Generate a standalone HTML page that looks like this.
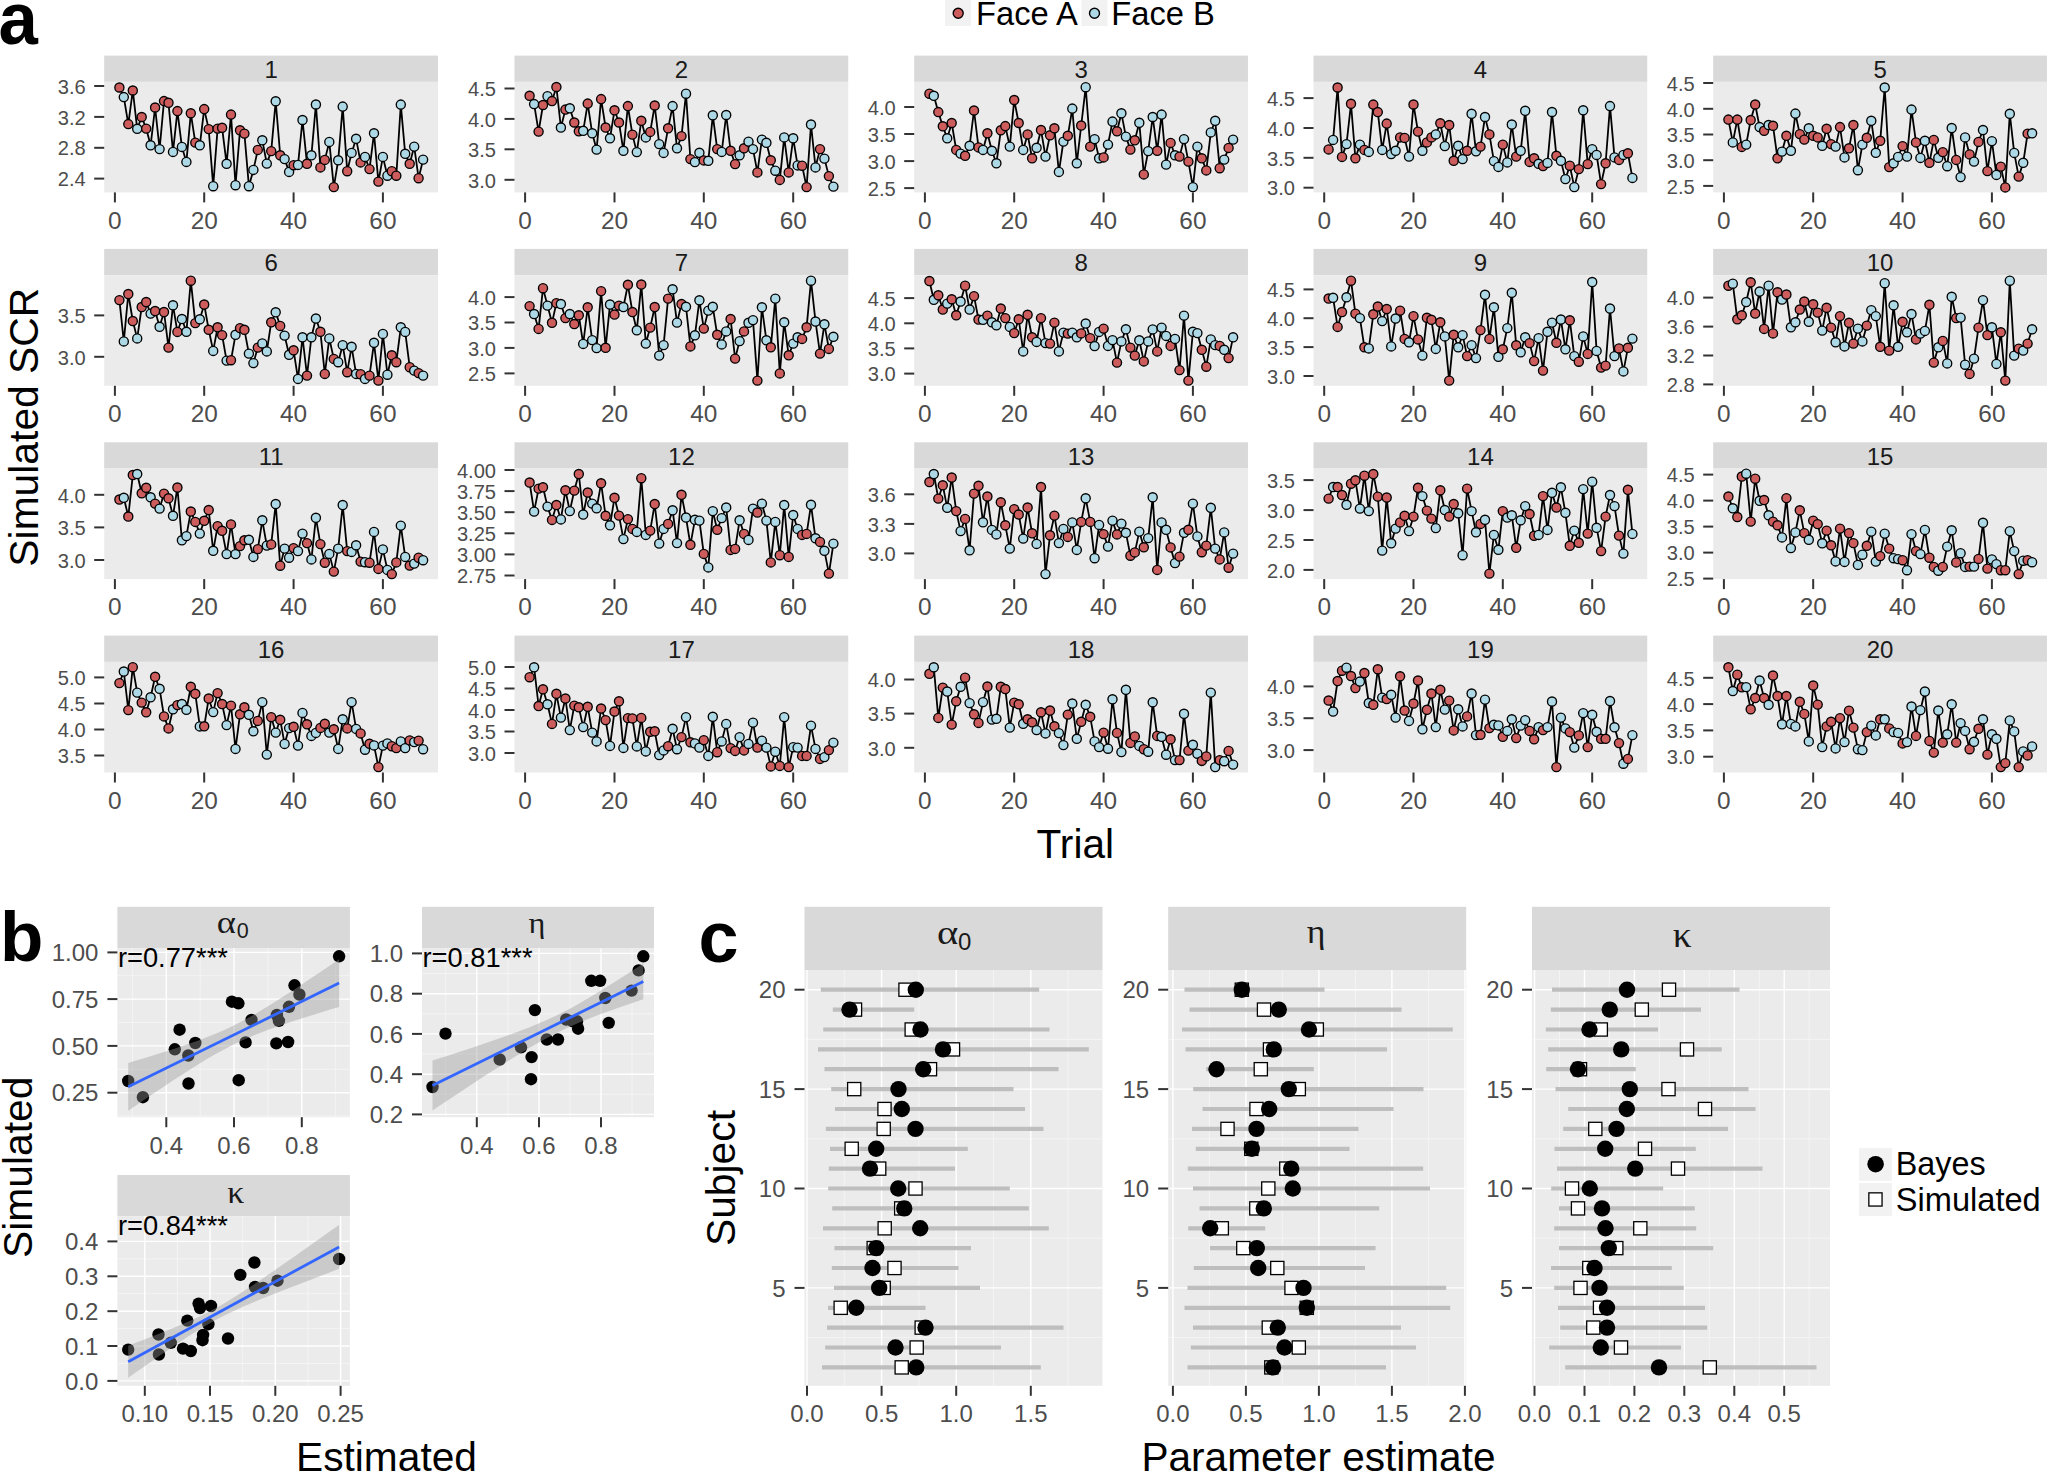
<!DOCTYPE html>
<html lang="en"><head><meta charset="utf-8"><title>Figure</title>
<style>
html,body{margin:0;padding:0;background:#fff;}
body{width:2048px;height:1472px;overflow:hidden;}
svg{display:block;font-family:"Liberation Sans", Arial, Helvetica, sans-serif;}
</style></head><body>
<svg width="2048" height="1472" viewBox="0 0 2048 1472">
<rect width="2048" height="1472" fill="#fff"/>
<g id="panel-a">
<rect x="104.2" y="55.6" width="333.75" height="26.25" fill="#D9D9D9"/>
<rect x="104.2" y="81.8" width="333.75" height="110.6" fill="#EBEBEB"/>
<text x="271.1" y="77.8" font-size="24" text-anchor="middle" fill="#1A1A1A">1</text>
<line x1="94.2" x2="104.2" y1="86" y2="86" stroke="#333333" stroke-width="2"/>
<text x="85.8" y="93.7" font-size="20.1" text-anchor="end" fill="#4D4D4D">3.6</text>
<line x1="94.2" x2="104.2" y1="116.9" y2="116.9" stroke="#333333" stroke-width="2"/>
<text x="85.8" y="124.6" font-size="20.1" text-anchor="end" fill="#4D4D4D">3.2</text>
<line x1="94.2" x2="104.2" y1="147.8" y2="147.8" stroke="#333333" stroke-width="2"/>
<text x="85.8" y="155.4" font-size="20.1" text-anchor="end" fill="#4D4D4D">2.8</text>
<line x1="94.2" x2="104.2" y1="178.6" y2="178.6" stroke="#333333" stroke-width="2"/>
<text x="85.8" y="186.3" font-size="20.1" text-anchor="end" fill="#4D4D4D">2.4</text>
<line x1="114.9" x2="114.9" y1="192.4" y2="202.4" stroke="#333333" stroke-width="2"/>
<text x="114.9" y="228.6" font-size="24.4" text-anchor="middle" fill="#4D4D4D">0</text>
<line x1="204.2" x2="204.2" y1="192.4" y2="202.4" stroke="#333333" stroke-width="2"/>
<text x="204.2" y="228.6" font-size="24.4" text-anchor="middle" fill="#4D4D4D">20</text>
<line x1="293.6" x2="293.6" y1="192.4" y2="202.4" stroke="#333333" stroke-width="2"/>
<text x="293.6" y="228.6" font-size="24.4" text-anchor="middle" fill="#4D4D4D">40</text>
<line x1="382.9" x2="382.9" y1="192.4" y2="202.4" stroke="#333333" stroke-width="2"/>
<text x="382.9" y="228.6" font-size="24.4" text-anchor="middle" fill="#4D4D4D">60</text>
<polyline fill="none" stroke="#000" stroke-width="1.8" stroke-linejoin="round" points="119.4,87.5 123.8,97.1 128.3,124.1 132.8,90.5 137.2,128.8 141.7,117 146.2,128.6 150.6,145.3 155.1,107.5 159.6,149.1 164,101.1 168.5,102.8 173,151.9 177.4,111.1 181.9,146.9 186.4,161.9 190.8,113.3 195.3,142.6 199.8,145.3 204.2,109.1 208.7,129.1 213.2,186.2 217.6,128.6 222.1,127.8 226.6,163.8 231,114.6 235.5,185.2 240,130.3 244.4,133.6 248.9,186.2 253.4,169.9 257.8,149.9 262.3,140.3 266.8,163.6 271.2,151.1 275.7,101.3 280.2,155.3 284.6,159.1 289.1,171.9 293.6,165.2 298,164.9 302.5,120 307,163.8 311.4,155.3 315.9,104.5 320.4,167.4 324.8,159.9 329.3,141.9 333.8,187.1 338.2,160.3 342.7,106.6 347.2,171.2 351.6,152.9 356.1,138.8 360.6,162.4 365,156.9 369.5,169.1 374,133.3 378.4,181.6 382.9,156.9 387.4,175.7 391.8,171.2 396.3,175.7 400.8,104.6 405.2,153.8 409.7,163.8 414.2,146.6 418.6,178.2 423.1,159.6"/>
<circle cx="119.4" cy="87.5" r="4.55" fill="#CD5C5C" stroke="#000" stroke-width="1.35"/>
<circle cx="123.8" cy="97.1" r="4.55" fill="#ADD8E6" stroke="#000" stroke-width="1.35"/>
<circle cx="128.3" cy="124.1" r="4.55" fill="#CD5C5C" stroke="#000" stroke-width="1.35"/>
<circle cx="132.8" cy="90.5" r="4.55" fill="#CD5C5C" stroke="#000" stroke-width="1.35"/>
<circle cx="137.2" cy="128.8" r="4.55" fill="#ADD8E6" stroke="#000" stroke-width="1.35"/>
<circle cx="141.7" cy="117" r="4.55" fill="#CD5C5C" stroke="#000" stroke-width="1.35"/>
<circle cx="146.2" cy="128.6" r="4.55" fill="#CD5C5C" stroke="#000" stroke-width="1.35"/>
<circle cx="150.6" cy="145.3" r="4.55" fill="#ADD8E6" stroke="#000" stroke-width="1.35"/>
<circle cx="155.1" cy="107.5" r="4.55" fill="#CD5C5C" stroke="#000" stroke-width="1.35"/>
<circle cx="159.6" cy="149.1" r="4.55" fill="#ADD8E6" stroke="#000" stroke-width="1.35"/>
<circle cx="164" cy="101.1" r="4.55" fill="#CD5C5C" stroke="#000" stroke-width="1.35"/>
<circle cx="168.5" cy="102.8" r="4.55" fill="#CD5C5C" stroke="#000" stroke-width="1.35"/>
<circle cx="173" cy="151.9" r="4.55" fill="#ADD8E6" stroke="#000" stroke-width="1.35"/>
<circle cx="177.4" cy="111.1" r="4.55" fill="#CD5C5C" stroke="#000" stroke-width="1.35"/>
<circle cx="181.9" cy="146.9" r="4.55" fill="#ADD8E6" stroke="#000" stroke-width="1.35"/>
<circle cx="186.4" cy="161.9" r="4.55" fill="#ADD8E6" stroke="#000" stroke-width="1.35"/>
<circle cx="190.8" cy="113.3" r="4.55" fill="#CD5C5C" stroke="#000" stroke-width="1.35"/>
<circle cx="195.3" cy="142.6" r="4.55" fill="#CD5C5C" stroke="#000" stroke-width="1.35"/>
<circle cx="199.8" cy="145.3" r="4.55" fill="#ADD8E6" stroke="#000" stroke-width="1.35"/>
<circle cx="204.2" cy="109.1" r="4.55" fill="#CD5C5C" stroke="#000" stroke-width="1.35"/>
<circle cx="208.7" cy="129.1" r="4.55" fill="#CD5C5C" stroke="#000" stroke-width="1.35"/>
<circle cx="213.2" cy="186.2" r="4.55" fill="#ADD8E6" stroke="#000" stroke-width="1.35"/>
<circle cx="217.6" cy="128.6" r="4.55" fill="#CD5C5C" stroke="#000" stroke-width="1.35"/>
<circle cx="222.1" cy="127.8" r="4.55" fill="#CD5C5C" stroke="#000" stroke-width="1.35"/>
<circle cx="226.6" cy="163.8" r="4.55" fill="#ADD8E6" stroke="#000" stroke-width="1.35"/>
<circle cx="231" cy="114.6" r="4.55" fill="#CD5C5C" stroke="#000" stroke-width="1.35"/>
<circle cx="235.5" cy="185.2" r="4.55" fill="#ADD8E6" stroke="#000" stroke-width="1.35"/>
<circle cx="240" cy="130.3" r="4.55" fill="#CD5C5C" stroke="#000" stroke-width="1.35"/>
<circle cx="244.4" cy="133.6" r="4.55" fill="#CD5C5C" stroke="#000" stroke-width="1.35"/>
<circle cx="248.9" cy="186.2" r="4.55" fill="#ADD8E6" stroke="#000" stroke-width="1.35"/>
<circle cx="253.4" cy="169.9" r="4.55" fill="#ADD8E6" stroke="#000" stroke-width="1.35"/>
<circle cx="257.8" cy="149.9" r="4.55" fill="#CD5C5C" stroke="#000" stroke-width="1.35"/>
<circle cx="262.3" cy="140.3" r="4.55" fill="#ADD8E6" stroke="#000" stroke-width="1.35"/>
<circle cx="266.8" cy="163.6" r="4.55" fill="#ADD8E6" stroke="#000" stroke-width="1.35"/>
<circle cx="271.2" cy="151.1" r="4.55" fill="#CD5C5C" stroke="#000" stroke-width="1.35"/>
<circle cx="275.7" cy="101.3" r="4.55" fill="#ADD8E6" stroke="#000" stroke-width="1.35"/>
<circle cx="280.2" cy="155.3" r="4.55" fill="#CD5C5C" stroke="#000" stroke-width="1.35"/>
<circle cx="284.6" cy="159.1" r="4.55" fill="#ADD8E6" stroke="#000" stroke-width="1.35"/>
<circle cx="289.1" cy="171.9" r="4.55" fill="#ADD8E6" stroke="#000" stroke-width="1.35"/>
<circle cx="293.6" cy="165.2" r="4.55" fill="#CD5C5C" stroke="#000" stroke-width="1.35"/>
<circle cx="298" cy="164.9" r="4.55" fill="#ADD8E6" stroke="#000" stroke-width="1.35"/>
<circle cx="302.5" cy="120" r="4.55" fill="#ADD8E6" stroke="#000" stroke-width="1.35"/>
<circle cx="307" cy="163.8" r="4.55" fill="#CD5C5C" stroke="#000" stroke-width="1.35"/>
<circle cx="311.4" cy="155.3" r="4.55" fill="#ADD8E6" stroke="#000" stroke-width="1.35"/>
<circle cx="315.9" cy="104.5" r="4.55" fill="#ADD8E6" stroke="#000" stroke-width="1.35"/>
<circle cx="320.4" cy="167.4" r="4.55" fill="#CD5C5C" stroke="#000" stroke-width="1.35"/>
<circle cx="324.8" cy="159.9" r="4.55" fill="#CD5C5C" stroke="#000" stroke-width="1.35"/>
<circle cx="329.3" cy="141.9" r="4.55" fill="#ADD8E6" stroke="#000" stroke-width="1.35"/>
<circle cx="333.8" cy="187.1" r="4.55" fill="#CD5C5C" stroke="#000" stroke-width="1.35"/>
<circle cx="338.2" cy="160.3" r="4.55" fill="#ADD8E6" stroke="#000" stroke-width="1.35"/>
<circle cx="342.7" cy="106.6" r="4.55" fill="#ADD8E6" stroke="#000" stroke-width="1.35"/>
<circle cx="347.2" cy="171.2" r="4.55" fill="#CD5C5C" stroke="#000" stroke-width="1.35"/>
<circle cx="351.6" cy="152.9" r="4.55" fill="#ADD8E6" stroke="#000" stroke-width="1.35"/>
<circle cx="356.1" cy="138.8" r="4.55" fill="#ADD8E6" stroke="#000" stroke-width="1.35"/>
<circle cx="360.6" cy="162.4" r="4.55" fill="#CD5C5C" stroke="#000" stroke-width="1.35"/>
<circle cx="365" cy="156.9" r="4.55" fill="#ADD8E6" stroke="#000" stroke-width="1.35"/>
<circle cx="369.5" cy="169.1" r="4.55" fill="#CD5C5C" stroke="#000" stroke-width="1.35"/>
<circle cx="374" cy="133.3" r="4.55" fill="#ADD8E6" stroke="#000" stroke-width="1.35"/>
<circle cx="378.4" cy="181.6" r="4.55" fill="#CD5C5C" stroke="#000" stroke-width="1.35"/>
<circle cx="382.9" cy="156.9" r="4.55" fill="#ADD8E6" stroke="#000" stroke-width="1.35"/>
<circle cx="387.4" cy="175.7" r="4.55" fill="#ADD8E6" stroke="#000" stroke-width="1.35"/>
<circle cx="391.8" cy="171.2" r="4.55" fill="#CD5C5C" stroke="#000" stroke-width="1.35"/>
<circle cx="396.3" cy="175.7" r="4.55" fill="#CD5C5C" stroke="#000" stroke-width="1.35"/>
<circle cx="400.8" cy="104.6" r="4.55" fill="#ADD8E6" stroke="#000" stroke-width="1.35"/>
<circle cx="405.2" cy="153.8" r="4.55" fill="#ADD8E6" stroke="#000" stroke-width="1.35"/>
<circle cx="409.7" cy="163.8" r="4.55" fill="#CD5C5C" stroke="#000" stroke-width="1.35"/>
<circle cx="414.2" cy="146.6" r="4.55" fill="#ADD8E6" stroke="#000" stroke-width="1.35"/>
<circle cx="418.6" cy="178.2" r="4.55" fill="#CD5C5C" stroke="#000" stroke-width="1.35"/>
<circle cx="423.1" cy="159.6" r="4.55" fill="#ADD8E6" stroke="#000" stroke-width="1.35"/>
<rect x="514.5" y="55.6" width="333.75" height="26.25" fill="#D9D9D9"/>
<rect x="514.5" y="81.8" width="333.75" height="110.6" fill="#EBEBEB"/>
<text x="681.4" y="77.8" font-size="24" text-anchor="middle" fill="#1A1A1A">2</text>
<line x1="504.5" x2="514.5" y1="88.5" y2="88.5" stroke="#333333" stroke-width="2"/>
<text x="496" y="96.2" font-size="20.1" text-anchor="end" fill="#4D4D4D">4.5</text>
<line x1="504.5" x2="514.5" y1="118.9" y2="118.9" stroke="#333333" stroke-width="2"/>
<text x="496" y="126.6" font-size="20.1" text-anchor="end" fill="#4D4D4D">4.0</text>
<line x1="504.5" x2="514.5" y1="149.3" y2="149.3" stroke="#333333" stroke-width="2"/>
<text x="496" y="157" font-size="20.1" text-anchor="end" fill="#4D4D4D">3.5</text>
<line x1="504.5" x2="514.5" y1="179.8" y2="179.8" stroke="#333333" stroke-width="2"/>
<text x="496" y="187.5" font-size="20.1" text-anchor="end" fill="#4D4D4D">3.0</text>
<line x1="525.1" x2="525.1" y1="192.4" y2="202.4" stroke="#333333" stroke-width="2"/>
<text x="525.1" y="228.6" font-size="24.4" text-anchor="middle" fill="#4D4D4D">0</text>
<line x1="614.5" x2="614.5" y1="192.4" y2="202.4" stroke="#333333" stroke-width="2"/>
<text x="614.5" y="228.6" font-size="24.4" text-anchor="middle" fill="#4D4D4D">20</text>
<line x1="703.8" x2="703.8" y1="192.4" y2="202.4" stroke="#333333" stroke-width="2"/>
<text x="703.8" y="228.6" font-size="24.4" text-anchor="middle" fill="#4D4D4D">40</text>
<line x1="793.2" x2="793.2" y1="192.4" y2="202.4" stroke="#333333" stroke-width="2"/>
<text x="793.2" y="228.6" font-size="24.4" text-anchor="middle" fill="#4D4D4D">60</text>
<polyline fill="none" stroke="#000" stroke-width="1.8" stroke-linejoin="round" points="529.6,95.8 534.1,104.1 538.6,131.6 543,105 547.5,96.2 552,101.1 556.4,87 560.9,127.5 565.4,109.6 569.8,108.3 574.3,122.5 578.8,131.3 583.2,130.8 587.7,103.6 592.2,133.3 596.6,149.6 601.1,99.1 605.6,127.5 610,138.3 614.5,110.3 619,122.5 623.4,150.8 627.9,106.1 632.4,134.6 636.8,152.1 641.3,120.8 645.8,137.4 650.2,131.9 654.7,105.5 659.2,144.1 663.6,152.9 668.1,128.3 672.6,106.1 677,148.3 681.5,136.1 686,93.7 690.4,159.1 694.9,162.1 699.4,152.8 703.8,160.4 708.3,160.8 712.8,115.3 717.2,149.1 721.7,151.9 726.2,115 730.6,150.8 735.1,164.1 739.6,155.3 744,148.3 748.5,141.6 753,149.1 757.4,172.4 761.9,139.6 766.4,142.8 770.8,160.3 775.3,170.7 779.8,179.9 784.2,137.4 788.7,172.4 793.2,138.3 797.6,165.4 802.1,165.7 806.6,187.1 811,124.5 815.5,167.4 820,149.1 824.4,158.6 828.9,176.1 833.4,186.6"/>
<circle cx="529.6" cy="95.8" r="4.55" fill="#CD5C5C" stroke="#000" stroke-width="1.35"/>
<circle cx="534.1" cy="104.1" r="4.55" fill="#ADD8E6" stroke="#000" stroke-width="1.35"/>
<circle cx="538.6" cy="131.6" r="4.55" fill="#CD5C5C" stroke="#000" stroke-width="1.35"/>
<circle cx="543" cy="105" r="4.55" fill="#CD5C5C" stroke="#000" stroke-width="1.35"/>
<circle cx="547.5" cy="96.2" r="4.55" fill="#ADD8E6" stroke="#000" stroke-width="1.35"/>
<circle cx="552" cy="101.1" r="4.55" fill="#CD5C5C" stroke="#000" stroke-width="1.35"/>
<circle cx="556.4" cy="87" r="4.55" fill="#CD5C5C" stroke="#000" stroke-width="1.35"/>
<circle cx="560.9" cy="127.5" r="4.55" fill="#ADD8E6" stroke="#000" stroke-width="1.35"/>
<circle cx="565.4" cy="109.6" r="4.55" fill="#CD5C5C" stroke="#000" stroke-width="1.35"/>
<circle cx="569.8" cy="108.3" r="4.55" fill="#ADD8E6" stroke="#000" stroke-width="1.35"/>
<circle cx="574.3" cy="122.5" r="4.55" fill="#CD5C5C" stroke="#000" stroke-width="1.35"/>
<circle cx="578.8" cy="131.3" r="4.55" fill="#CD5C5C" stroke="#000" stroke-width="1.35"/>
<circle cx="583.2" cy="130.8" r="4.55" fill="#ADD8E6" stroke="#000" stroke-width="1.35"/>
<circle cx="587.7" cy="103.6" r="4.55" fill="#CD5C5C" stroke="#000" stroke-width="1.35"/>
<circle cx="592.2" cy="133.3" r="4.55" fill="#ADD8E6" stroke="#000" stroke-width="1.35"/>
<circle cx="596.6" cy="149.6" r="4.55" fill="#ADD8E6" stroke="#000" stroke-width="1.35"/>
<circle cx="601.1" cy="99.1" r="4.55" fill="#CD5C5C" stroke="#000" stroke-width="1.35"/>
<circle cx="605.6" cy="127.5" r="4.55" fill="#CD5C5C" stroke="#000" stroke-width="1.35"/>
<circle cx="610" cy="138.3" r="4.55" fill="#ADD8E6" stroke="#000" stroke-width="1.35"/>
<circle cx="614.5" cy="110.3" r="4.55" fill="#CD5C5C" stroke="#000" stroke-width="1.35"/>
<circle cx="619" cy="122.5" r="4.55" fill="#CD5C5C" stroke="#000" stroke-width="1.35"/>
<circle cx="623.4" cy="150.8" r="4.55" fill="#ADD8E6" stroke="#000" stroke-width="1.35"/>
<circle cx="627.9" cy="106.1" r="4.55" fill="#CD5C5C" stroke="#000" stroke-width="1.35"/>
<circle cx="632.4" cy="134.6" r="4.55" fill="#CD5C5C" stroke="#000" stroke-width="1.35"/>
<circle cx="636.8" cy="152.1" r="4.55" fill="#ADD8E6" stroke="#000" stroke-width="1.35"/>
<circle cx="641.3" cy="120.8" r="4.55" fill="#CD5C5C" stroke="#000" stroke-width="1.35"/>
<circle cx="645.8" cy="137.4" r="4.55" fill="#ADD8E6" stroke="#000" stroke-width="1.35"/>
<circle cx="650.2" cy="131.9" r="4.55" fill="#CD5C5C" stroke="#000" stroke-width="1.35"/>
<circle cx="654.7" cy="105.5" r="4.55" fill="#CD5C5C" stroke="#000" stroke-width="1.35"/>
<circle cx="659.2" cy="144.1" r="4.55" fill="#ADD8E6" stroke="#000" stroke-width="1.35"/>
<circle cx="663.6" cy="152.9" r="4.55" fill="#ADD8E6" stroke="#000" stroke-width="1.35"/>
<circle cx="668.1" cy="128.3" r="4.55" fill="#CD5C5C" stroke="#000" stroke-width="1.35"/>
<circle cx="672.6" cy="106.1" r="4.55" fill="#ADD8E6" stroke="#000" stroke-width="1.35"/>
<circle cx="677" cy="148.3" r="4.55" fill="#ADD8E6" stroke="#000" stroke-width="1.35"/>
<circle cx="681.5" cy="136.1" r="4.55" fill="#CD5C5C" stroke="#000" stroke-width="1.35"/>
<circle cx="686" cy="93.7" r="4.55" fill="#ADD8E6" stroke="#000" stroke-width="1.35"/>
<circle cx="690.4" cy="159.1" r="4.55" fill="#CD5C5C" stroke="#000" stroke-width="1.35"/>
<circle cx="694.9" cy="162.1" r="4.55" fill="#ADD8E6" stroke="#000" stroke-width="1.35"/>
<circle cx="699.4" cy="152.8" r="4.55" fill="#ADD8E6" stroke="#000" stroke-width="1.35"/>
<circle cx="703.8" cy="160.4" r="4.55" fill="#CD5C5C" stroke="#000" stroke-width="1.35"/>
<circle cx="708.3" cy="160.8" r="4.55" fill="#ADD8E6" stroke="#000" stroke-width="1.35"/>
<circle cx="712.8" cy="115.3" r="4.55" fill="#ADD8E6" stroke="#000" stroke-width="1.35"/>
<circle cx="717.2" cy="149.1" r="4.55" fill="#CD5C5C" stroke="#000" stroke-width="1.35"/>
<circle cx="721.7" cy="151.9" r="4.55" fill="#ADD8E6" stroke="#000" stroke-width="1.35"/>
<circle cx="726.2" cy="115" r="4.55" fill="#ADD8E6" stroke="#000" stroke-width="1.35"/>
<circle cx="730.6" cy="150.8" r="4.55" fill="#CD5C5C" stroke="#000" stroke-width="1.35"/>
<circle cx="735.1" cy="164.1" r="4.55" fill="#CD5C5C" stroke="#000" stroke-width="1.35"/>
<circle cx="739.6" cy="155.3" r="4.55" fill="#ADD8E6" stroke="#000" stroke-width="1.35"/>
<circle cx="744" cy="148.3" r="4.55" fill="#CD5C5C" stroke="#000" stroke-width="1.35"/>
<circle cx="748.5" cy="141.6" r="4.55" fill="#ADD8E6" stroke="#000" stroke-width="1.35"/>
<circle cx="753" cy="149.1" r="4.55" fill="#ADD8E6" stroke="#000" stroke-width="1.35"/>
<circle cx="757.4" cy="172.4" r="4.55" fill="#CD5C5C" stroke="#000" stroke-width="1.35"/>
<circle cx="761.9" cy="139.6" r="4.55" fill="#ADD8E6" stroke="#000" stroke-width="1.35"/>
<circle cx="766.4" cy="142.8" r="4.55" fill="#ADD8E6" stroke="#000" stroke-width="1.35"/>
<circle cx="770.8" cy="160.3" r="4.55" fill="#CD5C5C" stroke="#000" stroke-width="1.35"/>
<circle cx="775.3" cy="170.7" r="4.55" fill="#ADD8E6" stroke="#000" stroke-width="1.35"/>
<circle cx="779.8" cy="179.9" r="4.55" fill="#CD5C5C" stroke="#000" stroke-width="1.35"/>
<circle cx="784.2" cy="137.4" r="4.55" fill="#ADD8E6" stroke="#000" stroke-width="1.35"/>
<circle cx="788.7" cy="172.4" r="4.55" fill="#CD5C5C" stroke="#000" stroke-width="1.35"/>
<circle cx="793.2" cy="138.3" r="4.55" fill="#ADD8E6" stroke="#000" stroke-width="1.35"/>
<circle cx="797.6" cy="165.4" r="4.55" fill="#ADD8E6" stroke="#000" stroke-width="1.35"/>
<circle cx="802.1" cy="165.7" r="4.55" fill="#CD5C5C" stroke="#000" stroke-width="1.35"/>
<circle cx="806.6" cy="187.1" r="4.55" fill="#CD5C5C" stroke="#000" stroke-width="1.35"/>
<circle cx="811" cy="124.5" r="4.55" fill="#ADD8E6" stroke="#000" stroke-width="1.35"/>
<circle cx="815.5" cy="167.4" r="4.55" fill="#ADD8E6" stroke="#000" stroke-width="1.35"/>
<circle cx="820" cy="149.1" r="4.55" fill="#CD5C5C" stroke="#000" stroke-width="1.35"/>
<circle cx="824.4" cy="158.6" r="4.55" fill="#ADD8E6" stroke="#000" stroke-width="1.35"/>
<circle cx="828.9" cy="176.1" r="4.55" fill="#CD5C5C" stroke="#000" stroke-width="1.35"/>
<circle cx="833.4" cy="186.6" r="4.55" fill="#ADD8E6" stroke="#000" stroke-width="1.35"/>
<rect x="914.2" y="55.6" width="333.75" height="26.25" fill="#D9D9D9"/>
<rect x="914.2" y="81.8" width="333.75" height="110.6" fill="#EBEBEB"/>
<text x="1081.1" y="77.8" font-size="24" text-anchor="middle" fill="#1A1A1A">3</text>
<line x1="904.2" x2="914.2" y1="107" y2="107" stroke="#333333" stroke-width="2"/>
<text x="895.8" y="114.7" font-size="20.1" text-anchor="end" fill="#4D4D4D">4.0</text>
<line x1="904.2" x2="914.2" y1="134" y2="134" stroke="#333333" stroke-width="2"/>
<text x="895.8" y="141.7" font-size="20.1" text-anchor="end" fill="#4D4D4D">3.5</text>
<line x1="904.2" x2="914.2" y1="161.1" y2="161.1" stroke="#333333" stroke-width="2"/>
<text x="895.8" y="168.8" font-size="20.1" text-anchor="end" fill="#4D4D4D">3.0</text>
<line x1="904.2" x2="914.2" y1="188.1" y2="188.1" stroke="#333333" stroke-width="2"/>
<text x="895.8" y="195.8" font-size="20.1" text-anchor="end" fill="#4D4D4D">2.5</text>
<line x1="924.9" x2="924.9" y1="192.4" y2="202.4" stroke="#333333" stroke-width="2"/>
<text x="924.9" y="228.6" font-size="24.4" text-anchor="middle" fill="#4D4D4D">0</text>
<line x1="1014.2" x2="1014.2" y1="192.4" y2="202.4" stroke="#333333" stroke-width="2"/>
<text x="1014.2" y="228.6" font-size="24.4" text-anchor="middle" fill="#4D4D4D">20</text>
<line x1="1103.6" x2="1103.6" y1="192.4" y2="202.4" stroke="#333333" stroke-width="2"/>
<text x="1103.6" y="228.6" font-size="24.4" text-anchor="middle" fill="#4D4D4D">40</text>
<line x1="1192.9" x2="1192.9" y1="192.4" y2="202.4" stroke="#333333" stroke-width="2"/>
<text x="1192.9" y="228.6" font-size="24.4" text-anchor="middle" fill="#4D4D4D">60</text>
<polyline fill="none" stroke="#000" stroke-width="1.8" stroke-linejoin="round" points="929.4,93.7 933.8,95.8 938.3,112.1 942.8,126.3 947.2,138.3 951.7,123 956.2,149.9 960.6,153.6 965.1,155.8 969.6,145.8 974,110.5 978.5,147.4 983,149.9 987.4,133.3 991.9,150.8 996.4,163.3 1000.8,130.3 1005.3,126.1 1009.8,146.6 1014.2,100 1018.7,123 1023.2,149.9 1027.6,134.4 1032.1,158.3 1036.6,147.8 1041,130 1045.5,156.6 1050,135.3 1054.4,128.3 1058.9,171.9 1063.4,141.6 1067.8,135.8 1072.3,108.6 1076.8,163.3 1081.2,125.5 1085.7,87.2 1090.2,146.6 1094.6,139.1 1099.1,158.3 1103.6,157.4 1108,144.6 1112.5,121.6 1117,131.3 1121.4,113.3 1125.9,136.6 1130.4,149.6 1134.8,140.3 1139.3,122.8 1143.8,174.4 1148.2,151.1 1152.7,117 1157.2,150.8 1161.6,114.6 1166.1,164.6 1170.6,142.9 1175,155.3 1179.5,156.6 1184,139.1 1188.4,161.6 1192.9,187.1 1197.4,146.6 1201.8,158.3 1206.3,170.4 1210.8,132.4 1215.2,120.8 1219.7,168.2 1224.2,159.6 1228.6,147.9 1233.1,139.6"/>
<circle cx="929.4" cy="93.7" r="4.55" fill="#CD5C5C" stroke="#000" stroke-width="1.35"/>
<circle cx="933.8" cy="95.8" r="4.55" fill="#ADD8E6" stroke="#000" stroke-width="1.35"/>
<circle cx="938.3" cy="112.1" r="4.55" fill="#CD5C5C" stroke="#000" stroke-width="1.35"/>
<circle cx="942.8" cy="126.3" r="4.55" fill="#CD5C5C" stroke="#000" stroke-width="1.35"/>
<circle cx="947.2" cy="138.3" r="4.55" fill="#ADD8E6" stroke="#000" stroke-width="1.35"/>
<circle cx="951.7" cy="123" r="4.55" fill="#CD5C5C" stroke="#000" stroke-width="1.35"/>
<circle cx="956.2" cy="149.9" r="4.55" fill="#CD5C5C" stroke="#000" stroke-width="1.35"/>
<circle cx="960.6" cy="153.6" r="4.55" fill="#ADD8E6" stroke="#000" stroke-width="1.35"/>
<circle cx="965.1" cy="155.8" r="4.55" fill="#CD5C5C" stroke="#000" stroke-width="1.35"/>
<circle cx="969.6" cy="145.8" r="4.55" fill="#ADD8E6" stroke="#000" stroke-width="1.35"/>
<circle cx="974" cy="110.5" r="4.55" fill="#CD5C5C" stroke="#000" stroke-width="1.35"/>
<circle cx="978.5" cy="147.4" r="4.55" fill="#CD5C5C" stroke="#000" stroke-width="1.35"/>
<circle cx="983" cy="149.9" r="4.55" fill="#ADD8E6" stroke="#000" stroke-width="1.35"/>
<circle cx="987.4" cy="133.3" r="4.55" fill="#CD5C5C" stroke="#000" stroke-width="1.35"/>
<circle cx="991.9" cy="150.8" r="4.55" fill="#ADD8E6" stroke="#000" stroke-width="1.35"/>
<circle cx="996.4" cy="163.3" r="4.55" fill="#ADD8E6" stroke="#000" stroke-width="1.35"/>
<circle cx="1000.8" cy="130.3" r="4.55" fill="#CD5C5C" stroke="#000" stroke-width="1.35"/>
<circle cx="1005.3" cy="126.1" r="4.55" fill="#CD5C5C" stroke="#000" stroke-width="1.35"/>
<circle cx="1009.8" cy="146.6" r="4.55" fill="#ADD8E6" stroke="#000" stroke-width="1.35"/>
<circle cx="1014.2" cy="100" r="4.55" fill="#CD5C5C" stroke="#000" stroke-width="1.35"/>
<circle cx="1018.7" cy="123" r="4.55" fill="#CD5C5C" stroke="#000" stroke-width="1.35"/>
<circle cx="1023.2" cy="149.9" r="4.55" fill="#ADD8E6" stroke="#000" stroke-width="1.35"/>
<circle cx="1027.6" cy="134.4" r="4.55" fill="#CD5C5C" stroke="#000" stroke-width="1.35"/>
<circle cx="1032.1" cy="158.3" r="4.55" fill="#CD5C5C" stroke="#000" stroke-width="1.35"/>
<circle cx="1036.6" cy="147.8" r="4.55" fill="#ADD8E6" stroke="#000" stroke-width="1.35"/>
<circle cx="1041" cy="130" r="4.55" fill="#CD5C5C" stroke="#000" stroke-width="1.35"/>
<circle cx="1045.5" cy="156.6" r="4.55" fill="#ADD8E6" stroke="#000" stroke-width="1.35"/>
<circle cx="1050" cy="135.3" r="4.55" fill="#CD5C5C" stroke="#000" stroke-width="1.35"/>
<circle cx="1054.4" cy="128.3" r="4.55" fill="#CD5C5C" stroke="#000" stroke-width="1.35"/>
<circle cx="1058.9" cy="171.9" r="4.55" fill="#ADD8E6" stroke="#000" stroke-width="1.35"/>
<circle cx="1063.4" cy="141.6" r="4.55" fill="#ADD8E6" stroke="#000" stroke-width="1.35"/>
<circle cx="1067.8" cy="135.8" r="4.55" fill="#CD5C5C" stroke="#000" stroke-width="1.35"/>
<circle cx="1072.3" cy="108.6" r="4.55" fill="#ADD8E6" stroke="#000" stroke-width="1.35"/>
<circle cx="1076.8" cy="163.3" r="4.55" fill="#ADD8E6" stroke="#000" stroke-width="1.35"/>
<circle cx="1081.2" cy="125.5" r="4.55" fill="#CD5C5C" stroke="#000" stroke-width="1.35"/>
<circle cx="1085.7" cy="87.2" r="4.55" fill="#ADD8E6" stroke="#000" stroke-width="1.35"/>
<circle cx="1090.2" cy="146.6" r="4.55" fill="#CD5C5C" stroke="#000" stroke-width="1.35"/>
<circle cx="1094.6" cy="139.1" r="4.55" fill="#ADD8E6" stroke="#000" stroke-width="1.35"/>
<circle cx="1099.1" cy="158.3" r="4.55" fill="#ADD8E6" stroke="#000" stroke-width="1.35"/>
<circle cx="1103.6" cy="157.4" r="4.55" fill="#CD5C5C" stroke="#000" stroke-width="1.35"/>
<circle cx="1108" cy="144.6" r="4.55" fill="#ADD8E6" stroke="#000" stroke-width="1.35"/>
<circle cx="1112.5" cy="121.6" r="4.55" fill="#ADD8E6" stroke="#000" stroke-width="1.35"/>
<circle cx="1117" cy="131.3" r="4.55" fill="#CD5C5C" stroke="#000" stroke-width="1.35"/>
<circle cx="1121.4" cy="113.3" r="4.55" fill="#ADD8E6" stroke="#000" stroke-width="1.35"/>
<circle cx="1125.9" cy="136.6" r="4.55" fill="#ADD8E6" stroke="#000" stroke-width="1.35"/>
<circle cx="1130.4" cy="149.6" r="4.55" fill="#CD5C5C" stroke="#000" stroke-width="1.35"/>
<circle cx="1134.8" cy="140.3" r="4.55" fill="#CD5C5C" stroke="#000" stroke-width="1.35"/>
<circle cx="1139.3" cy="122.8" r="4.55" fill="#ADD8E6" stroke="#000" stroke-width="1.35"/>
<circle cx="1143.8" cy="174.4" r="4.55" fill="#CD5C5C" stroke="#000" stroke-width="1.35"/>
<circle cx="1148.2" cy="151.1" r="4.55" fill="#ADD8E6" stroke="#000" stroke-width="1.35"/>
<circle cx="1152.7" cy="117" r="4.55" fill="#ADD8E6" stroke="#000" stroke-width="1.35"/>
<circle cx="1157.2" cy="150.8" r="4.55" fill="#CD5C5C" stroke="#000" stroke-width="1.35"/>
<circle cx="1161.6" cy="114.6" r="4.55" fill="#ADD8E6" stroke="#000" stroke-width="1.35"/>
<circle cx="1166.1" cy="164.6" r="4.55" fill="#ADD8E6" stroke="#000" stroke-width="1.35"/>
<circle cx="1170.6" cy="142.9" r="4.55" fill="#CD5C5C" stroke="#000" stroke-width="1.35"/>
<circle cx="1175" cy="155.3" r="4.55" fill="#ADD8E6" stroke="#000" stroke-width="1.35"/>
<circle cx="1179.5" cy="156.6" r="4.55" fill="#CD5C5C" stroke="#000" stroke-width="1.35"/>
<circle cx="1184" cy="139.1" r="4.55" fill="#ADD8E6" stroke="#000" stroke-width="1.35"/>
<circle cx="1188.4" cy="161.6" r="4.55" fill="#CD5C5C" stroke="#000" stroke-width="1.35"/>
<circle cx="1192.9" cy="187.1" r="4.55" fill="#ADD8E6" stroke="#000" stroke-width="1.35"/>
<circle cx="1197.4" cy="146.6" r="4.55" fill="#ADD8E6" stroke="#000" stroke-width="1.35"/>
<circle cx="1201.8" cy="158.3" r="4.55" fill="#CD5C5C" stroke="#000" stroke-width="1.35"/>
<circle cx="1206.3" cy="170.4" r="4.55" fill="#CD5C5C" stroke="#000" stroke-width="1.35"/>
<circle cx="1210.8" cy="132.4" r="4.55" fill="#ADD8E6" stroke="#000" stroke-width="1.35"/>
<circle cx="1215.2" cy="120.8" r="4.55" fill="#ADD8E6" stroke="#000" stroke-width="1.35"/>
<circle cx="1219.7" cy="168.2" r="4.55" fill="#CD5C5C" stroke="#000" stroke-width="1.35"/>
<circle cx="1224.2" cy="159.6" r="4.55" fill="#ADD8E6" stroke="#000" stroke-width="1.35"/>
<circle cx="1228.6" cy="147.9" r="4.55" fill="#CD5C5C" stroke="#000" stroke-width="1.35"/>
<circle cx="1233.1" cy="139.6" r="4.55" fill="#ADD8E6" stroke="#000" stroke-width="1.35"/>
<rect x="1313.5" y="55.6" width="333.75" height="26.25" fill="#D9D9D9"/>
<rect x="1313.5" y="81.8" width="333.75" height="110.6" fill="#EBEBEB"/>
<text x="1480.4" y="77.8" font-size="24" text-anchor="middle" fill="#1A1A1A">4</text>
<line x1="1303.5" x2="1313.5" y1="98.1" y2="98.1" stroke="#333333" stroke-width="2"/>
<text x="1295" y="105.8" font-size="20.1" text-anchor="end" fill="#4D4D4D">4.5</text>
<line x1="1303.5" x2="1313.5" y1="128" y2="128" stroke="#333333" stroke-width="2"/>
<text x="1295" y="135.7" font-size="20.1" text-anchor="end" fill="#4D4D4D">4.0</text>
<line x1="1303.5" x2="1313.5" y1="157.8" y2="157.8" stroke="#333333" stroke-width="2"/>
<text x="1295" y="165.5" font-size="20.1" text-anchor="end" fill="#4D4D4D">3.5</text>
<line x1="1303.5" x2="1313.5" y1="187.7" y2="187.7" stroke="#333333" stroke-width="2"/>
<text x="1295" y="195.4" font-size="20.1" text-anchor="end" fill="#4D4D4D">3.0</text>
<line x1="1324.2" x2="1324.2" y1="192.4" y2="202.4" stroke="#333333" stroke-width="2"/>
<text x="1324.2" y="228.6" font-size="24.4" text-anchor="middle" fill="#4D4D4D">0</text>
<line x1="1413.5" x2="1413.5" y1="192.4" y2="202.4" stroke="#333333" stroke-width="2"/>
<text x="1413.5" y="228.6" font-size="24.4" text-anchor="middle" fill="#4D4D4D">20</text>
<line x1="1502.8" x2="1502.8" y1="192.4" y2="202.4" stroke="#333333" stroke-width="2"/>
<text x="1502.8" y="228.6" font-size="24.4" text-anchor="middle" fill="#4D4D4D">40</text>
<line x1="1592.2" x2="1592.2" y1="192.4" y2="202.4" stroke="#333333" stroke-width="2"/>
<text x="1592.2" y="228.6" font-size="24.4" text-anchor="middle" fill="#4D4D4D">60</text>
<polyline fill="none" stroke="#000" stroke-width="1.8" stroke-linejoin="round" points="1328.6,149.4 1333.1,139.9 1337.6,87.5 1342,156.9 1346.5,144.1 1351,103.8 1355.4,158.3 1359.9,144.6 1364.4,149.9 1368.8,151.9 1373.3,104.6 1377.8,112.1 1382.2,149.9 1386.7,123.6 1391.2,154.1 1395.6,150.8 1400.1,137.4 1404.6,137.9 1409,156.6 1413.5,104.5 1418,131.6 1422.4,150.8 1426.9,142.4 1431.4,137.4 1435.8,134.4 1440.3,123.3 1444.8,146.1 1449.2,125 1453.7,160.8 1458.2,145.8 1462.6,159.1 1467.1,150.8 1471.6,113.8 1476,151.3 1480.5,146.6 1485,117 1489.4,134.4 1493.9,161.1 1498.4,166.9 1502.8,144.6 1507.3,162.4 1511.8,124.5 1516.2,156.6 1520.7,150.8 1525.2,110.8 1529.6,161.9 1534.1,158.3 1538.6,163.8 1543,166.1 1547.5,162.9 1552,112 1556.4,155.8 1560.9,160.8 1565.4,179.1 1569.8,165.7 1574.3,187.1 1578.8,169.1 1583.2,110.3 1587.7,164.1 1592.2,149.1 1596.6,154.9 1601.1,184.1 1605.6,163.3 1610,106.1 1614.5,157.4 1619,159.9 1623.4,154.9 1627.9,153.3 1632.4,177.9"/>
<circle cx="1328.6" cy="149.4" r="4.55" fill="#CD5C5C" stroke="#000" stroke-width="1.35"/>
<circle cx="1333.1" cy="139.9" r="4.55" fill="#ADD8E6" stroke="#000" stroke-width="1.35"/>
<circle cx="1337.6" cy="87.5" r="4.55" fill="#CD5C5C" stroke="#000" stroke-width="1.35"/>
<circle cx="1342" cy="156.9" r="4.55" fill="#CD5C5C" stroke="#000" stroke-width="1.35"/>
<circle cx="1346.5" cy="144.1" r="4.55" fill="#ADD8E6" stroke="#000" stroke-width="1.35"/>
<circle cx="1351" cy="103.8" r="4.55" fill="#CD5C5C" stroke="#000" stroke-width="1.35"/>
<circle cx="1355.4" cy="158.3" r="4.55" fill="#CD5C5C" stroke="#000" stroke-width="1.35"/>
<circle cx="1359.9" cy="144.6" r="4.55" fill="#ADD8E6" stroke="#000" stroke-width="1.35"/>
<circle cx="1364.4" cy="149.9" r="4.55" fill="#CD5C5C" stroke="#000" stroke-width="1.35"/>
<circle cx="1368.8" cy="151.9" r="4.55" fill="#ADD8E6" stroke="#000" stroke-width="1.35"/>
<circle cx="1373.3" cy="104.6" r="4.55" fill="#CD5C5C" stroke="#000" stroke-width="1.35"/>
<circle cx="1377.8" cy="112.1" r="4.55" fill="#CD5C5C" stroke="#000" stroke-width="1.35"/>
<circle cx="1382.2" cy="149.9" r="4.55" fill="#ADD8E6" stroke="#000" stroke-width="1.35"/>
<circle cx="1386.7" cy="123.6" r="4.55" fill="#CD5C5C" stroke="#000" stroke-width="1.35"/>
<circle cx="1391.2" cy="154.1" r="4.55" fill="#ADD8E6" stroke="#000" stroke-width="1.35"/>
<circle cx="1395.6" cy="150.8" r="4.55" fill="#ADD8E6" stroke="#000" stroke-width="1.35"/>
<circle cx="1400.1" cy="137.4" r="4.55" fill="#CD5C5C" stroke="#000" stroke-width="1.35"/>
<circle cx="1404.6" cy="137.9" r="4.55" fill="#CD5C5C" stroke="#000" stroke-width="1.35"/>
<circle cx="1409" cy="156.6" r="4.55" fill="#ADD8E6" stroke="#000" stroke-width="1.35"/>
<circle cx="1413.5" cy="104.5" r="4.55" fill="#CD5C5C" stroke="#000" stroke-width="1.35"/>
<circle cx="1418" cy="131.6" r="4.55" fill="#CD5C5C" stroke="#000" stroke-width="1.35"/>
<circle cx="1422.4" cy="150.8" r="4.55" fill="#ADD8E6" stroke="#000" stroke-width="1.35"/>
<circle cx="1426.9" cy="142.4" r="4.55" fill="#CD5C5C" stroke="#000" stroke-width="1.35"/>
<circle cx="1431.4" cy="137.4" r="4.55" fill="#CD5C5C" stroke="#000" stroke-width="1.35"/>
<circle cx="1435.8" cy="134.4" r="4.55" fill="#ADD8E6" stroke="#000" stroke-width="1.35"/>
<circle cx="1440.3" cy="123.3" r="4.55" fill="#CD5C5C" stroke="#000" stroke-width="1.35"/>
<circle cx="1444.8" cy="146.1" r="4.55" fill="#ADD8E6" stroke="#000" stroke-width="1.35"/>
<circle cx="1449.2" cy="125" r="4.55" fill="#CD5C5C" stroke="#000" stroke-width="1.35"/>
<circle cx="1453.7" cy="160.8" r="4.55" fill="#CD5C5C" stroke="#000" stroke-width="1.35"/>
<circle cx="1458.2" cy="145.8" r="4.55" fill="#ADD8E6" stroke="#000" stroke-width="1.35"/>
<circle cx="1462.6" cy="159.1" r="4.55" fill="#ADD8E6" stroke="#000" stroke-width="1.35"/>
<circle cx="1467.1" cy="150.8" r="4.55" fill="#CD5C5C" stroke="#000" stroke-width="1.35"/>
<circle cx="1471.6" cy="113.8" r="4.55" fill="#ADD8E6" stroke="#000" stroke-width="1.35"/>
<circle cx="1476" cy="151.3" r="4.55" fill="#ADD8E6" stroke="#000" stroke-width="1.35"/>
<circle cx="1480.5" cy="146.6" r="4.55" fill="#CD5C5C" stroke="#000" stroke-width="1.35"/>
<circle cx="1485" cy="117" r="4.55" fill="#ADD8E6" stroke="#000" stroke-width="1.35"/>
<circle cx="1489.4" cy="134.4" r="4.55" fill="#CD5C5C" stroke="#000" stroke-width="1.35"/>
<circle cx="1493.9" cy="161.1" r="4.55" fill="#ADD8E6" stroke="#000" stroke-width="1.35"/>
<circle cx="1498.4" cy="166.9" r="4.55" fill="#ADD8E6" stroke="#000" stroke-width="1.35"/>
<circle cx="1502.8" cy="144.6" r="4.55" fill="#CD5C5C" stroke="#000" stroke-width="1.35"/>
<circle cx="1507.3" cy="162.4" r="4.55" fill="#ADD8E6" stroke="#000" stroke-width="1.35"/>
<circle cx="1511.8" cy="124.5" r="4.55" fill="#ADD8E6" stroke="#000" stroke-width="1.35"/>
<circle cx="1516.2" cy="156.6" r="4.55" fill="#CD5C5C" stroke="#000" stroke-width="1.35"/>
<circle cx="1520.7" cy="150.8" r="4.55" fill="#ADD8E6" stroke="#000" stroke-width="1.35"/>
<circle cx="1525.2" cy="110.8" r="4.55" fill="#ADD8E6" stroke="#000" stroke-width="1.35"/>
<circle cx="1529.6" cy="161.9" r="4.55" fill="#CD5C5C" stroke="#000" stroke-width="1.35"/>
<circle cx="1534.1" cy="158.3" r="4.55" fill="#CD5C5C" stroke="#000" stroke-width="1.35"/>
<circle cx="1538.6" cy="163.8" r="4.55" fill="#ADD8E6" stroke="#000" stroke-width="1.35"/>
<circle cx="1543" cy="166.1" r="4.55" fill="#CD5C5C" stroke="#000" stroke-width="1.35"/>
<circle cx="1547.5" cy="162.9" r="4.55" fill="#ADD8E6" stroke="#000" stroke-width="1.35"/>
<circle cx="1552" cy="112" r="4.55" fill="#ADD8E6" stroke="#000" stroke-width="1.35"/>
<circle cx="1556.4" cy="155.8" r="4.55" fill="#CD5C5C" stroke="#000" stroke-width="1.35"/>
<circle cx="1560.9" cy="160.8" r="4.55" fill="#ADD8E6" stroke="#000" stroke-width="1.35"/>
<circle cx="1565.4" cy="179.1" r="4.55" fill="#ADD8E6" stroke="#000" stroke-width="1.35"/>
<circle cx="1569.8" cy="165.7" r="4.55" fill="#CD5C5C" stroke="#000" stroke-width="1.35"/>
<circle cx="1574.3" cy="187.1" r="4.55" fill="#ADD8E6" stroke="#000" stroke-width="1.35"/>
<circle cx="1578.8" cy="169.1" r="4.55" fill="#CD5C5C" stroke="#000" stroke-width="1.35"/>
<circle cx="1583.2" cy="110.3" r="4.55" fill="#ADD8E6" stroke="#000" stroke-width="1.35"/>
<circle cx="1587.7" cy="164.1" r="4.55" fill="#CD5C5C" stroke="#000" stroke-width="1.35"/>
<circle cx="1592.2" cy="149.1" r="4.55" fill="#ADD8E6" stroke="#000" stroke-width="1.35"/>
<circle cx="1596.6" cy="154.9" r="4.55" fill="#ADD8E6" stroke="#000" stroke-width="1.35"/>
<circle cx="1601.1" cy="184.1" r="4.55" fill="#CD5C5C" stroke="#000" stroke-width="1.35"/>
<circle cx="1605.6" cy="163.3" r="4.55" fill="#CD5C5C" stroke="#000" stroke-width="1.35"/>
<circle cx="1610" cy="106.1" r="4.55" fill="#ADD8E6" stroke="#000" stroke-width="1.35"/>
<circle cx="1614.5" cy="157.4" r="4.55" fill="#ADD8E6" stroke="#000" stroke-width="1.35"/>
<circle cx="1619" cy="159.9" r="4.55" fill="#CD5C5C" stroke="#000" stroke-width="1.35"/>
<circle cx="1623.4" cy="154.9" r="4.55" fill="#ADD8E6" stroke="#000" stroke-width="1.35"/>
<circle cx="1627.9" cy="153.3" r="4.55" fill="#CD5C5C" stroke="#000" stroke-width="1.35"/>
<circle cx="1632.4" cy="177.9" r="4.55" fill="#ADD8E6" stroke="#000" stroke-width="1.35"/>
<rect x="1713.2" y="55.6" width="333.75" height="26.25" fill="#D9D9D9"/>
<rect x="1713.2" y="81.8" width="333.75" height="110.6" fill="#EBEBEB"/>
<text x="1880.1" y="77.8" font-size="24" text-anchor="middle" fill="#1A1A1A">5</text>
<line x1="1703.2" x2="1713.2" y1="83" y2="83" stroke="#333333" stroke-width="2"/>
<text x="1694.8" y="90.7" font-size="20.1" text-anchor="end" fill="#4D4D4D">4.5</text>
<line x1="1703.2" x2="1713.2" y1="108.8" y2="108.8" stroke="#333333" stroke-width="2"/>
<text x="1694.8" y="116.5" font-size="20.1" text-anchor="end" fill="#4D4D4D">4.0</text>
<line x1="1703.2" x2="1713.2" y1="134.5" y2="134.5" stroke="#333333" stroke-width="2"/>
<text x="1694.8" y="142.2" font-size="20.1" text-anchor="end" fill="#4D4D4D">3.5</text>
<line x1="1703.2" x2="1713.2" y1="160.2" y2="160.2" stroke="#333333" stroke-width="2"/>
<text x="1694.8" y="167.9" font-size="20.1" text-anchor="end" fill="#4D4D4D">3.0</text>
<line x1="1703.2" x2="1713.2" y1="185.9" y2="185.9" stroke="#333333" stroke-width="2"/>
<text x="1694.8" y="193.6" font-size="20.1" text-anchor="end" fill="#4D4D4D">2.5</text>
<line x1="1723.9" x2="1723.9" y1="192.4" y2="202.4" stroke="#333333" stroke-width="2"/>
<text x="1723.9" y="228.6" font-size="24.4" text-anchor="middle" fill="#4D4D4D">0</text>
<line x1="1813.2" x2="1813.2" y1="192.4" y2="202.4" stroke="#333333" stroke-width="2"/>
<text x="1813.2" y="228.6" font-size="24.4" text-anchor="middle" fill="#4D4D4D">20</text>
<line x1="1902.6" x2="1902.6" y1="192.4" y2="202.4" stroke="#333333" stroke-width="2"/>
<text x="1902.6" y="228.6" font-size="24.4" text-anchor="middle" fill="#4D4D4D">40</text>
<line x1="1991.9" x2="1991.9" y1="192.4" y2="202.4" stroke="#333333" stroke-width="2"/>
<text x="1991.9" y="228.6" font-size="24.4" text-anchor="middle" fill="#4D4D4D">60</text>
<polyline fill="none" stroke="#000" stroke-width="1.8" stroke-linejoin="round" points="1728.4,119.6 1732.8,142.4 1737.3,119.6 1741.8,146.9 1746.2,144.6 1750.7,120 1755.2,104.5 1759.6,127.1 1764.1,130.8 1768.6,125 1773,125.8 1777.5,158.3 1782,151.6 1786.4,135.8 1790.9,150.8 1795.4,113.6 1799.8,134.1 1804.3,139.6 1808.8,128.3 1813.2,135.8 1817.7,137.4 1822.2,145.8 1826.6,128.8 1831.1,144.1 1835.6,146.6 1840,127.1 1844.5,157.4 1849,148.3 1853.4,125 1857.9,170.2 1862.4,144.6 1866.8,137.8 1871.3,120.8 1875.8,152.8 1880.2,140.8 1884.7,87.5 1889.2,167.1 1893.6,163.3 1898.1,156.9 1902.6,146.1 1907,156.6 1911.5,109.6 1916,142.4 1920.4,157.9 1924.9,140.8 1929.4,162.8 1933.8,139.9 1938.3,157.8 1942.8,152.1 1947.2,166.2 1951.7,128 1956.2,159.9 1960.6,177.1 1965.1,137.4 1969.6,154.4 1974,161.6 1978.5,141.9 1983,130 1987.4,171.1 1991.9,141.1 1996.4,174.9 2000.8,166.6 2005.3,187.4 2009.8,113.8 2014.2,152.9 2018.7,176.6 2023.2,162.8 2027.6,133.6 2032.1,133.3"/>
<circle cx="1728.4" cy="119.6" r="4.55" fill="#CD5C5C" stroke="#000" stroke-width="1.35"/>
<circle cx="1732.8" cy="142.4" r="4.55" fill="#ADD8E6" stroke="#000" stroke-width="1.35"/>
<circle cx="1737.3" cy="119.6" r="4.55" fill="#CD5C5C" stroke="#000" stroke-width="1.35"/>
<circle cx="1741.8" cy="146.9" r="4.55" fill="#CD5C5C" stroke="#000" stroke-width="1.35"/>
<circle cx="1746.2" cy="144.6" r="4.55" fill="#ADD8E6" stroke="#000" stroke-width="1.35"/>
<circle cx="1750.7" cy="120" r="4.55" fill="#CD5C5C" stroke="#000" stroke-width="1.35"/>
<circle cx="1755.2" cy="104.5" r="4.55" fill="#CD5C5C" stroke="#000" stroke-width="1.35"/>
<circle cx="1759.6" cy="127.1" r="4.55" fill="#ADD8E6" stroke="#000" stroke-width="1.35"/>
<circle cx="1764.1" cy="130.8" r="4.55" fill="#CD5C5C" stroke="#000" stroke-width="1.35"/>
<circle cx="1768.6" cy="125" r="4.55" fill="#ADD8E6" stroke="#000" stroke-width="1.35"/>
<circle cx="1773" cy="125.8" r="4.55" fill="#CD5C5C" stroke="#000" stroke-width="1.35"/>
<circle cx="1777.5" cy="158.3" r="4.55" fill="#CD5C5C" stroke="#000" stroke-width="1.35"/>
<circle cx="1782" cy="151.6" r="4.55" fill="#ADD8E6" stroke="#000" stroke-width="1.35"/>
<circle cx="1786.4" cy="135.8" r="4.55" fill="#CD5C5C" stroke="#000" stroke-width="1.35"/>
<circle cx="1790.9" cy="150.8" r="4.55" fill="#ADD8E6" stroke="#000" stroke-width="1.35"/>
<circle cx="1795.4" cy="113.6" r="4.55" fill="#ADD8E6" stroke="#000" stroke-width="1.35"/>
<circle cx="1799.8" cy="134.1" r="4.55" fill="#CD5C5C" stroke="#000" stroke-width="1.35"/>
<circle cx="1804.3" cy="139.6" r="4.55" fill="#CD5C5C" stroke="#000" stroke-width="1.35"/>
<circle cx="1808.8" cy="128.3" r="4.55" fill="#ADD8E6" stroke="#000" stroke-width="1.35"/>
<circle cx="1813.2" cy="135.8" r="4.55" fill="#CD5C5C" stroke="#000" stroke-width="1.35"/>
<circle cx="1817.7" cy="137.4" r="4.55" fill="#CD5C5C" stroke="#000" stroke-width="1.35"/>
<circle cx="1822.2" cy="145.8" r="4.55" fill="#ADD8E6" stroke="#000" stroke-width="1.35"/>
<circle cx="1826.6" cy="128.8" r="4.55" fill="#CD5C5C" stroke="#000" stroke-width="1.35"/>
<circle cx="1831.1" cy="144.1" r="4.55" fill="#CD5C5C" stroke="#000" stroke-width="1.35"/>
<circle cx="1835.6" cy="146.6" r="4.55" fill="#ADD8E6" stroke="#000" stroke-width="1.35"/>
<circle cx="1840" cy="127.1" r="4.55" fill="#CD5C5C" stroke="#000" stroke-width="1.35"/>
<circle cx="1844.5" cy="157.4" r="4.55" fill="#ADD8E6" stroke="#000" stroke-width="1.35"/>
<circle cx="1849" cy="148.3" r="4.55" fill="#CD5C5C" stroke="#000" stroke-width="1.35"/>
<circle cx="1853.4" cy="125" r="4.55" fill="#CD5C5C" stroke="#000" stroke-width="1.35"/>
<circle cx="1857.9" cy="170.2" r="4.55" fill="#ADD8E6" stroke="#000" stroke-width="1.35"/>
<circle cx="1862.4" cy="144.6" r="4.55" fill="#ADD8E6" stroke="#000" stroke-width="1.35"/>
<circle cx="1866.8" cy="137.8" r="4.55" fill="#CD5C5C" stroke="#000" stroke-width="1.35"/>
<circle cx="1871.3" cy="120.8" r="4.55" fill="#ADD8E6" stroke="#000" stroke-width="1.35"/>
<circle cx="1875.8" cy="152.8" r="4.55" fill="#ADD8E6" stroke="#000" stroke-width="1.35"/>
<circle cx="1880.2" cy="140.8" r="4.55" fill="#CD5C5C" stroke="#000" stroke-width="1.35"/>
<circle cx="1884.7" cy="87.5" r="4.55" fill="#ADD8E6" stroke="#000" stroke-width="1.35"/>
<circle cx="1889.2" cy="167.1" r="4.55" fill="#CD5C5C" stroke="#000" stroke-width="1.35"/>
<circle cx="1893.6" cy="163.3" r="4.55" fill="#ADD8E6" stroke="#000" stroke-width="1.35"/>
<circle cx="1898.1" cy="156.9" r="4.55" fill="#ADD8E6" stroke="#000" stroke-width="1.35"/>
<circle cx="1902.6" cy="146.1" r="4.55" fill="#CD5C5C" stroke="#000" stroke-width="1.35"/>
<circle cx="1907" cy="156.6" r="4.55" fill="#ADD8E6" stroke="#000" stroke-width="1.35"/>
<circle cx="1911.5" cy="109.6" r="4.55" fill="#ADD8E6" stroke="#000" stroke-width="1.35"/>
<circle cx="1916" cy="142.4" r="4.55" fill="#CD5C5C" stroke="#000" stroke-width="1.35"/>
<circle cx="1920.4" cy="157.9" r="4.55" fill="#ADD8E6" stroke="#000" stroke-width="1.35"/>
<circle cx="1924.9" cy="140.8" r="4.55" fill="#ADD8E6" stroke="#000" stroke-width="1.35"/>
<circle cx="1929.4" cy="162.8" r="4.55" fill="#CD5C5C" stroke="#000" stroke-width="1.35"/>
<circle cx="1933.8" cy="139.9" r="4.55" fill="#CD5C5C" stroke="#000" stroke-width="1.35"/>
<circle cx="1938.3" cy="157.8" r="4.55" fill="#ADD8E6" stroke="#000" stroke-width="1.35"/>
<circle cx="1942.8" cy="152.1" r="4.55" fill="#CD5C5C" stroke="#000" stroke-width="1.35"/>
<circle cx="1947.2" cy="166.2" r="4.55" fill="#ADD8E6" stroke="#000" stroke-width="1.35"/>
<circle cx="1951.7" cy="128" r="4.55" fill="#ADD8E6" stroke="#000" stroke-width="1.35"/>
<circle cx="1956.2" cy="159.9" r="4.55" fill="#CD5C5C" stroke="#000" stroke-width="1.35"/>
<circle cx="1960.6" cy="177.1" r="4.55" fill="#ADD8E6" stroke="#000" stroke-width="1.35"/>
<circle cx="1965.1" cy="137.4" r="4.55" fill="#ADD8E6" stroke="#000" stroke-width="1.35"/>
<circle cx="1969.6" cy="154.4" r="4.55" fill="#CD5C5C" stroke="#000" stroke-width="1.35"/>
<circle cx="1974" cy="161.6" r="4.55" fill="#ADD8E6" stroke="#000" stroke-width="1.35"/>
<circle cx="1978.5" cy="141.9" r="4.55" fill="#CD5C5C" stroke="#000" stroke-width="1.35"/>
<circle cx="1983" cy="130" r="4.55" fill="#ADD8E6" stroke="#000" stroke-width="1.35"/>
<circle cx="1987.4" cy="171.1" r="4.55" fill="#CD5C5C" stroke="#000" stroke-width="1.35"/>
<circle cx="1991.9" cy="141.1" r="4.55" fill="#ADD8E6" stroke="#000" stroke-width="1.35"/>
<circle cx="1996.4" cy="174.9" r="4.55" fill="#ADD8E6" stroke="#000" stroke-width="1.35"/>
<circle cx="2000.8" cy="166.6" r="4.55" fill="#CD5C5C" stroke="#000" stroke-width="1.35"/>
<circle cx="2005.3" cy="187.4" r="4.55" fill="#CD5C5C" stroke="#000" stroke-width="1.35"/>
<circle cx="2009.8" cy="113.8" r="4.55" fill="#ADD8E6" stroke="#000" stroke-width="1.35"/>
<circle cx="2014.2" cy="152.9" r="4.55" fill="#ADD8E6" stroke="#000" stroke-width="1.35"/>
<circle cx="2018.7" cy="176.6" r="4.55" fill="#CD5C5C" stroke="#000" stroke-width="1.35"/>
<circle cx="2023.2" cy="162.8" r="4.55" fill="#ADD8E6" stroke="#000" stroke-width="1.35"/>
<circle cx="2027.6" cy="133.6" r="4.55" fill="#CD5C5C" stroke="#000" stroke-width="1.35"/>
<circle cx="2032.1" cy="133.3" r="4.55" fill="#ADD8E6" stroke="#000" stroke-width="1.35"/>
<rect x="104.2" y="248.9" width="333.75" height="26.25" fill="#D9D9D9"/>
<rect x="104.2" y="275.2" width="333.75" height="110.6" fill="#EBEBEB"/>
<text x="271.1" y="271.1" font-size="24" text-anchor="middle" fill="#1A1A1A">6</text>
<line x1="94.2" x2="104.2" y1="315.4" y2="315.4" stroke="#333333" stroke-width="2"/>
<text x="85.8" y="323.1" font-size="20.1" text-anchor="end" fill="#4D4D4D">3.5</text>
<line x1="94.2" x2="104.2" y1="356.8" y2="356.8" stroke="#333333" stroke-width="2"/>
<text x="85.8" y="364.5" font-size="20.1" text-anchor="end" fill="#4D4D4D">3.0</text>
<line x1="114.9" x2="114.9" y1="385.8" y2="395.8" stroke="#333333" stroke-width="2"/>
<text x="114.9" y="422" font-size="24.4" text-anchor="middle" fill="#4D4D4D">0</text>
<line x1="204.2" x2="204.2" y1="385.8" y2="395.8" stroke="#333333" stroke-width="2"/>
<text x="204.2" y="422" font-size="24.4" text-anchor="middle" fill="#4D4D4D">20</text>
<line x1="293.6" x2="293.6" y1="385.8" y2="395.8" stroke="#333333" stroke-width="2"/>
<text x="293.6" y="422" font-size="24.4" text-anchor="middle" fill="#4D4D4D">40</text>
<line x1="382.9" x2="382.9" y1="385.8" y2="395.8" stroke="#333333" stroke-width="2"/>
<text x="382.9" y="422" font-size="24.4" text-anchor="middle" fill="#4D4D4D">60</text>
<polyline fill="none" stroke="#000" stroke-width="1.8" stroke-linejoin="round" points="119.4,300.1 123.8,341.4 128.3,294 132.8,321 137.2,338.4 141.7,307 146.2,302 150.6,313.6 155.1,311 159.6,326.8 164,312 168.5,347.6 173,305.3 177.4,331.9 181.9,319 186.4,331.8 190.8,280.7 195.3,323.1 199.8,319.3 204.2,304.5 208.7,329.8 213.2,350.9 217.6,327.3 222.1,335.1 226.6,360.6 231,360.2 235.5,334.8 240,328.1 244.4,329.8 248.9,353.6 253.4,363.1 257.8,347.6 262.3,343.4 266.8,351.4 271.2,322.3 275.7,312.3 280.2,325.9 284.6,335.6 289.1,354.8 293.6,350.3 298,378.9 302.5,337.3 307,375.6 311.4,337.3 315.9,318.5 320.4,331.8 324.8,373.9 329.3,338.4 333.8,358.9 338.2,362.2 342.7,345.1 347.2,372.2 351.6,346.8 356.1,373.9 360.6,374.2 365,378.9 369.5,375.6 374,342.8 378.4,380.6 382.9,333.9 387.4,374.7 391.8,355.3 396.3,362.2 400.8,327.3 405.2,331.9 409.7,367.2 414.2,370.6 418.6,373.1 423.1,375.6"/>
<circle cx="119.4" cy="300.1" r="4.55" fill="#CD5C5C" stroke="#000" stroke-width="1.35"/>
<circle cx="123.8" cy="341.4" r="4.55" fill="#ADD8E6" stroke="#000" stroke-width="1.35"/>
<circle cx="128.3" cy="294" r="4.55" fill="#CD5C5C" stroke="#000" stroke-width="1.35"/>
<circle cx="132.8" cy="321" r="4.55" fill="#CD5C5C" stroke="#000" stroke-width="1.35"/>
<circle cx="137.2" cy="338.4" r="4.55" fill="#ADD8E6" stroke="#000" stroke-width="1.35"/>
<circle cx="141.7" cy="307" r="4.55" fill="#CD5C5C" stroke="#000" stroke-width="1.35"/>
<circle cx="146.2" cy="302" r="4.55" fill="#CD5C5C" stroke="#000" stroke-width="1.35"/>
<circle cx="150.6" cy="313.6" r="4.55" fill="#ADD8E6" stroke="#000" stroke-width="1.35"/>
<circle cx="155.1" cy="311" r="4.55" fill="#CD5C5C" stroke="#000" stroke-width="1.35"/>
<circle cx="159.6" cy="326.8" r="4.55" fill="#ADD8E6" stroke="#000" stroke-width="1.35"/>
<circle cx="164" cy="312" r="4.55" fill="#CD5C5C" stroke="#000" stroke-width="1.35"/>
<circle cx="168.5" cy="347.6" r="4.55" fill="#CD5C5C" stroke="#000" stroke-width="1.35"/>
<circle cx="173" cy="305.3" r="4.55" fill="#ADD8E6" stroke="#000" stroke-width="1.35"/>
<circle cx="177.4" cy="331.9" r="4.55" fill="#CD5C5C" stroke="#000" stroke-width="1.35"/>
<circle cx="181.9" cy="319" r="4.55" fill="#ADD8E6" stroke="#000" stroke-width="1.35"/>
<circle cx="186.4" cy="331.8" r="4.55" fill="#ADD8E6" stroke="#000" stroke-width="1.35"/>
<circle cx="190.8" cy="280.7" r="4.55" fill="#CD5C5C" stroke="#000" stroke-width="1.35"/>
<circle cx="195.3" cy="323.1" r="4.55" fill="#CD5C5C" stroke="#000" stroke-width="1.35"/>
<circle cx="199.8" cy="319.3" r="4.55" fill="#ADD8E6" stroke="#000" stroke-width="1.35"/>
<circle cx="204.2" cy="304.5" r="4.55" fill="#CD5C5C" stroke="#000" stroke-width="1.35"/>
<circle cx="208.7" cy="329.8" r="4.55" fill="#CD5C5C" stroke="#000" stroke-width="1.35"/>
<circle cx="213.2" cy="350.9" r="4.55" fill="#ADD8E6" stroke="#000" stroke-width="1.35"/>
<circle cx="217.6" cy="327.3" r="4.55" fill="#CD5C5C" stroke="#000" stroke-width="1.35"/>
<circle cx="222.1" cy="335.1" r="4.55" fill="#CD5C5C" stroke="#000" stroke-width="1.35"/>
<circle cx="226.6" cy="360.6" r="4.55" fill="#ADD8E6" stroke="#000" stroke-width="1.35"/>
<circle cx="231" cy="360.2" r="4.55" fill="#CD5C5C" stroke="#000" stroke-width="1.35"/>
<circle cx="235.5" cy="334.8" r="4.55" fill="#ADD8E6" stroke="#000" stroke-width="1.35"/>
<circle cx="240" cy="328.1" r="4.55" fill="#CD5C5C" stroke="#000" stroke-width="1.35"/>
<circle cx="244.4" cy="329.8" r="4.55" fill="#CD5C5C" stroke="#000" stroke-width="1.35"/>
<circle cx="248.9" cy="353.6" r="4.55" fill="#ADD8E6" stroke="#000" stroke-width="1.35"/>
<circle cx="253.4" cy="363.1" r="4.55" fill="#ADD8E6" stroke="#000" stroke-width="1.35"/>
<circle cx="257.8" cy="347.6" r="4.55" fill="#CD5C5C" stroke="#000" stroke-width="1.35"/>
<circle cx="262.3" cy="343.4" r="4.55" fill="#ADD8E6" stroke="#000" stroke-width="1.35"/>
<circle cx="266.8" cy="351.4" r="4.55" fill="#ADD8E6" stroke="#000" stroke-width="1.35"/>
<circle cx="271.2" cy="322.3" r="4.55" fill="#CD5C5C" stroke="#000" stroke-width="1.35"/>
<circle cx="275.7" cy="312.3" r="4.55" fill="#ADD8E6" stroke="#000" stroke-width="1.35"/>
<circle cx="280.2" cy="325.9" r="4.55" fill="#CD5C5C" stroke="#000" stroke-width="1.35"/>
<circle cx="284.6" cy="335.6" r="4.55" fill="#ADD8E6" stroke="#000" stroke-width="1.35"/>
<circle cx="289.1" cy="354.8" r="4.55" fill="#ADD8E6" stroke="#000" stroke-width="1.35"/>
<circle cx="293.6" cy="350.3" r="4.55" fill="#CD5C5C" stroke="#000" stroke-width="1.35"/>
<circle cx="298" cy="378.9" r="4.55" fill="#ADD8E6" stroke="#000" stroke-width="1.35"/>
<circle cx="302.5" cy="337.3" r="4.55" fill="#ADD8E6" stroke="#000" stroke-width="1.35"/>
<circle cx="307" cy="375.6" r="4.55" fill="#CD5C5C" stroke="#000" stroke-width="1.35"/>
<circle cx="311.4" cy="337.3" r="4.55" fill="#ADD8E6" stroke="#000" stroke-width="1.35"/>
<circle cx="315.9" cy="318.5" r="4.55" fill="#ADD8E6" stroke="#000" stroke-width="1.35"/>
<circle cx="320.4" cy="331.8" r="4.55" fill="#CD5C5C" stroke="#000" stroke-width="1.35"/>
<circle cx="324.8" cy="373.9" r="4.55" fill="#CD5C5C" stroke="#000" stroke-width="1.35"/>
<circle cx="329.3" cy="338.4" r="4.55" fill="#ADD8E6" stroke="#000" stroke-width="1.35"/>
<circle cx="333.8" cy="358.9" r="4.55" fill="#CD5C5C" stroke="#000" stroke-width="1.35"/>
<circle cx="338.2" cy="362.2" r="4.55" fill="#ADD8E6" stroke="#000" stroke-width="1.35"/>
<circle cx="342.7" cy="345.1" r="4.55" fill="#ADD8E6" stroke="#000" stroke-width="1.35"/>
<circle cx="347.2" cy="372.2" r="4.55" fill="#CD5C5C" stroke="#000" stroke-width="1.35"/>
<circle cx="351.6" cy="346.8" r="4.55" fill="#ADD8E6" stroke="#000" stroke-width="1.35"/>
<circle cx="356.1" cy="373.9" r="4.55" fill="#ADD8E6" stroke="#000" stroke-width="1.35"/>
<circle cx="360.6" cy="374.2" r="4.55" fill="#CD5C5C" stroke="#000" stroke-width="1.35"/>
<circle cx="365" cy="378.9" r="4.55" fill="#ADD8E6" stroke="#000" stroke-width="1.35"/>
<circle cx="369.5" cy="375.6" r="4.55" fill="#CD5C5C" stroke="#000" stroke-width="1.35"/>
<circle cx="374" cy="342.8" r="4.55" fill="#ADD8E6" stroke="#000" stroke-width="1.35"/>
<circle cx="378.4" cy="380.6" r="4.55" fill="#CD5C5C" stroke="#000" stroke-width="1.35"/>
<circle cx="382.9" cy="333.9" r="4.55" fill="#ADD8E6" stroke="#000" stroke-width="1.35"/>
<circle cx="387.4" cy="374.7" r="4.55" fill="#ADD8E6" stroke="#000" stroke-width="1.35"/>
<circle cx="391.8" cy="355.3" r="4.55" fill="#CD5C5C" stroke="#000" stroke-width="1.35"/>
<circle cx="396.3" cy="362.2" r="4.55" fill="#CD5C5C" stroke="#000" stroke-width="1.35"/>
<circle cx="400.8" cy="327.3" r="4.55" fill="#ADD8E6" stroke="#000" stroke-width="1.35"/>
<circle cx="405.2" cy="331.9" r="4.55" fill="#ADD8E6" stroke="#000" stroke-width="1.35"/>
<circle cx="409.7" cy="367.2" r="4.55" fill="#CD5C5C" stroke="#000" stroke-width="1.35"/>
<circle cx="414.2" cy="370.6" r="4.55" fill="#ADD8E6" stroke="#000" stroke-width="1.35"/>
<circle cx="418.6" cy="373.1" r="4.55" fill="#CD5C5C" stroke="#000" stroke-width="1.35"/>
<circle cx="423.1" cy="375.6" r="4.55" fill="#ADD8E6" stroke="#000" stroke-width="1.35"/>
<rect x="514.5" y="248.9" width="333.75" height="26.25" fill="#D9D9D9"/>
<rect x="514.5" y="275.2" width="333.75" height="110.6" fill="#EBEBEB"/>
<text x="681.4" y="271.1" font-size="24" text-anchor="middle" fill="#1A1A1A">7</text>
<line x1="504.5" x2="514.5" y1="297.1" y2="297.1" stroke="#333333" stroke-width="2"/>
<text x="496" y="304.8" font-size="20.1" text-anchor="end" fill="#4D4D4D">4.0</text>
<line x1="504.5" x2="514.5" y1="322.5" y2="322.5" stroke="#333333" stroke-width="2"/>
<text x="496" y="330.2" font-size="20.1" text-anchor="end" fill="#4D4D4D">3.5</text>
<line x1="504.5" x2="514.5" y1="347.9" y2="347.9" stroke="#333333" stroke-width="2"/>
<text x="496" y="355.6" font-size="20.1" text-anchor="end" fill="#4D4D4D">3.0</text>
<line x1="504.5" x2="514.5" y1="373.4" y2="373.4" stroke="#333333" stroke-width="2"/>
<text x="496" y="381.1" font-size="20.1" text-anchor="end" fill="#4D4D4D">2.5</text>
<line x1="525.1" x2="525.1" y1="385.8" y2="395.8" stroke="#333333" stroke-width="2"/>
<text x="525.1" y="422" font-size="24.4" text-anchor="middle" fill="#4D4D4D">0</text>
<line x1="614.5" x2="614.5" y1="385.8" y2="395.8" stroke="#333333" stroke-width="2"/>
<text x="614.5" y="422" font-size="24.4" text-anchor="middle" fill="#4D4D4D">20</text>
<line x1="703.8" x2="703.8" y1="385.8" y2="395.8" stroke="#333333" stroke-width="2"/>
<text x="703.8" y="422" font-size="24.4" text-anchor="middle" fill="#4D4D4D">40</text>
<line x1="793.2" x2="793.2" y1="385.8" y2="395.8" stroke="#333333" stroke-width="2"/>
<text x="793.2" y="422" font-size="24.4" text-anchor="middle" fill="#4D4D4D">60</text>
<polyline fill="none" stroke="#000" stroke-width="1.8" stroke-linejoin="round" points="529.6,306.1 534.1,314 538.6,328.9 543,288.2 547.5,305.6 552,322.8 556.4,303.1 560.9,304 565.4,318.1 569.8,314 574.3,324 578.8,315.3 583.2,343.9 587.7,307.3 592.2,340.1 596.6,348.1 601.1,291.1 605.6,347.8 610,304.5 614.5,314.5 619,305.6 623.4,307 627.9,284.8 632.4,312 636.8,330.3 641.3,284.5 645.8,343.6 650.2,327.6 654.7,307 659.2,355.6 663.6,345.1 668.1,298.6 672.6,289.3 677,322.6 681.5,304 686,306.8 690.4,346.4 694.9,335.3 699.4,300.3 703.8,328.6 708.3,310.6 712.8,306.8 717.2,334.8 721.7,344.4 726.2,331.4 730.6,319 735.1,358.6 739.6,341.1 744,331.4 748.5,322.8 753,320.1 757.4,380.6 761.9,307.3 766.4,340.3 770.8,347.3 775.3,298.6 779.8,373.4 784.2,322.3 788.7,355.3 793.2,343.6 797.6,337.3 802.1,338.9 806.6,327.3 811,280.7 815.5,321.5 820,353.6 824.4,324.3 828.9,348.9 833.4,336.8"/>
<circle cx="529.6" cy="306.1" r="4.55" fill="#CD5C5C" stroke="#000" stroke-width="1.35"/>
<circle cx="534.1" cy="314" r="4.55" fill="#ADD8E6" stroke="#000" stroke-width="1.35"/>
<circle cx="538.6" cy="328.9" r="4.55" fill="#CD5C5C" stroke="#000" stroke-width="1.35"/>
<circle cx="543" cy="288.2" r="4.55" fill="#CD5C5C" stroke="#000" stroke-width="1.35"/>
<circle cx="547.5" cy="305.6" r="4.55" fill="#ADD8E6" stroke="#000" stroke-width="1.35"/>
<circle cx="552" cy="322.8" r="4.55" fill="#CD5C5C" stroke="#000" stroke-width="1.35"/>
<circle cx="556.4" cy="303.1" r="4.55" fill="#CD5C5C" stroke="#000" stroke-width="1.35"/>
<circle cx="560.9" cy="304" r="4.55" fill="#ADD8E6" stroke="#000" stroke-width="1.35"/>
<circle cx="565.4" cy="318.1" r="4.55" fill="#CD5C5C" stroke="#000" stroke-width="1.35"/>
<circle cx="569.8" cy="314" r="4.55" fill="#ADD8E6" stroke="#000" stroke-width="1.35"/>
<circle cx="574.3" cy="324" r="4.55" fill="#CD5C5C" stroke="#000" stroke-width="1.35"/>
<circle cx="578.8" cy="315.3" r="4.55" fill="#CD5C5C" stroke="#000" stroke-width="1.35"/>
<circle cx="583.2" cy="343.9" r="4.55" fill="#ADD8E6" stroke="#000" stroke-width="1.35"/>
<circle cx="587.7" cy="307.3" r="4.55" fill="#CD5C5C" stroke="#000" stroke-width="1.35"/>
<circle cx="592.2" cy="340.1" r="4.55" fill="#ADD8E6" stroke="#000" stroke-width="1.35"/>
<circle cx="596.6" cy="348.1" r="4.55" fill="#ADD8E6" stroke="#000" stroke-width="1.35"/>
<circle cx="601.1" cy="291.1" r="4.55" fill="#CD5C5C" stroke="#000" stroke-width="1.35"/>
<circle cx="605.6" cy="347.8" r="4.55" fill="#CD5C5C" stroke="#000" stroke-width="1.35"/>
<circle cx="610" cy="304.5" r="4.55" fill="#ADD8E6" stroke="#000" stroke-width="1.35"/>
<circle cx="614.5" cy="314.5" r="4.55" fill="#CD5C5C" stroke="#000" stroke-width="1.35"/>
<circle cx="619" cy="305.6" r="4.55" fill="#CD5C5C" stroke="#000" stroke-width="1.35"/>
<circle cx="623.4" cy="307" r="4.55" fill="#ADD8E6" stroke="#000" stroke-width="1.35"/>
<circle cx="627.9" cy="284.8" r="4.55" fill="#CD5C5C" stroke="#000" stroke-width="1.35"/>
<circle cx="632.4" cy="312" r="4.55" fill="#CD5C5C" stroke="#000" stroke-width="1.35"/>
<circle cx="636.8" cy="330.3" r="4.55" fill="#ADD8E6" stroke="#000" stroke-width="1.35"/>
<circle cx="641.3" cy="284.5" r="4.55" fill="#CD5C5C" stroke="#000" stroke-width="1.35"/>
<circle cx="645.8" cy="343.6" r="4.55" fill="#ADD8E6" stroke="#000" stroke-width="1.35"/>
<circle cx="650.2" cy="327.6" r="4.55" fill="#CD5C5C" stroke="#000" stroke-width="1.35"/>
<circle cx="654.7" cy="307" r="4.55" fill="#CD5C5C" stroke="#000" stroke-width="1.35"/>
<circle cx="659.2" cy="355.6" r="4.55" fill="#ADD8E6" stroke="#000" stroke-width="1.35"/>
<circle cx="663.6" cy="345.1" r="4.55" fill="#ADD8E6" stroke="#000" stroke-width="1.35"/>
<circle cx="668.1" cy="298.6" r="4.55" fill="#CD5C5C" stroke="#000" stroke-width="1.35"/>
<circle cx="672.6" cy="289.3" r="4.55" fill="#ADD8E6" stroke="#000" stroke-width="1.35"/>
<circle cx="677" cy="322.6" r="4.55" fill="#ADD8E6" stroke="#000" stroke-width="1.35"/>
<circle cx="681.5" cy="304" r="4.55" fill="#CD5C5C" stroke="#000" stroke-width="1.35"/>
<circle cx="686" cy="306.8" r="4.55" fill="#ADD8E6" stroke="#000" stroke-width="1.35"/>
<circle cx="690.4" cy="346.4" r="4.55" fill="#CD5C5C" stroke="#000" stroke-width="1.35"/>
<circle cx="694.9" cy="335.3" r="4.55" fill="#ADD8E6" stroke="#000" stroke-width="1.35"/>
<circle cx="699.4" cy="300.3" r="4.55" fill="#ADD8E6" stroke="#000" stroke-width="1.35"/>
<circle cx="703.8" cy="328.6" r="4.55" fill="#CD5C5C" stroke="#000" stroke-width="1.35"/>
<circle cx="708.3" cy="310.6" r="4.55" fill="#ADD8E6" stroke="#000" stroke-width="1.35"/>
<circle cx="712.8" cy="306.8" r="4.55" fill="#ADD8E6" stroke="#000" stroke-width="1.35"/>
<circle cx="717.2" cy="334.8" r="4.55" fill="#CD5C5C" stroke="#000" stroke-width="1.35"/>
<circle cx="721.7" cy="344.4" r="4.55" fill="#ADD8E6" stroke="#000" stroke-width="1.35"/>
<circle cx="726.2" cy="331.4" r="4.55" fill="#ADD8E6" stroke="#000" stroke-width="1.35"/>
<circle cx="730.6" cy="319" r="4.55" fill="#CD5C5C" stroke="#000" stroke-width="1.35"/>
<circle cx="735.1" cy="358.6" r="4.55" fill="#CD5C5C" stroke="#000" stroke-width="1.35"/>
<circle cx="739.6" cy="341.1" r="4.55" fill="#ADD8E6" stroke="#000" stroke-width="1.35"/>
<circle cx="744" cy="331.4" r="4.55" fill="#CD5C5C" stroke="#000" stroke-width="1.35"/>
<circle cx="748.5" cy="322.8" r="4.55" fill="#ADD8E6" stroke="#000" stroke-width="1.35"/>
<circle cx="753" cy="320.1" r="4.55" fill="#ADD8E6" stroke="#000" stroke-width="1.35"/>
<circle cx="757.4" cy="380.6" r="4.55" fill="#CD5C5C" stroke="#000" stroke-width="1.35"/>
<circle cx="761.9" cy="307.3" r="4.55" fill="#ADD8E6" stroke="#000" stroke-width="1.35"/>
<circle cx="766.4" cy="340.3" r="4.55" fill="#ADD8E6" stroke="#000" stroke-width="1.35"/>
<circle cx="770.8" cy="347.3" r="4.55" fill="#CD5C5C" stroke="#000" stroke-width="1.35"/>
<circle cx="775.3" cy="298.6" r="4.55" fill="#ADD8E6" stroke="#000" stroke-width="1.35"/>
<circle cx="779.8" cy="373.4" r="4.55" fill="#CD5C5C" stroke="#000" stroke-width="1.35"/>
<circle cx="784.2" cy="322.3" r="4.55" fill="#ADD8E6" stroke="#000" stroke-width="1.35"/>
<circle cx="788.7" cy="355.3" r="4.55" fill="#CD5C5C" stroke="#000" stroke-width="1.35"/>
<circle cx="793.2" cy="343.6" r="4.55" fill="#ADD8E6" stroke="#000" stroke-width="1.35"/>
<circle cx="797.6" cy="337.3" r="4.55" fill="#ADD8E6" stroke="#000" stroke-width="1.35"/>
<circle cx="802.1" cy="338.9" r="4.55" fill="#CD5C5C" stroke="#000" stroke-width="1.35"/>
<circle cx="806.6" cy="327.3" r="4.55" fill="#CD5C5C" stroke="#000" stroke-width="1.35"/>
<circle cx="811" cy="280.7" r="4.55" fill="#ADD8E6" stroke="#000" stroke-width="1.35"/>
<circle cx="815.5" cy="321.5" r="4.55" fill="#ADD8E6" stroke="#000" stroke-width="1.35"/>
<circle cx="820" cy="353.6" r="4.55" fill="#CD5C5C" stroke="#000" stroke-width="1.35"/>
<circle cx="824.4" cy="324.3" r="4.55" fill="#ADD8E6" stroke="#000" stroke-width="1.35"/>
<circle cx="828.9" cy="348.9" r="4.55" fill="#CD5C5C" stroke="#000" stroke-width="1.35"/>
<circle cx="833.4" cy="336.8" r="4.55" fill="#ADD8E6" stroke="#000" stroke-width="1.35"/>
<rect x="914.2" y="248.9" width="333.75" height="26.25" fill="#D9D9D9"/>
<rect x="914.2" y="275.2" width="333.75" height="110.6" fill="#EBEBEB"/>
<text x="1081.1" y="271.1" font-size="24" text-anchor="middle" fill="#1A1A1A">8</text>
<line x1="904.2" x2="914.2" y1="298.1" y2="298.1" stroke="#333333" stroke-width="2"/>
<text x="895.8" y="305.8" font-size="20.1" text-anchor="end" fill="#4D4D4D">4.5</text>
<line x1="904.2" x2="914.2" y1="323.3" y2="323.3" stroke="#333333" stroke-width="2"/>
<text x="895.8" y="331" font-size="20.1" text-anchor="end" fill="#4D4D4D">4.0</text>
<line x1="904.2" x2="914.2" y1="348.4" y2="348.4" stroke="#333333" stroke-width="2"/>
<text x="895.8" y="356.1" font-size="20.1" text-anchor="end" fill="#4D4D4D">3.5</text>
<line x1="904.2" x2="914.2" y1="373.6" y2="373.6" stroke="#333333" stroke-width="2"/>
<text x="895.8" y="381.3" font-size="20.1" text-anchor="end" fill="#4D4D4D">3.0</text>
<line x1="924.9" x2="924.9" y1="385.8" y2="395.8" stroke="#333333" stroke-width="2"/>
<text x="924.9" y="422" font-size="24.4" text-anchor="middle" fill="#4D4D4D">0</text>
<line x1="1014.2" x2="1014.2" y1="385.8" y2="395.8" stroke="#333333" stroke-width="2"/>
<text x="1014.2" y="422" font-size="24.4" text-anchor="middle" fill="#4D4D4D">20</text>
<line x1="1103.6" x2="1103.6" y1="385.8" y2="395.8" stroke="#333333" stroke-width="2"/>
<text x="1103.6" y="422" font-size="24.4" text-anchor="middle" fill="#4D4D4D">40</text>
<line x1="1192.9" x2="1192.9" y1="385.8" y2="395.8" stroke="#333333" stroke-width="2"/>
<text x="1192.9" y="422" font-size="24.4" text-anchor="middle" fill="#4D4D4D">60</text>
<polyline fill="none" stroke="#000" stroke-width="1.8" stroke-linejoin="round" points="929.4,281 933.8,299.8 938.3,295.3 942.8,309.5 947.2,303.6 951.7,299.3 956.2,315.3 960.6,301.5 965.1,285.7 969.6,309.5 974,296.1 978.5,319.5 983,319.8 987.4,315.6 991.9,322.3 996.4,325.3 1000.8,308.5 1005.3,318.1 1009.8,326.9 1014.2,333.1 1018.7,319.3 1023.2,351.4 1027.6,314.8 1032.1,337.3 1036.6,341.9 1041,318.1 1045.5,343.1 1050,343.6 1054.4,322.6 1058.9,351.4 1063.4,332.6 1067.8,333.6 1072.3,332.6 1076.8,337.3 1081.2,333.4 1085.7,323.5 1090.2,338.1 1094.6,346.1 1099.1,331.9 1103.6,328.6 1108,345.9 1112.5,340.1 1117,362.6 1121.4,341.4 1125.9,329.3 1130.4,347.6 1134.8,355.6 1139.3,340.3 1143.8,361.4 1148.2,341.4 1152.7,329.4 1157.2,351.4 1161.6,327.6 1166.1,335.9 1170.6,345.9 1175,338.9 1179.5,370.1 1184,315.6 1188.4,380.6 1192.9,331.8 1197.4,333.1 1201.8,349.8 1206.3,366.7 1210.8,339.4 1215.2,345.1 1219.7,345.9 1224.2,349.8 1228.6,358.1 1233.1,337.3"/>
<circle cx="929.4" cy="281" r="4.55" fill="#CD5C5C" stroke="#000" stroke-width="1.35"/>
<circle cx="933.8" cy="299.8" r="4.55" fill="#ADD8E6" stroke="#000" stroke-width="1.35"/>
<circle cx="938.3" cy="295.3" r="4.55" fill="#CD5C5C" stroke="#000" stroke-width="1.35"/>
<circle cx="942.8" cy="309.5" r="4.55" fill="#CD5C5C" stroke="#000" stroke-width="1.35"/>
<circle cx="947.2" cy="303.6" r="4.55" fill="#ADD8E6" stroke="#000" stroke-width="1.35"/>
<circle cx="951.7" cy="299.3" r="4.55" fill="#CD5C5C" stroke="#000" stroke-width="1.35"/>
<circle cx="956.2" cy="315.3" r="4.55" fill="#CD5C5C" stroke="#000" stroke-width="1.35"/>
<circle cx="960.6" cy="301.5" r="4.55" fill="#ADD8E6" stroke="#000" stroke-width="1.35"/>
<circle cx="965.1" cy="285.7" r="4.55" fill="#CD5C5C" stroke="#000" stroke-width="1.35"/>
<circle cx="969.6" cy="309.5" r="4.55" fill="#ADD8E6" stroke="#000" stroke-width="1.35"/>
<circle cx="974" cy="296.1" r="4.55" fill="#CD5C5C" stroke="#000" stroke-width="1.35"/>
<circle cx="978.5" cy="319.5" r="4.55" fill="#CD5C5C" stroke="#000" stroke-width="1.35"/>
<circle cx="983" cy="319.8" r="4.55" fill="#ADD8E6" stroke="#000" stroke-width="1.35"/>
<circle cx="987.4" cy="315.6" r="4.55" fill="#CD5C5C" stroke="#000" stroke-width="1.35"/>
<circle cx="991.9" cy="322.3" r="4.55" fill="#ADD8E6" stroke="#000" stroke-width="1.35"/>
<circle cx="996.4" cy="325.3" r="4.55" fill="#ADD8E6" stroke="#000" stroke-width="1.35"/>
<circle cx="1000.8" cy="308.5" r="4.55" fill="#CD5C5C" stroke="#000" stroke-width="1.35"/>
<circle cx="1005.3" cy="318.1" r="4.55" fill="#CD5C5C" stroke="#000" stroke-width="1.35"/>
<circle cx="1009.8" cy="326.9" r="4.55" fill="#ADD8E6" stroke="#000" stroke-width="1.35"/>
<circle cx="1014.2" cy="333.1" r="4.55" fill="#CD5C5C" stroke="#000" stroke-width="1.35"/>
<circle cx="1018.7" cy="319.3" r="4.55" fill="#CD5C5C" stroke="#000" stroke-width="1.35"/>
<circle cx="1023.2" cy="351.4" r="4.55" fill="#ADD8E6" stroke="#000" stroke-width="1.35"/>
<circle cx="1027.6" cy="314.8" r="4.55" fill="#CD5C5C" stroke="#000" stroke-width="1.35"/>
<circle cx="1032.1" cy="337.3" r="4.55" fill="#CD5C5C" stroke="#000" stroke-width="1.35"/>
<circle cx="1036.6" cy="341.9" r="4.55" fill="#ADD8E6" stroke="#000" stroke-width="1.35"/>
<circle cx="1041" cy="318.1" r="4.55" fill="#CD5C5C" stroke="#000" stroke-width="1.35"/>
<circle cx="1045.5" cy="343.1" r="4.55" fill="#ADD8E6" stroke="#000" stroke-width="1.35"/>
<circle cx="1050" cy="343.6" r="4.55" fill="#CD5C5C" stroke="#000" stroke-width="1.35"/>
<circle cx="1054.4" cy="322.6" r="4.55" fill="#CD5C5C" stroke="#000" stroke-width="1.35"/>
<circle cx="1058.9" cy="351.4" r="4.55" fill="#ADD8E6" stroke="#000" stroke-width="1.35"/>
<circle cx="1063.4" cy="332.6" r="4.55" fill="#ADD8E6" stroke="#000" stroke-width="1.35"/>
<circle cx="1067.8" cy="333.6" r="4.55" fill="#CD5C5C" stroke="#000" stroke-width="1.35"/>
<circle cx="1072.3" cy="332.6" r="4.55" fill="#ADD8E6" stroke="#000" stroke-width="1.35"/>
<circle cx="1076.8" cy="337.3" r="4.55" fill="#ADD8E6" stroke="#000" stroke-width="1.35"/>
<circle cx="1081.2" cy="333.4" r="4.55" fill="#CD5C5C" stroke="#000" stroke-width="1.35"/>
<circle cx="1085.7" cy="323.5" r="4.55" fill="#ADD8E6" stroke="#000" stroke-width="1.35"/>
<circle cx="1090.2" cy="338.1" r="4.55" fill="#CD5C5C" stroke="#000" stroke-width="1.35"/>
<circle cx="1094.6" cy="346.1" r="4.55" fill="#ADD8E6" stroke="#000" stroke-width="1.35"/>
<circle cx="1099.1" cy="331.9" r="4.55" fill="#ADD8E6" stroke="#000" stroke-width="1.35"/>
<circle cx="1103.6" cy="328.6" r="4.55" fill="#CD5C5C" stroke="#000" stroke-width="1.35"/>
<circle cx="1108" cy="345.9" r="4.55" fill="#ADD8E6" stroke="#000" stroke-width="1.35"/>
<circle cx="1112.5" cy="340.1" r="4.55" fill="#ADD8E6" stroke="#000" stroke-width="1.35"/>
<circle cx="1117" cy="362.6" r="4.55" fill="#CD5C5C" stroke="#000" stroke-width="1.35"/>
<circle cx="1121.4" cy="341.4" r="4.55" fill="#ADD8E6" stroke="#000" stroke-width="1.35"/>
<circle cx="1125.9" cy="329.3" r="4.55" fill="#ADD8E6" stroke="#000" stroke-width="1.35"/>
<circle cx="1130.4" cy="347.6" r="4.55" fill="#CD5C5C" stroke="#000" stroke-width="1.35"/>
<circle cx="1134.8" cy="355.6" r="4.55" fill="#CD5C5C" stroke="#000" stroke-width="1.35"/>
<circle cx="1139.3" cy="340.3" r="4.55" fill="#ADD8E6" stroke="#000" stroke-width="1.35"/>
<circle cx="1143.8" cy="361.4" r="4.55" fill="#CD5C5C" stroke="#000" stroke-width="1.35"/>
<circle cx="1148.2" cy="341.4" r="4.55" fill="#ADD8E6" stroke="#000" stroke-width="1.35"/>
<circle cx="1152.7" cy="329.4" r="4.55" fill="#ADD8E6" stroke="#000" stroke-width="1.35"/>
<circle cx="1157.2" cy="351.4" r="4.55" fill="#CD5C5C" stroke="#000" stroke-width="1.35"/>
<circle cx="1161.6" cy="327.6" r="4.55" fill="#ADD8E6" stroke="#000" stroke-width="1.35"/>
<circle cx="1166.1" cy="335.9" r="4.55" fill="#ADD8E6" stroke="#000" stroke-width="1.35"/>
<circle cx="1170.6" cy="345.9" r="4.55" fill="#CD5C5C" stroke="#000" stroke-width="1.35"/>
<circle cx="1175" cy="338.9" r="4.55" fill="#ADD8E6" stroke="#000" stroke-width="1.35"/>
<circle cx="1179.5" cy="370.1" r="4.55" fill="#CD5C5C" stroke="#000" stroke-width="1.35"/>
<circle cx="1184" cy="315.6" r="4.55" fill="#ADD8E6" stroke="#000" stroke-width="1.35"/>
<circle cx="1188.4" cy="380.6" r="4.55" fill="#CD5C5C" stroke="#000" stroke-width="1.35"/>
<circle cx="1192.9" cy="331.8" r="4.55" fill="#ADD8E6" stroke="#000" stroke-width="1.35"/>
<circle cx="1197.4" cy="333.1" r="4.55" fill="#ADD8E6" stroke="#000" stroke-width="1.35"/>
<circle cx="1201.8" cy="349.8" r="4.55" fill="#CD5C5C" stroke="#000" stroke-width="1.35"/>
<circle cx="1206.3" cy="366.7" r="4.55" fill="#CD5C5C" stroke="#000" stroke-width="1.35"/>
<circle cx="1210.8" cy="339.4" r="4.55" fill="#ADD8E6" stroke="#000" stroke-width="1.35"/>
<circle cx="1215.2" cy="345.1" r="4.55" fill="#ADD8E6" stroke="#000" stroke-width="1.35"/>
<circle cx="1219.7" cy="345.9" r="4.55" fill="#CD5C5C" stroke="#000" stroke-width="1.35"/>
<circle cx="1224.2" cy="349.8" r="4.55" fill="#ADD8E6" stroke="#000" stroke-width="1.35"/>
<circle cx="1228.6" cy="358.1" r="4.55" fill="#CD5C5C" stroke="#000" stroke-width="1.35"/>
<circle cx="1233.1" cy="337.3" r="4.55" fill="#ADD8E6" stroke="#000" stroke-width="1.35"/>
<rect x="1313.5" y="248.9" width="333.75" height="26.25" fill="#D9D9D9"/>
<rect x="1313.5" y="275.2" width="333.75" height="110.6" fill="#EBEBEB"/>
<text x="1480.4" y="271.1" font-size="24" text-anchor="middle" fill="#1A1A1A">9</text>
<line x1="1303.5" x2="1313.5" y1="289.4" y2="289.4" stroke="#333333" stroke-width="2"/>
<text x="1295" y="297.1" font-size="20.1" text-anchor="end" fill="#4D4D4D">4.5</text>
<line x1="1303.5" x2="1313.5" y1="318.2" y2="318.2" stroke="#333333" stroke-width="2"/>
<text x="1295" y="325.9" font-size="20.1" text-anchor="end" fill="#4D4D4D">4.0</text>
<line x1="1303.5" x2="1313.5" y1="347.1" y2="347.1" stroke="#333333" stroke-width="2"/>
<text x="1295" y="354.8" font-size="20.1" text-anchor="end" fill="#4D4D4D">3.5</text>
<line x1="1303.5" x2="1313.5" y1="376" y2="376" stroke="#333333" stroke-width="2"/>
<text x="1295" y="383.7" font-size="20.1" text-anchor="end" fill="#4D4D4D">3.0</text>
<line x1="1324.2" x2="1324.2" y1="385.8" y2="395.8" stroke="#333333" stroke-width="2"/>
<text x="1324.2" y="422" font-size="24.4" text-anchor="middle" fill="#4D4D4D">0</text>
<line x1="1413.5" x2="1413.5" y1="385.8" y2="395.8" stroke="#333333" stroke-width="2"/>
<text x="1413.5" y="422" font-size="24.4" text-anchor="middle" fill="#4D4D4D">20</text>
<line x1="1502.8" x2="1502.8" y1="385.8" y2="395.8" stroke="#333333" stroke-width="2"/>
<text x="1502.8" y="422" font-size="24.4" text-anchor="middle" fill="#4D4D4D">40</text>
<line x1="1592.2" x2="1592.2" y1="385.8" y2="395.8" stroke="#333333" stroke-width="2"/>
<text x="1592.2" y="422" font-size="24.4" text-anchor="middle" fill="#4D4D4D">60</text>
<polyline fill="none" stroke="#000" stroke-width="1.8" stroke-linejoin="round" points="1328.6,298.5 1333.1,297.8 1337.6,326.9 1342,312 1346.5,297.3 1351,280.7 1355.4,313.6 1359.9,318.1 1364.4,347.3 1368.8,348.4 1373.3,314.3 1377.8,306.5 1382.2,321.1 1386.7,309 1391.2,346.4 1395.6,318.5 1400.1,310.6 1404.6,338.9 1409,342.3 1413.5,316.1 1418,339.4 1422.4,355.6 1426.9,317.8 1431.4,319.8 1435.8,348.9 1440.3,322.3 1444.8,336.4 1449.2,380.6 1453.7,334.8 1458.2,347.3 1462.6,335.1 1467.1,356.1 1471.6,345.1 1476,358.1 1480.5,330.1 1485,294.8 1489.4,338.9 1493.9,307.3 1498.4,356.8 1502.8,349.3 1507.3,328.1 1511.8,292.8 1516.2,345.3 1520.7,352.3 1525.2,337.3 1529.6,343.1 1534.1,361.1 1538.6,338.1 1543,370.6 1547.5,331.8 1552,322.6 1556.4,342.8 1560.9,319.5 1565.4,349.3 1569.8,320.3 1574.3,356.1 1578.8,361.7 1583.2,336.4 1587.7,353.9 1592.2,282 1596.6,350.9 1601.1,367.6 1605.6,365.6 1610,308.5 1614.5,356.1 1619,348.4 1623.4,371.4 1627.9,347.8 1632.4,338.6"/>
<circle cx="1328.6" cy="298.5" r="4.55" fill="#CD5C5C" stroke="#000" stroke-width="1.35"/>
<circle cx="1333.1" cy="297.8" r="4.55" fill="#ADD8E6" stroke="#000" stroke-width="1.35"/>
<circle cx="1337.6" cy="326.9" r="4.55" fill="#CD5C5C" stroke="#000" stroke-width="1.35"/>
<circle cx="1342" cy="312" r="4.55" fill="#CD5C5C" stroke="#000" stroke-width="1.35"/>
<circle cx="1346.5" cy="297.3" r="4.55" fill="#ADD8E6" stroke="#000" stroke-width="1.35"/>
<circle cx="1351" cy="280.7" r="4.55" fill="#CD5C5C" stroke="#000" stroke-width="1.35"/>
<circle cx="1355.4" cy="313.6" r="4.55" fill="#CD5C5C" stroke="#000" stroke-width="1.35"/>
<circle cx="1359.9" cy="318.1" r="4.55" fill="#ADD8E6" stroke="#000" stroke-width="1.35"/>
<circle cx="1364.4" cy="347.3" r="4.55" fill="#CD5C5C" stroke="#000" stroke-width="1.35"/>
<circle cx="1368.8" cy="348.4" r="4.55" fill="#ADD8E6" stroke="#000" stroke-width="1.35"/>
<circle cx="1373.3" cy="314.3" r="4.55" fill="#CD5C5C" stroke="#000" stroke-width="1.35"/>
<circle cx="1377.8" cy="306.5" r="4.55" fill="#CD5C5C" stroke="#000" stroke-width="1.35"/>
<circle cx="1382.2" cy="321.1" r="4.55" fill="#ADD8E6" stroke="#000" stroke-width="1.35"/>
<circle cx="1386.7" cy="309" r="4.55" fill="#CD5C5C" stroke="#000" stroke-width="1.35"/>
<circle cx="1391.2" cy="346.4" r="4.55" fill="#ADD8E6" stroke="#000" stroke-width="1.35"/>
<circle cx="1395.6" cy="318.5" r="4.55" fill="#ADD8E6" stroke="#000" stroke-width="1.35"/>
<circle cx="1400.1" cy="310.6" r="4.55" fill="#CD5C5C" stroke="#000" stroke-width="1.35"/>
<circle cx="1404.6" cy="338.9" r="4.55" fill="#CD5C5C" stroke="#000" stroke-width="1.35"/>
<circle cx="1409" cy="342.3" r="4.55" fill="#ADD8E6" stroke="#000" stroke-width="1.35"/>
<circle cx="1413.5" cy="316.1" r="4.55" fill="#CD5C5C" stroke="#000" stroke-width="1.35"/>
<circle cx="1418" cy="339.4" r="4.55" fill="#CD5C5C" stroke="#000" stroke-width="1.35"/>
<circle cx="1422.4" cy="355.6" r="4.55" fill="#ADD8E6" stroke="#000" stroke-width="1.35"/>
<circle cx="1426.9" cy="317.8" r="4.55" fill="#CD5C5C" stroke="#000" stroke-width="1.35"/>
<circle cx="1431.4" cy="319.8" r="4.55" fill="#CD5C5C" stroke="#000" stroke-width="1.35"/>
<circle cx="1435.8" cy="348.9" r="4.55" fill="#ADD8E6" stroke="#000" stroke-width="1.35"/>
<circle cx="1440.3" cy="322.3" r="4.55" fill="#CD5C5C" stroke="#000" stroke-width="1.35"/>
<circle cx="1444.8" cy="336.4" r="4.55" fill="#ADD8E6" stroke="#000" stroke-width="1.35"/>
<circle cx="1449.2" cy="380.6" r="4.55" fill="#CD5C5C" stroke="#000" stroke-width="1.35"/>
<circle cx="1453.7" cy="334.8" r="4.55" fill="#CD5C5C" stroke="#000" stroke-width="1.35"/>
<circle cx="1458.2" cy="347.3" r="4.55" fill="#ADD8E6" stroke="#000" stroke-width="1.35"/>
<circle cx="1462.6" cy="335.1" r="4.55" fill="#ADD8E6" stroke="#000" stroke-width="1.35"/>
<circle cx="1467.1" cy="356.1" r="4.55" fill="#CD5C5C" stroke="#000" stroke-width="1.35"/>
<circle cx="1471.6" cy="345.1" r="4.55" fill="#ADD8E6" stroke="#000" stroke-width="1.35"/>
<circle cx="1476" cy="358.1" r="4.55" fill="#ADD8E6" stroke="#000" stroke-width="1.35"/>
<circle cx="1480.5" cy="330.1" r="4.55" fill="#CD5C5C" stroke="#000" stroke-width="1.35"/>
<circle cx="1485" cy="294.8" r="4.55" fill="#ADD8E6" stroke="#000" stroke-width="1.35"/>
<circle cx="1489.4" cy="338.9" r="4.55" fill="#CD5C5C" stroke="#000" stroke-width="1.35"/>
<circle cx="1493.9" cy="307.3" r="4.55" fill="#ADD8E6" stroke="#000" stroke-width="1.35"/>
<circle cx="1498.4" cy="356.8" r="4.55" fill="#ADD8E6" stroke="#000" stroke-width="1.35"/>
<circle cx="1502.8" cy="349.3" r="4.55" fill="#CD5C5C" stroke="#000" stroke-width="1.35"/>
<circle cx="1507.3" cy="328.1" r="4.55" fill="#ADD8E6" stroke="#000" stroke-width="1.35"/>
<circle cx="1511.8" cy="292.8" r="4.55" fill="#ADD8E6" stroke="#000" stroke-width="1.35"/>
<circle cx="1516.2" cy="345.3" r="4.55" fill="#CD5C5C" stroke="#000" stroke-width="1.35"/>
<circle cx="1520.7" cy="352.3" r="4.55" fill="#ADD8E6" stroke="#000" stroke-width="1.35"/>
<circle cx="1525.2" cy="337.3" r="4.55" fill="#ADD8E6" stroke="#000" stroke-width="1.35"/>
<circle cx="1529.6" cy="343.1" r="4.55" fill="#CD5C5C" stroke="#000" stroke-width="1.35"/>
<circle cx="1534.1" cy="361.1" r="4.55" fill="#CD5C5C" stroke="#000" stroke-width="1.35"/>
<circle cx="1538.6" cy="338.1" r="4.55" fill="#ADD8E6" stroke="#000" stroke-width="1.35"/>
<circle cx="1543" cy="370.6" r="4.55" fill="#CD5C5C" stroke="#000" stroke-width="1.35"/>
<circle cx="1547.5" cy="331.8" r="4.55" fill="#ADD8E6" stroke="#000" stroke-width="1.35"/>
<circle cx="1552" cy="322.6" r="4.55" fill="#ADD8E6" stroke="#000" stroke-width="1.35"/>
<circle cx="1556.4" cy="342.8" r="4.55" fill="#CD5C5C" stroke="#000" stroke-width="1.35"/>
<circle cx="1560.9" cy="319.5" r="4.55" fill="#ADD8E6" stroke="#000" stroke-width="1.35"/>
<circle cx="1565.4" cy="349.3" r="4.55" fill="#ADD8E6" stroke="#000" stroke-width="1.35"/>
<circle cx="1569.8" cy="320.3" r="4.55" fill="#CD5C5C" stroke="#000" stroke-width="1.35"/>
<circle cx="1574.3" cy="356.1" r="4.55" fill="#ADD8E6" stroke="#000" stroke-width="1.35"/>
<circle cx="1578.8" cy="361.7" r="4.55" fill="#CD5C5C" stroke="#000" stroke-width="1.35"/>
<circle cx="1583.2" cy="336.4" r="4.55" fill="#ADD8E6" stroke="#000" stroke-width="1.35"/>
<circle cx="1587.7" cy="353.9" r="4.55" fill="#CD5C5C" stroke="#000" stroke-width="1.35"/>
<circle cx="1592.2" cy="282" r="4.55" fill="#ADD8E6" stroke="#000" stroke-width="1.35"/>
<circle cx="1596.6" cy="350.9" r="4.55" fill="#ADD8E6" stroke="#000" stroke-width="1.35"/>
<circle cx="1601.1" cy="367.6" r="4.55" fill="#CD5C5C" stroke="#000" stroke-width="1.35"/>
<circle cx="1605.6" cy="365.6" r="4.55" fill="#CD5C5C" stroke="#000" stroke-width="1.35"/>
<circle cx="1610" cy="308.5" r="4.55" fill="#ADD8E6" stroke="#000" stroke-width="1.35"/>
<circle cx="1614.5" cy="356.1" r="4.55" fill="#ADD8E6" stroke="#000" stroke-width="1.35"/>
<circle cx="1619" cy="348.4" r="4.55" fill="#CD5C5C" stroke="#000" stroke-width="1.35"/>
<circle cx="1623.4" cy="371.4" r="4.55" fill="#ADD8E6" stroke="#000" stroke-width="1.35"/>
<circle cx="1627.9" cy="347.8" r="4.55" fill="#CD5C5C" stroke="#000" stroke-width="1.35"/>
<circle cx="1632.4" cy="338.6" r="4.55" fill="#ADD8E6" stroke="#000" stroke-width="1.35"/>
<rect x="1713.2" y="248.9" width="333.75" height="26.25" fill="#D9D9D9"/>
<rect x="1713.2" y="275.2" width="333.75" height="110.6" fill="#EBEBEB"/>
<text x="1880.1" y="271.1" font-size="24" text-anchor="middle" fill="#1A1A1A">10</text>
<line x1="1703.2" x2="1713.2" y1="297.6" y2="297.6" stroke="#333333" stroke-width="2"/>
<text x="1694.8" y="305.3" font-size="20.1" text-anchor="end" fill="#4D4D4D">4.0</text>
<line x1="1703.2" x2="1713.2" y1="326.6" y2="326.6" stroke="#333333" stroke-width="2"/>
<text x="1694.8" y="334.3" font-size="20.1" text-anchor="end" fill="#4D4D4D">3.6</text>
<line x1="1703.2" x2="1713.2" y1="355.5" y2="355.5" stroke="#333333" stroke-width="2"/>
<text x="1694.8" y="363.2" font-size="20.1" text-anchor="end" fill="#4D4D4D">3.2</text>
<line x1="1703.2" x2="1713.2" y1="384.4" y2="384.4" stroke="#333333" stroke-width="2"/>
<text x="1694.8" y="392.1" font-size="20.1" text-anchor="end" fill="#4D4D4D">2.8</text>
<line x1="1723.9" x2="1723.9" y1="385.8" y2="395.8" stroke="#333333" stroke-width="2"/>
<text x="1723.9" y="422" font-size="24.4" text-anchor="middle" fill="#4D4D4D">0</text>
<line x1="1813.2" x2="1813.2" y1="385.8" y2="395.8" stroke="#333333" stroke-width="2"/>
<text x="1813.2" y="422" font-size="24.4" text-anchor="middle" fill="#4D4D4D">20</text>
<line x1="1902.6" x2="1902.6" y1="385.8" y2="395.8" stroke="#333333" stroke-width="2"/>
<text x="1902.6" y="422" font-size="24.4" text-anchor="middle" fill="#4D4D4D">40</text>
<line x1="1991.9" x2="1991.9" y1="385.8" y2="395.8" stroke="#333333" stroke-width="2"/>
<text x="1991.9" y="422" font-size="24.4" text-anchor="middle" fill="#4D4D4D">60</text>
<polyline fill="none" stroke="#000" stroke-width="1.8" stroke-linejoin="round" points="1728.4,285.7 1732.8,283.7 1737.3,319.3 1741.8,315.3 1746.2,302 1750.7,282.3 1755.2,313.5 1759.6,291.5 1764.1,328.9 1768.6,285.7 1773,333.4 1777.5,292.3 1782,299.5 1786.4,294.5 1790.9,327.3 1795.4,322.3 1799.8,309.5 1804.3,301.5 1808.8,321.8 1813.2,304.3 1817.7,312.6 1822.2,330.6 1826.6,307.8 1831.1,327.6 1835.6,342.3 1840,316.1 1844.5,346.4 1849,322.8 1853.4,343.6 1857.9,328.6 1862.4,341.4 1866.8,325.6 1871.3,310.1 1875.8,316.1 1880.2,346.8 1884.7,283.2 1889.2,350.6 1893.6,305.3 1898.1,346.8 1902.6,321.8 1907,332.3 1911.5,314 1916,339.4 1920.4,333.6 1924.9,330.9 1929.4,304.8 1933.8,362.6 1938.3,347.3 1942.8,340.9 1947.2,363.4 1951.7,296.8 1956.2,318.1 1960.6,317.6 1965.1,364.7 1969.6,373.9 1974,358.6 1978.5,327.6 1983,300.1 1987.4,335.1 1991.9,327.3 1996.4,363.9 2000.8,332.3 2005.3,380.6 2009.8,280.7 2014.2,355.6 2018.7,348.6 2023.2,350.6 2027.6,343.6 2032.1,329.3"/>
<circle cx="1728.4" cy="285.7" r="4.55" fill="#CD5C5C" stroke="#000" stroke-width="1.35"/>
<circle cx="1732.8" cy="283.7" r="4.55" fill="#ADD8E6" stroke="#000" stroke-width="1.35"/>
<circle cx="1737.3" cy="319.3" r="4.55" fill="#CD5C5C" stroke="#000" stroke-width="1.35"/>
<circle cx="1741.8" cy="315.3" r="4.55" fill="#CD5C5C" stroke="#000" stroke-width="1.35"/>
<circle cx="1746.2" cy="302" r="4.55" fill="#ADD8E6" stroke="#000" stroke-width="1.35"/>
<circle cx="1750.7" cy="282.3" r="4.55" fill="#CD5C5C" stroke="#000" stroke-width="1.35"/>
<circle cx="1755.2" cy="313.5" r="4.55" fill="#CD5C5C" stroke="#000" stroke-width="1.35"/>
<circle cx="1759.6" cy="291.5" r="4.55" fill="#ADD8E6" stroke="#000" stroke-width="1.35"/>
<circle cx="1764.1" cy="328.9" r="4.55" fill="#CD5C5C" stroke="#000" stroke-width="1.35"/>
<circle cx="1768.6" cy="285.7" r="4.55" fill="#ADD8E6" stroke="#000" stroke-width="1.35"/>
<circle cx="1773" cy="333.4" r="4.55" fill="#CD5C5C" stroke="#000" stroke-width="1.35"/>
<circle cx="1777.5" cy="292.3" r="4.55" fill="#CD5C5C" stroke="#000" stroke-width="1.35"/>
<circle cx="1782" cy="299.5" r="4.55" fill="#ADD8E6" stroke="#000" stroke-width="1.35"/>
<circle cx="1786.4" cy="294.5" r="4.55" fill="#CD5C5C" stroke="#000" stroke-width="1.35"/>
<circle cx="1790.9" cy="327.3" r="4.55" fill="#ADD8E6" stroke="#000" stroke-width="1.35"/>
<circle cx="1795.4" cy="322.3" r="4.55" fill="#ADD8E6" stroke="#000" stroke-width="1.35"/>
<circle cx="1799.8" cy="309.5" r="4.55" fill="#CD5C5C" stroke="#000" stroke-width="1.35"/>
<circle cx="1804.3" cy="301.5" r="4.55" fill="#CD5C5C" stroke="#000" stroke-width="1.35"/>
<circle cx="1808.8" cy="321.8" r="4.55" fill="#ADD8E6" stroke="#000" stroke-width="1.35"/>
<circle cx="1813.2" cy="304.3" r="4.55" fill="#CD5C5C" stroke="#000" stroke-width="1.35"/>
<circle cx="1817.7" cy="312.6" r="4.55" fill="#CD5C5C" stroke="#000" stroke-width="1.35"/>
<circle cx="1822.2" cy="330.6" r="4.55" fill="#ADD8E6" stroke="#000" stroke-width="1.35"/>
<circle cx="1826.6" cy="307.8" r="4.55" fill="#CD5C5C" stroke="#000" stroke-width="1.35"/>
<circle cx="1831.1" cy="327.6" r="4.55" fill="#CD5C5C" stroke="#000" stroke-width="1.35"/>
<circle cx="1835.6" cy="342.3" r="4.55" fill="#ADD8E6" stroke="#000" stroke-width="1.35"/>
<circle cx="1840" cy="316.1" r="4.55" fill="#CD5C5C" stroke="#000" stroke-width="1.35"/>
<circle cx="1844.5" cy="346.4" r="4.55" fill="#ADD8E6" stroke="#000" stroke-width="1.35"/>
<circle cx="1849" cy="322.8" r="4.55" fill="#CD5C5C" stroke="#000" stroke-width="1.35"/>
<circle cx="1853.4" cy="343.6" r="4.55" fill="#CD5C5C" stroke="#000" stroke-width="1.35"/>
<circle cx="1857.9" cy="328.6" r="4.55" fill="#ADD8E6" stroke="#000" stroke-width="1.35"/>
<circle cx="1862.4" cy="341.4" r="4.55" fill="#ADD8E6" stroke="#000" stroke-width="1.35"/>
<circle cx="1866.8" cy="325.6" r="4.55" fill="#CD5C5C" stroke="#000" stroke-width="1.35"/>
<circle cx="1871.3" cy="310.1" r="4.55" fill="#ADD8E6" stroke="#000" stroke-width="1.35"/>
<circle cx="1875.8" cy="316.1" r="4.55" fill="#ADD8E6" stroke="#000" stroke-width="1.35"/>
<circle cx="1880.2" cy="346.8" r="4.55" fill="#CD5C5C" stroke="#000" stroke-width="1.35"/>
<circle cx="1884.7" cy="283.2" r="4.55" fill="#ADD8E6" stroke="#000" stroke-width="1.35"/>
<circle cx="1889.2" cy="350.6" r="4.55" fill="#CD5C5C" stroke="#000" stroke-width="1.35"/>
<circle cx="1893.6" cy="305.3" r="4.55" fill="#ADD8E6" stroke="#000" stroke-width="1.35"/>
<circle cx="1898.1" cy="346.8" r="4.55" fill="#ADD8E6" stroke="#000" stroke-width="1.35"/>
<circle cx="1902.6" cy="321.8" r="4.55" fill="#CD5C5C" stroke="#000" stroke-width="1.35"/>
<circle cx="1907" cy="332.3" r="4.55" fill="#ADD8E6" stroke="#000" stroke-width="1.35"/>
<circle cx="1911.5" cy="314" r="4.55" fill="#ADD8E6" stroke="#000" stroke-width="1.35"/>
<circle cx="1916" cy="339.4" r="4.55" fill="#CD5C5C" stroke="#000" stroke-width="1.35"/>
<circle cx="1920.4" cy="333.6" r="4.55" fill="#ADD8E6" stroke="#000" stroke-width="1.35"/>
<circle cx="1924.9" cy="330.9" r="4.55" fill="#ADD8E6" stroke="#000" stroke-width="1.35"/>
<circle cx="1929.4" cy="304.8" r="4.55" fill="#CD5C5C" stroke="#000" stroke-width="1.35"/>
<circle cx="1933.8" cy="362.6" r="4.55" fill="#CD5C5C" stroke="#000" stroke-width="1.35"/>
<circle cx="1938.3" cy="347.3" r="4.55" fill="#ADD8E6" stroke="#000" stroke-width="1.35"/>
<circle cx="1942.8" cy="340.9" r="4.55" fill="#CD5C5C" stroke="#000" stroke-width="1.35"/>
<circle cx="1947.2" cy="363.4" r="4.55" fill="#ADD8E6" stroke="#000" stroke-width="1.35"/>
<circle cx="1951.7" cy="296.8" r="4.55" fill="#ADD8E6" stroke="#000" stroke-width="1.35"/>
<circle cx="1956.2" cy="318.1" r="4.55" fill="#CD5C5C" stroke="#000" stroke-width="1.35"/>
<circle cx="1960.6" cy="317.6" r="4.55" fill="#ADD8E6" stroke="#000" stroke-width="1.35"/>
<circle cx="1965.1" cy="364.7" r="4.55" fill="#ADD8E6" stroke="#000" stroke-width="1.35"/>
<circle cx="1969.6" cy="373.9" r="4.55" fill="#CD5C5C" stroke="#000" stroke-width="1.35"/>
<circle cx="1974" cy="358.6" r="4.55" fill="#ADD8E6" stroke="#000" stroke-width="1.35"/>
<circle cx="1978.5" cy="327.6" r="4.55" fill="#CD5C5C" stroke="#000" stroke-width="1.35"/>
<circle cx="1983" cy="300.1" r="4.55" fill="#ADD8E6" stroke="#000" stroke-width="1.35"/>
<circle cx="1987.4" cy="335.1" r="4.55" fill="#CD5C5C" stroke="#000" stroke-width="1.35"/>
<circle cx="1991.9" cy="327.3" r="4.55" fill="#ADD8E6" stroke="#000" stroke-width="1.35"/>
<circle cx="1996.4" cy="363.9" r="4.55" fill="#ADD8E6" stroke="#000" stroke-width="1.35"/>
<circle cx="2000.8" cy="332.3" r="4.55" fill="#CD5C5C" stroke="#000" stroke-width="1.35"/>
<circle cx="2005.3" cy="380.6" r="4.55" fill="#CD5C5C" stroke="#000" stroke-width="1.35"/>
<circle cx="2009.8" cy="280.7" r="4.55" fill="#ADD8E6" stroke="#000" stroke-width="1.35"/>
<circle cx="2014.2" cy="355.6" r="4.55" fill="#ADD8E6" stroke="#000" stroke-width="1.35"/>
<circle cx="2018.7" cy="348.6" r="4.55" fill="#CD5C5C" stroke="#000" stroke-width="1.35"/>
<circle cx="2023.2" cy="350.6" r="4.55" fill="#ADD8E6" stroke="#000" stroke-width="1.35"/>
<circle cx="2027.6" cy="343.6" r="4.55" fill="#CD5C5C" stroke="#000" stroke-width="1.35"/>
<circle cx="2032.1" cy="329.3" r="4.55" fill="#ADD8E6" stroke="#000" stroke-width="1.35"/>
<rect x="104.2" y="442.3" width="333.75" height="26.25" fill="#D9D9D9"/>
<rect x="104.2" y="468.5" width="333.75" height="110.6" fill="#EBEBEB"/>
<text x="271.1" y="464.5" font-size="24" text-anchor="middle" fill="#1A1A1A">11</text>
<line x1="94.2" x2="104.2" y1="494.8" y2="494.8" stroke="#333333" stroke-width="2"/>
<text x="85.8" y="502.5" font-size="20.1" text-anchor="end" fill="#4D4D4D">4.0</text>
<line x1="94.2" x2="104.2" y1="527.4" y2="527.4" stroke="#333333" stroke-width="2"/>
<text x="85.8" y="535.1" font-size="20.1" text-anchor="end" fill="#4D4D4D">3.5</text>
<line x1="94.2" x2="104.2" y1="560" y2="560" stroke="#333333" stroke-width="2"/>
<text x="85.8" y="567.7" font-size="20.1" text-anchor="end" fill="#4D4D4D">3.0</text>
<line x1="114.9" x2="114.9" y1="579.1" y2="589.1" stroke="#333333" stroke-width="2"/>
<text x="114.9" y="615.3" font-size="24.4" text-anchor="middle" fill="#4D4D4D">0</text>
<line x1="204.2" x2="204.2" y1="579.1" y2="589.1" stroke="#333333" stroke-width="2"/>
<text x="204.2" y="615.3" font-size="24.4" text-anchor="middle" fill="#4D4D4D">20</text>
<line x1="293.6" x2="293.6" y1="579.1" y2="589.1" stroke="#333333" stroke-width="2"/>
<text x="293.6" y="615.3" font-size="24.4" text-anchor="middle" fill="#4D4D4D">40</text>
<line x1="382.9" x2="382.9" y1="579.1" y2="589.1" stroke="#333333" stroke-width="2"/>
<text x="382.9" y="615.3" font-size="24.4" text-anchor="middle" fill="#4D4D4D">60</text>
<polyline fill="none" stroke="#000" stroke-width="1.8" stroke-linejoin="round" points="119.4,499.5 123.8,497.8 128.3,516.5 132.8,475 137.2,474 141.7,493.3 146.2,487.8 150.6,497.3 155.1,503.6 159.6,508.6 164,493.6 168.5,498.3 173,515.8 177.4,487.5 181.9,540.3 186.4,536.1 190.8,511.5 195.3,521.9 199.8,533.6 204.2,520.8 208.7,510 213.2,550.8 217.6,526.1 222.1,530.8 226.6,554.1 231,524.4 235.5,554.1 240,546.1 244.4,540.3 248.9,539.8 253.4,556.9 257.8,549.1 262.3,520.3 266.8,545.6 271.2,544.4 275.7,504 280.2,565.7 284.6,548.6 289.1,557.7 293.6,548.1 298,551.1 302.5,533.6 307,543.1 311.4,559.4 315.9,517.8 320.4,544.1 324.8,562.7 329.3,553.9 333.8,571.6 338.2,548.6 342.7,505 347.2,551.1 351.6,551.9 356.1,545.3 360.6,561.6 365,562.2 369.5,562.7 374,531.9 378.4,568.9 382.9,549.4 387.4,569.9 391.8,574.1 396.3,562.4 400.8,525.6 405.2,556.9 409.7,565.6 414.2,563.6 418.6,557.7 423.1,560.2"/>
<circle cx="119.4" cy="499.5" r="4.55" fill="#CD5C5C" stroke="#000" stroke-width="1.35"/>
<circle cx="123.8" cy="497.8" r="4.55" fill="#ADD8E6" stroke="#000" stroke-width="1.35"/>
<circle cx="128.3" cy="516.5" r="4.55" fill="#CD5C5C" stroke="#000" stroke-width="1.35"/>
<circle cx="132.8" cy="475" r="4.55" fill="#CD5C5C" stroke="#000" stroke-width="1.35"/>
<circle cx="137.2" cy="474" r="4.55" fill="#ADD8E6" stroke="#000" stroke-width="1.35"/>
<circle cx="141.7" cy="493.3" r="4.55" fill="#CD5C5C" stroke="#000" stroke-width="1.35"/>
<circle cx="146.2" cy="487.8" r="4.55" fill="#CD5C5C" stroke="#000" stroke-width="1.35"/>
<circle cx="150.6" cy="497.3" r="4.55" fill="#ADD8E6" stroke="#000" stroke-width="1.35"/>
<circle cx="155.1" cy="503.6" r="4.55" fill="#CD5C5C" stroke="#000" stroke-width="1.35"/>
<circle cx="159.6" cy="508.6" r="4.55" fill="#ADD8E6" stroke="#000" stroke-width="1.35"/>
<circle cx="164" cy="493.6" r="4.55" fill="#CD5C5C" stroke="#000" stroke-width="1.35"/>
<circle cx="168.5" cy="498.3" r="4.55" fill="#CD5C5C" stroke="#000" stroke-width="1.35"/>
<circle cx="173" cy="515.8" r="4.55" fill="#ADD8E6" stroke="#000" stroke-width="1.35"/>
<circle cx="177.4" cy="487.5" r="4.55" fill="#CD5C5C" stroke="#000" stroke-width="1.35"/>
<circle cx="181.9" cy="540.3" r="4.55" fill="#ADD8E6" stroke="#000" stroke-width="1.35"/>
<circle cx="186.4" cy="536.1" r="4.55" fill="#ADD8E6" stroke="#000" stroke-width="1.35"/>
<circle cx="190.8" cy="511.5" r="4.55" fill="#CD5C5C" stroke="#000" stroke-width="1.35"/>
<circle cx="195.3" cy="521.9" r="4.55" fill="#CD5C5C" stroke="#000" stroke-width="1.35"/>
<circle cx="199.8" cy="533.6" r="4.55" fill="#ADD8E6" stroke="#000" stroke-width="1.35"/>
<circle cx="204.2" cy="520.8" r="4.55" fill="#CD5C5C" stroke="#000" stroke-width="1.35"/>
<circle cx="208.7" cy="510" r="4.55" fill="#CD5C5C" stroke="#000" stroke-width="1.35"/>
<circle cx="213.2" cy="550.8" r="4.55" fill="#ADD8E6" stroke="#000" stroke-width="1.35"/>
<circle cx="217.6" cy="526.1" r="4.55" fill="#CD5C5C" stroke="#000" stroke-width="1.35"/>
<circle cx="222.1" cy="530.8" r="4.55" fill="#CD5C5C" stroke="#000" stroke-width="1.35"/>
<circle cx="226.6" cy="554.1" r="4.55" fill="#ADD8E6" stroke="#000" stroke-width="1.35"/>
<circle cx="231" cy="524.4" r="4.55" fill="#CD5C5C" stroke="#000" stroke-width="1.35"/>
<circle cx="235.5" cy="554.1" r="4.55" fill="#ADD8E6" stroke="#000" stroke-width="1.35"/>
<circle cx="240" cy="546.1" r="4.55" fill="#CD5C5C" stroke="#000" stroke-width="1.35"/>
<circle cx="244.4" cy="540.3" r="4.55" fill="#CD5C5C" stroke="#000" stroke-width="1.35"/>
<circle cx="248.9" cy="539.8" r="4.55" fill="#ADD8E6" stroke="#000" stroke-width="1.35"/>
<circle cx="253.4" cy="556.9" r="4.55" fill="#ADD8E6" stroke="#000" stroke-width="1.35"/>
<circle cx="257.8" cy="549.1" r="4.55" fill="#CD5C5C" stroke="#000" stroke-width="1.35"/>
<circle cx="262.3" cy="520.3" r="4.55" fill="#ADD8E6" stroke="#000" stroke-width="1.35"/>
<circle cx="266.8" cy="545.6" r="4.55" fill="#ADD8E6" stroke="#000" stroke-width="1.35"/>
<circle cx="271.2" cy="544.4" r="4.55" fill="#CD5C5C" stroke="#000" stroke-width="1.35"/>
<circle cx="275.7" cy="504" r="4.55" fill="#ADD8E6" stroke="#000" stroke-width="1.35"/>
<circle cx="280.2" cy="565.7" r="4.55" fill="#CD5C5C" stroke="#000" stroke-width="1.35"/>
<circle cx="284.6" cy="548.6" r="4.55" fill="#ADD8E6" stroke="#000" stroke-width="1.35"/>
<circle cx="289.1" cy="557.7" r="4.55" fill="#ADD8E6" stroke="#000" stroke-width="1.35"/>
<circle cx="293.6" cy="548.1" r="4.55" fill="#CD5C5C" stroke="#000" stroke-width="1.35"/>
<circle cx="298" cy="551.1" r="4.55" fill="#ADD8E6" stroke="#000" stroke-width="1.35"/>
<circle cx="302.5" cy="533.6" r="4.55" fill="#ADD8E6" stroke="#000" stroke-width="1.35"/>
<circle cx="307" cy="543.1" r="4.55" fill="#CD5C5C" stroke="#000" stroke-width="1.35"/>
<circle cx="311.4" cy="559.4" r="4.55" fill="#ADD8E6" stroke="#000" stroke-width="1.35"/>
<circle cx="315.9" cy="517.8" r="4.55" fill="#ADD8E6" stroke="#000" stroke-width="1.35"/>
<circle cx="320.4" cy="544.1" r="4.55" fill="#CD5C5C" stroke="#000" stroke-width="1.35"/>
<circle cx="324.8" cy="562.7" r="4.55" fill="#CD5C5C" stroke="#000" stroke-width="1.35"/>
<circle cx="329.3" cy="553.9" r="4.55" fill="#ADD8E6" stroke="#000" stroke-width="1.35"/>
<circle cx="333.8" cy="571.6" r="4.55" fill="#CD5C5C" stroke="#000" stroke-width="1.35"/>
<circle cx="338.2" cy="548.6" r="4.55" fill="#ADD8E6" stroke="#000" stroke-width="1.35"/>
<circle cx="342.7" cy="505" r="4.55" fill="#ADD8E6" stroke="#000" stroke-width="1.35"/>
<circle cx="347.2" cy="551.1" r="4.55" fill="#CD5C5C" stroke="#000" stroke-width="1.35"/>
<circle cx="351.6" cy="551.9" r="4.55" fill="#ADD8E6" stroke="#000" stroke-width="1.35"/>
<circle cx="356.1" cy="545.3" r="4.55" fill="#ADD8E6" stroke="#000" stroke-width="1.35"/>
<circle cx="360.6" cy="561.6" r="4.55" fill="#CD5C5C" stroke="#000" stroke-width="1.35"/>
<circle cx="365" cy="562.2" r="4.55" fill="#ADD8E6" stroke="#000" stroke-width="1.35"/>
<circle cx="369.5" cy="562.7" r="4.55" fill="#CD5C5C" stroke="#000" stroke-width="1.35"/>
<circle cx="374" cy="531.9" r="4.55" fill="#ADD8E6" stroke="#000" stroke-width="1.35"/>
<circle cx="378.4" cy="568.9" r="4.55" fill="#CD5C5C" stroke="#000" stroke-width="1.35"/>
<circle cx="382.9" cy="549.4" r="4.55" fill="#ADD8E6" stroke="#000" stroke-width="1.35"/>
<circle cx="387.4" cy="569.9" r="4.55" fill="#ADD8E6" stroke="#000" stroke-width="1.35"/>
<circle cx="391.8" cy="574.1" r="4.55" fill="#CD5C5C" stroke="#000" stroke-width="1.35"/>
<circle cx="396.3" cy="562.4" r="4.55" fill="#CD5C5C" stroke="#000" stroke-width="1.35"/>
<circle cx="400.8" cy="525.6" r="4.55" fill="#ADD8E6" stroke="#000" stroke-width="1.35"/>
<circle cx="405.2" cy="556.9" r="4.55" fill="#ADD8E6" stroke="#000" stroke-width="1.35"/>
<circle cx="409.7" cy="565.6" r="4.55" fill="#CD5C5C" stroke="#000" stroke-width="1.35"/>
<circle cx="414.2" cy="563.6" r="4.55" fill="#ADD8E6" stroke="#000" stroke-width="1.35"/>
<circle cx="418.6" cy="557.7" r="4.55" fill="#CD5C5C" stroke="#000" stroke-width="1.35"/>
<circle cx="423.1" cy="560.2" r="4.55" fill="#ADD8E6" stroke="#000" stroke-width="1.35"/>
<rect x="514.5" y="442.3" width="333.75" height="26.25" fill="#D9D9D9"/>
<rect x="514.5" y="468.5" width="333.75" height="110.6" fill="#EBEBEB"/>
<text x="681.4" y="464.5" font-size="24" text-anchor="middle" fill="#1A1A1A">12</text>
<line x1="504.5" x2="514.5" y1="470" y2="470" stroke="#333333" stroke-width="2"/>
<text x="496" y="477.7" font-size="20.1" text-anchor="end" fill="#4D4D4D">4.00</text>
<line x1="504.5" x2="514.5" y1="491.1" y2="491.1" stroke="#333333" stroke-width="2"/>
<text x="496" y="498.8" font-size="20.1" text-anchor="end" fill="#4D4D4D">3.75</text>
<line x1="504.5" x2="514.5" y1="512.2" y2="512.2" stroke="#333333" stroke-width="2"/>
<text x="496" y="519.9" font-size="20.1" text-anchor="end" fill="#4D4D4D">3.50</text>
<line x1="504.5" x2="514.5" y1="533.3" y2="533.3" stroke="#333333" stroke-width="2"/>
<text x="496" y="541" font-size="20.1" text-anchor="end" fill="#4D4D4D">3.25</text>
<line x1="504.5" x2="514.5" y1="554.4" y2="554.4" stroke="#333333" stroke-width="2"/>
<text x="496" y="562.1" font-size="20.1" text-anchor="end" fill="#4D4D4D">3.00</text>
<line x1="504.5" x2="514.5" y1="575.5" y2="575.5" stroke="#333333" stroke-width="2"/>
<text x="496" y="583.2" font-size="20.1" text-anchor="end" fill="#4D4D4D">2.75</text>
<line x1="525.1" x2="525.1" y1="579.1" y2="589.1" stroke="#333333" stroke-width="2"/>
<text x="525.1" y="615.3" font-size="24.4" text-anchor="middle" fill="#4D4D4D">0</text>
<line x1="614.5" x2="614.5" y1="579.1" y2="589.1" stroke="#333333" stroke-width="2"/>
<text x="614.5" y="615.3" font-size="24.4" text-anchor="middle" fill="#4D4D4D">20</text>
<line x1="703.8" x2="703.8" y1="579.1" y2="589.1" stroke="#333333" stroke-width="2"/>
<text x="703.8" y="615.3" font-size="24.4" text-anchor="middle" fill="#4D4D4D">40</text>
<line x1="793.2" x2="793.2" y1="579.1" y2="589.1" stroke="#333333" stroke-width="2"/>
<text x="793.2" y="615.3" font-size="24.4" text-anchor="middle" fill="#4D4D4D">60</text>
<polyline fill="none" stroke="#000" stroke-width="1.8" stroke-linejoin="round" points="529.6,482.5 534.1,511.6 538.6,488.6 543,487.3 547.5,506.6 552,519.9 556.4,505 560.9,519.4 565.4,490.3 569.8,511.1 574.3,490.6 578.8,474 583.2,514.5 587.7,492.5 592.2,503.6 596.6,508.3 601.1,483.3 605.6,515.8 610,525.3 614.5,497.8 619,515.6 623.4,539.1 627.9,519.1 632.4,528.9 636.8,531.9 641.3,478.2 645.8,534.9 650.2,530.6 654.7,504 659.2,543.6 663.6,528.9 668.1,523.9 672.6,510.3 677,543.1 681.5,494.8 686,517.5 690.4,544.8 694.9,519.8 699.4,520.6 703.8,553.9 708.3,567.4 712.8,511.1 717.2,529.8 721.7,518.1 726.2,507.5 730.6,549.9 735.1,548.9 739.6,520.3 744,533.9 748.5,539.9 753,508.6 757.4,512.5 761.9,503.6 766.4,520.6 770.8,562.4 775.3,521.9 779.8,555.2 784.2,505 788.7,556.9 793.2,515 797.6,528.9 802.1,534.9 806.6,533.9 811,504.8 815.5,538.3 820,541.9 824.4,550.8 828.9,573.6 833.4,543.6"/>
<circle cx="529.6" cy="482.5" r="4.55" fill="#CD5C5C" stroke="#000" stroke-width="1.35"/>
<circle cx="534.1" cy="511.6" r="4.55" fill="#ADD8E6" stroke="#000" stroke-width="1.35"/>
<circle cx="538.6" cy="488.6" r="4.55" fill="#CD5C5C" stroke="#000" stroke-width="1.35"/>
<circle cx="543" cy="487.3" r="4.55" fill="#CD5C5C" stroke="#000" stroke-width="1.35"/>
<circle cx="547.5" cy="506.6" r="4.55" fill="#ADD8E6" stroke="#000" stroke-width="1.35"/>
<circle cx="552" cy="519.9" r="4.55" fill="#CD5C5C" stroke="#000" stroke-width="1.35"/>
<circle cx="556.4" cy="505" r="4.55" fill="#CD5C5C" stroke="#000" stroke-width="1.35"/>
<circle cx="560.9" cy="519.4" r="4.55" fill="#ADD8E6" stroke="#000" stroke-width="1.35"/>
<circle cx="565.4" cy="490.3" r="4.55" fill="#CD5C5C" stroke="#000" stroke-width="1.35"/>
<circle cx="569.8" cy="511.1" r="4.55" fill="#ADD8E6" stroke="#000" stroke-width="1.35"/>
<circle cx="574.3" cy="490.6" r="4.55" fill="#CD5C5C" stroke="#000" stroke-width="1.35"/>
<circle cx="578.8" cy="474" r="4.55" fill="#CD5C5C" stroke="#000" stroke-width="1.35"/>
<circle cx="583.2" cy="514.5" r="4.55" fill="#ADD8E6" stroke="#000" stroke-width="1.35"/>
<circle cx="587.7" cy="492.5" r="4.55" fill="#CD5C5C" stroke="#000" stroke-width="1.35"/>
<circle cx="592.2" cy="503.6" r="4.55" fill="#ADD8E6" stroke="#000" stroke-width="1.35"/>
<circle cx="596.6" cy="508.3" r="4.55" fill="#ADD8E6" stroke="#000" stroke-width="1.35"/>
<circle cx="601.1" cy="483.3" r="4.55" fill="#CD5C5C" stroke="#000" stroke-width="1.35"/>
<circle cx="605.6" cy="515.8" r="4.55" fill="#CD5C5C" stroke="#000" stroke-width="1.35"/>
<circle cx="610" cy="525.3" r="4.55" fill="#ADD8E6" stroke="#000" stroke-width="1.35"/>
<circle cx="614.5" cy="497.8" r="4.55" fill="#CD5C5C" stroke="#000" stroke-width="1.35"/>
<circle cx="619" cy="515.6" r="4.55" fill="#CD5C5C" stroke="#000" stroke-width="1.35"/>
<circle cx="623.4" cy="539.1" r="4.55" fill="#ADD8E6" stroke="#000" stroke-width="1.35"/>
<circle cx="627.9" cy="519.1" r="4.55" fill="#CD5C5C" stroke="#000" stroke-width="1.35"/>
<circle cx="632.4" cy="528.9" r="4.55" fill="#CD5C5C" stroke="#000" stroke-width="1.35"/>
<circle cx="636.8" cy="531.9" r="4.55" fill="#ADD8E6" stroke="#000" stroke-width="1.35"/>
<circle cx="641.3" cy="478.2" r="4.55" fill="#CD5C5C" stroke="#000" stroke-width="1.35"/>
<circle cx="645.8" cy="534.9" r="4.55" fill="#ADD8E6" stroke="#000" stroke-width="1.35"/>
<circle cx="650.2" cy="530.6" r="4.55" fill="#CD5C5C" stroke="#000" stroke-width="1.35"/>
<circle cx="654.7" cy="504" r="4.55" fill="#CD5C5C" stroke="#000" stroke-width="1.35"/>
<circle cx="659.2" cy="543.6" r="4.55" fill="#ADD8E6" stroke="#000" stroke-width="1.35"/>
<circle cx="663.6" cy="528.9" r="4.55" fill="#ADD8E6" stroke="#000" stroke-width="1.35"/>
<circle cx="668.1" cy="523.9" r="4.55" fill="#CD5C5C" stroke="#000" stroke-width="1.35"/>
<circle cx="672.6" cy="510.3" r="4.55" fill="#ADD8E6" stroke="#000" stroke-width="1.35"/>
<circle cx="677" cy="543.1" r="4.55" fill="#ADD8E6" stroke="#000" stroke-width="1.35"/>
<circle cx="681.5" cy="494.8" r="4.55" fill="#CD5C5C" stroke="#000" stroke-width="1.35"/>
<circle cx="686" cy="517.5" r="4.55" fill="#ADD8E6" stroke="#000" stroke-width="1.35"/>
<circle cx="690.4" cy="544.8" r="4.55" fill="#CD5C5C" stroke="#000" stroke-width="1.35"/>
<circle cx="694.9" cy="519.8" r="4.55" fill="#ADD8E6" stroke="#000" stroke-width="1.35"/>
<circle cx="699.4" cy="520.6" r="4.55" fill="#ADD8E6" stroke="#000" stroke-width="1.35"/>
<circle cx="703.8" cy="553.9" r="4.55" fill="#CD5C5C" stroke="#000" stroke-width="1.35"/>
<circle cx="708.3" cy="567.4" r="4.55" fill="#ADD8E6" stroke="#000" stroke-width="1.35"/>
<circle cx="712.8" cy="511.1" r="4.55" fill="#ADD8E6" stroke="#000" stroke-width="1.35"/>
<circle cx="717.2" cy="529.8" r="4.55" fill="#CD5C5C" stroke="#000" stroke-width="1.35"/>
<circle cx="721.7" cy="518.1" r="4.55" fill="#ADD8E6" stroke="#000" stroke-width="1.35"/>
<circle cx="726.2" cy="507.5" r="4.55" fill="#ADD8E6" stroke="#000" stroke-width="1.35"/>
<circle cx="730.6" cy="549.9" r="4.55" fill="#CD5C5C" stroke="#000" stroke-width="1.35"/>
<circle cx="735.1" cy="548.9" r="4.55" fill="#CD5C5C" stroke="#000" stroke-width="1.35"/>
<circle cx="739.6" cy="520.3" r="4.55" fill="#ADD8E6" stroke="#000" stroke-width="1.35"/>
<circle cx="744" cy="533.9" r="4.55" fill="#CD5C5C" stroke="#000" stroke-width="1.35"/>
<circle cx="748.5" cy="539.9" r="4.55" fill="#ADD8E6" stroke="#000" stroke-width="1.35"/>
<circle cx="753" cy="508.6" r="4.55" fill="#ADD8E6" stroke="#000" stroke-width="1.35"/>
<circle cx="757.4" cy="512.5" r="4.55" fill="#CD5C5C" stroke="#000" stroke-width="1.35"/>
<circle cx="761.9" cy="503.6" r="4.55" fill="#ADD8E6" stroke="#000" stroke-width="1.35"/>
<circle cx="766.4" cy="520.6" r="4.55" fill="#ADD8E6" stroke="#000" stroke-width="1.35"/>
<circle cx="770.8" cy="562.4" r="4.55" fill="#CD5C5C" stroke="#000" stroke-width="1.35"/>
<circle cx="775.3" cy="521.9" r="4.55" fill="#ADD8E6" stroke="#000" stroke-width="1.35"/>
<circle cx="779.8" cy="555.2" r="4.55" fill="#CD5C5C" stroke="#000" stroke-width="1.35"/>
<circle cx="784.2" cy="505" r="4.55" fill="#ADD8E6" stroke="#000" stroke-width="1.35"/>
<circle cx="788.7" cy="556.9" r="4.55" fill="#CD5C5C" stroke="#000" stroke-width="1.35"/>
<circle cx="793.2" cy="515" r="4.55" fill="#ADD8E6" stroke="#000" stroke-width="1.35"/>
<circle cx="797.6" cy="528.9" r="4.55" fill="#ADD8E6" stroke="#000" stroke-width="1.35"/>
<circle cx="802.1" cy="534.9" r="4.55" fill="#CD5C5C" stroke="#000" stroke-width="1.35"/>
<circle cx="806.6" cy="533.9" r="4.55" fill="#CD5C5C" stroke="#000" stroke-width="1.35"/>
<circle cx="811" cy="504.8" r="4.55" fill="#ADD8E6" stroke="#000" stroke-width="1.35"/>
<circle cx="815.5" cy="538.3" r="4.55" fill="#ADD8E6" stroke="#000" stroke-width="1.35"/>
<circle cx="820" cy="541.9" r="4.55" fill="#CD5C5C" stroke="#000" stroke-width="1.35"/>
<circle cx="824.4" cy="550.8" r="4.55" fill="#ADD8E6" stroke="#000" stroke-width="1.35"/>
<circle cx="828.9" cy="573.6" r="4.55" fill="#CD5C5C" stroke="#000" stroke-width="1.35"/>
<circle cx="833.4" cy="543.6" r="4.55" fill="#ADD8E6" stroke="#000" stroke-width="1.35"/>
<rect x="914.2" y="442.3" width="333.75" height="26.25" fill="#D9D9D9"/>
<rect x="914.2" y="468.5" width="333.75" height="110.6" fill="#EBEBEB"/>
<text x="1081.1" y="464.5" font-size="24" text-anchor="middle" fill="#1A1A1A">13</text>
<line x1="904.2" x2="914.2" y1="494.3" y2="494.3" stroke="#333333" stroke-width="2"/>
<text x="895.8" y="502" font-size="20.1" text-anchor="end" fill="#4D4D4D">3.6</text>
<line x1="904.2" x2="914.2" y1="523.9" y2="523.9" stroke="#333333" stroke-width="2"/>
<text x="895.8" y="531.6" font-size="20.1" text-anchor="end" fill="#4D4D4D">3.3</text>
<line x1="904.2" x2="914.2" y1="553.4" y2="553.4" stroke="#333333" stroke-width="2"/>
<text x="895.8" y="561.1" font-size="20.1" text-anchor="end" fill="#4D4D4D">3.0</text>
<line x1="924.9" x2="924.9" y1="579.1" y2="589.1" stroke="#333333" stroke-width="2"/>
<text x="924.9" y="615.3" font-size="24.4" text-anchor="middle" fill="#4D4D4D">0</text>
<line x1="1014.2" x2="1014.2" y1="579.1" y2="589.1" stroke="#333333" stroke-width="2"/>
<text x="1014.2" y="615.3" font-size="24.4" text-anchor="middle" fill="#4D4D4D">20</text>
<line x1="1103.6" x2="1103.6" y1="579.1" y2="589.1" stroke="#333333" stroke-width="2"/>
<text x="1103.6" y="615.3" font-size="24.4" text-anchor="middle" fill="#4D4D4D">40</text>
<line x1="1192.9" x2="1192.9" y1="579.1" y2="589.1" stroke="#333333" stroke-width="2"/>
<text x="1192.9" y="615.3" font-size="24.4" text-anchor="middle" fill="#4D4D4D">60</text>
<polyline fill="none" stroke="#000" stroke-width="1.8" stroke-linejoin="round" points="929.4,482 933.8,474 938.3,498.6 942.8,485.3 947.2,507.8 951.7,477.5 956.2,511.1 960.6,531.1 965.1,518.9 969.6,550.3 974,493.6 978.5,485.8 983,522.3 987.4,496.5 991.9,529.9 996.4,534.4 1000.8,502.3 1005.3,525.3 1009.8,548.6 1014.2,509.1 1018.7,514.5 1023.2,538.6 1027.6,507.5 1032.1,533.3 1036.6,543.9 1041,487 1045.5,574.1 1050,535.3 1054.4,515.6 1058.9,543.1 1063.4,528.9 1067.8,536.9 1072.3,522.4 1076.8,549.9 1081.2,521.9 1085.7,498.3 1090.2,521.9 1094.6,558.2 1099.1,524.9 1103.6,534.1 1108,546.6 1112.5,520.6 1117,534.4 1121.4,523.6 1125.9,532.8 1130.4,555.7 1134.8,552.4 1139.3,531.6 1143.8,547.3 1148.2,538.1 1152.7,497.3 1157.2,569.9 1161.6,522.4 1166.1,529.8 1170.6,547.4 1175,563.1 1179.5,556.6 1184,532.8 1188.4,529.8 1192.9,503.6 1197.4,536.4 1201.8,552.2 1206.3,545.6 1210.8,507.8 1215.2,548.6 1219.7,559.4 1224.2,532.4 1228.6,567.7 1233.1,553.6"/>
<circle cx="929.4" cy="482" r="4.55" fill="#CD5C5C" stroke="#000" stroke-width="1.35"/>
<circle cx="933.8" cy="474" r="4.55" fill="#ADD8E6" stroke="#000" stroke-width="1.35"/>
<circle cx="938.3" cy="498.6" r="4.55" fill="#CD5C5C" stroke="#000" stroke-width="1.35"/>
<circle cx="942.8" cy="485.3" r="4.55" fill="#CD5C5C" stroke="#000" stroke-width="1.35"/>
<circle cx="947.2" cy="507.8" r="4.55" fill="#ADD8E6" stroke="#000" stroke-width="1.35"/>
<circle cx="951.7" cy="477.5" r="4.55" fill="#CD5C5C" stroke="#000" stroke-width="1.35"/>
<circle cx="956.2" cy="511.1" r="4.55" fill="#CD5C5C" stroke="#000" stroke-width="1.35"/>
<circle cx="960.6" cy="531.1" r="4.55" fill="#ADD8E6" stroke="#000" stroke-width="1.35"/>
<circle cx="965.1" cy="518.9" r="4.55" fill="#CD5C5C" stroke="#000" stroke-width="1.35"/>
<circle cx="969.6" cy="550.3" r="4.55" fill="#ADD8E6" stroke="#000" stroke-width="1.35"/>
<circle cx="974" cy="493.6" r="4.55" fill="#CD5C5C" stroke="#000" stroke-width="1.35"/>
<circle cx="978.5" cy="485.8" r="4.55" fill="#CD5C5C" stroke="#000" stroke-width="1.35"/>
<circle cx="983" cy="522.3" r="4.55" fill="#ADD8E6" stroke="#000" stroke-width="1.35"/>
<circle cx="987.4" cy="496.5" r="4.55" fill="#CD5C5C" stroke="#000" stroke-width="1.35"/>
<circle cx="991.9" cy="529.9" r="4.55" fill="#ADD8E6" stroke="#000" stroke-width="1.35"/>
<circle cx="996.4" cy="534.4" r="4.55" fill="#ADD8E6" stroke="#000" stroke-width="1.35"/>
<circle cx="1000.8" cy="502.3" r="4.55" fill="#CD5C5C" stroke="#000" stroke-width="1.35"/>
<circle cx="1005.3" cy="525.3" r="4.55" fill="#CD5C5C" stroke="#000" stroke-width="1.35"/>
<circle cx="1009.8" cy="548.6" r="4.55" fill="#ADD8E6" stroke="#000" stroke-width="1.35"/>
<circle cx="1014.2" cy="509.1" r="4.55" fill="#CD5C5C" stroke="#000" stroke-width="1.35"/>
<circle cx="1018.7" cy="514.5" r="4.55" fill="#CD5C5C" stroke="#000" stroke-width="1.35"/>
<circle cx="1023.2" cy="538.6" r="4.55" fill="#ADD8E6" stroke="#000" stroke-width="1.35"/>
<circle cx="1027.6" cy="507.5" r="4.55" fill="#CD5C5C" stroke="#000" stroke-width="1.35"/>
<circle cx="1032.1" cy="533.3" r="4.55" fill="#CD5C5C" stroke="#000" stroke-width="1.35"/>
<circle cx="1036.6" cy="543.9" r="4.55" fill="#ADD8E6" stroke="#000" stroke-width="1.35"/>
<circle cx="1041" cy="487" r="4.55" fill="#CD5C5C" stroke="#000" stroke-width="1.35"/>
<circle cx="1045.5" cy="574.1" r="4.55" fill="#ADD8E6" stroke="#000" stroke-width="1.35"/>
<circle cx="1050" cy="535.3" r="4.55" fill="#CD5C5C" stroke="#000" stroke-width="1.35"/>
<circle cx="1054.4" cy="515.6" r="4.55" fill="#CD5C5C" stroke="#000" stroke-width="1.35"/>
<circle cx="1058.9" cy="543.1" r="4.55" fill="#ADD8E6" stroke="#000" stroke-width="1.35"/>
<circle cx="1063.4" cy="528.9" r="4.55" fill="#ADD8E6" stroke="#000" stroke-width="1.35"/>
<circle cx="1067.8" cy="536.9" r="4.55" fill="#CD5C5C" stroke="#000" stroke-width="1.35"/>
<circle cx="1072.3" cy="522.4" r="4.55" fill="#ADD8E6" stroke="#000" stroke-width="1.35"/>
<circle cx="1076.8" cy="549.9" r="4.55" fill="#ADD8E6" stroke="#000" stroke-width="1.35"/>
<circle cx="1081.2" cy="521.9" r="4.55" fill="#CD5C5C" stroke="#000" stroke-width="1.35"/>
<circle cx="1085.7" cy="498.3" r="4.55" fill="#ADD8E6" stroke="#000" stroke-width="1.35"/>
<circle cx="1090.2" cy="521.9" r="4.55" fill="#CD5C5C" stroke="#000" stroke-width="1.35"/>
<circle cx="1094.6" cy="558.2" r="4.55" fill="#ADD8E6" stroke="#000" stroke-width="1.35"/>
<circle cx="1099.1" cy="524.9" r="4.55" fill="#ADD8E6" stroke="#000" stroke-width="1.35"/>
<circle cx="1103.6" cy="534.1" r="4.55" fill="#CD5C5C" stroke="#000" stroke-width="1.35"/>
<circle cx="1108" cy="546.6" r="4.55" fill="#ADD8E6" stroke="#000" stroke-width="1.35"/>
<circle cx="1112.5" cy="520.6" r="4.55" fill="#ADD8E6" stroke="#000" stroke-width="1.35"/>
<circle cx="1117" cy="534.4" r="4.55" fill="#CD5C5C" stroke="#000" stroke-width="1.35"/>
<circle cx="1121.4" cy="523.6" r="4.55" fill="#ADD8E6" stroke="#000" stroke-width="1.35"/>
<circle cx="1125.9" cy="532.8" r="4.55" fill="#ADD8E6" stroke="#000" stroke-width="1.35"/>
<circle cx="1130.4" cy="555.7" r="4.55" fill="#CD5C5C" stroke="#000" stroke-width="1.35"/>
<circle cx="1134.8" cy="552.4" r="4.55" fill="#CD5C5C" stroke="#000" stroke-width="1.35"/>
<circle cx="1139.3" cy="531.6" r="4.55" fill="#ADD8E6" stroke="#000" stroke-width="1.35"/>
<circle cx="1143.8" cy="547.3" r="4.55" fill="#CD5C5C" stroke="#000" stroke-width="1.35"/>
<circle cx="1148.2" cy="538.1" r="4.55" fill="#ADD8E6" stroke="#000" stroke-width="1.35"/>
<circle cx="1152.7" cy="497.3" r="4.55" fill="#ADD8E6" stroke="#000" stroke-width="1.35"/>
<circle cx="1157.2" cy="569.9" r="4.55" fill="#CD5C5C" stroke="#000" stroke-width="1.35"/>
<circle cx="1161.6" cy="522.4" r="4.55" fill="#ADD8E6" stroke="#000" stroke-width="1.35"/>
<circle cx="1166.1" cy="529.8" r="4.55" fill="#ADD8E6" stroke="#000" stroke-width="1.35"/>
<circle cx="1170.6" cy="547.4" r="4.55" fill="#CD5C5C" stroke="#000" stroke-width="1.35"/>
<circle cx="1175" cy="563.1" r="4.55" fill="#ADD8E6" stroke="#000" stroke-width="1.35"/>
<circle cx="1179.5" cy="556.6" r="4.55" fill="#CD5C5C" stroke="#000" stroke-width="1.35"/>
<circle cx="1184" cy="532.8" r="4.55" fill="#ADD8E6" stroke="#000" stroke-width="1.35"/>
<circle cx="1188.4" cy="529.8" r="4.55" fill="#CD5C5C" stroke="#000" stroke-width="1.35"/>
<circle cx="1192.9" cy="503.6" r="4.55" fill="#ADD8E6" stroke="#000" stroke-width="1.35"/>
<circle cx="1197.4" cy="536.4" r="4.55" fill="#ADD8E6" stroke="#000" stroke-width="1.35"/>
<circle cx="1201.8" cy="552.2" r="4.55" fill="#CD5C5C" stroke="#000" stroke-width="1.35"/>
<circle cx="1206.3" cy="545.6" r="4.55" fill="#CD5C5C" stroke="#000" stroke-width="1.35"/>
<circle cx="1210.8" cy="507.8" r="4.55" fill="#ADD8E6" stroke="#000" stroke-width="1.35"/>
<circle cx="1215.2" cy="548.6" r="4.55" fill="#ADD8E6" stroke="#000" stroke-width="1.35"/>
<circle cx="1219.7" cy="559.4" r="4.55" fill="#CD5C5C" stroke="#000" stroke-width="1.35"/>
<circle cx="1224.2" cy="532.4" r="4.55" fill="#ADD8E6" stroke="#000" stroke-width="1.35"/>
<circle cx="1228.6" cy="567.7" r="4.55" fill="#CD5C5C" stroke="#000" stroke-width="1.35"/>
<circle cx="1233.1" cy="553.6" r="4.55" fill="#ADD8E6" stroke="#000" stroke-width="1.35"/>
<rect x="1313.5" y="442.3" width="333.75" height="26.25" fill="#D9D9D9"/>
<rect x="1313.5" y="468.5" width="333.75" height="110.6" fill="#EBEBEB"/>
<text x="1480.4" y="464.5" font-size="24" text-anchor="middle" fill="#1A1A1A">14</text>
<line x1="1303.5" x2="1313.5" y1="480.1" y2="480.1" stroke="#333333" stroke-width="2"/>
<text x="1295" y="487.8" font-size="20.1" text-anchor="end" fill="#4D4D4D">3.5</text>
<line x1="1303.5" x2="1313.5" y1="510.1" y2="510.1" stroke="#333333" stroke-width="2"/>
<text x="1295" y="517.8" font-size="20.1" text-anchor="end" fill="#4D4D4D">3.0</text>
<line x1="1303.5" x2="1313.5" y1="540" y2="540" stroke="#333333" stroke-width="2"/>
<text x="1295" y="547.7" font-size="20.1" text-anchor="end" fill="#4D4D4D">2.5</text>
<line x1="1303.5" x2="1313.5" y1="569.9" y2="569.9" stroke="#333333" stroke-width="2"/>
<text x="1295" y="577.6" font-size="20.1" text-anchor="end" fill="#4D4D4D">2.0</text>
<line x1="1324.2" x2="1324.2" y1="579.1" y2="589.1" stroke="#333333" stroke-width="2"/>
<text x="1324.2" y="615.3" font-size="24.4" text-anchor="middle" fill="#4D4D4D">0</text>
<line x1="1413.5" x2="1413.5" y1="579.1" y2="589.1" stroke="#333333" stroke-width="2"/>
<text x="1413.5" y="615.3" font-size="24.4" text-anchor="middle" fill="#4D4D4D">20</text>
<line x1="1502.8" x2="1502.8" y1="579.1" y2="589.1" stroke="#333333" stroke-width="2"/>
<text x="1502.8" y="615.3" font-size="24.4" text-anchor="middle" fill="#4D4D4D">40</text>
<line x1="1592.2" x2="1592.2" y1="579.1" y2="589.1" stroke="#333333" stroke-width="2"/>
<text x="1592.2" y="615.3" font-size="24.4" text-anchor="middle" fill="#4D4D4D">60</text>
<polyline fill="none" stroke="#000" stroke-width="1.8" stroke-linejoin="round" points="1328.6,498.6 1333.1,487 1337.6,487 1342,495 1346.5,504.8 1351,483.7 1355.4,480.3 1359.9,508.6 1364.4,475.7 1368.8,511.1 1373.3,474 1377.8,496.6 1382.2,550.6 1386.7,497.5 1391.2,543.3 1395.6,528.6 1400.1,522.4 1404.6,515.8 1409,531.1 1413.5,516.6 1418,487.8 1422.4,496.1 1426.9,510.6 1431.4,518.6 1435.8,528.1 1440.3,490.3 1444.8,510 1449.2,516.6 1453.7,504 1458.2,513.3 1462.6,555.2 1467.1,488.6 1471.6,511.1 1476,532.3 1480.5,523.9 1485,519.8 1489.4,573.6 1493.9,534.9 1498.4,549.8 1502.8,511.1 1507.3,517.5 1511.8,515.3 1516.2,547.8 1520.7,520.3 1525.2,506.1 1529.6,514 1534.1,535.8 1538.6,534.9 1543,496.1 1547.5,529.9 1552,492.8 1556.4,507.5 1560.9,487.3 1565.4,512.8 1569.8,545.8 1574.3,530.6 1578.8,542.8 1583.2,489.1 1587.7,533.6 1592.2,481.7 1596.6,527.8 1601.1,551.1 1605.6,516.6 1610,495 1614.5,506.1 1619,535.6 1623.4,553.6 1627.9,489.8 1632.4,533.9"/>
<circle cx="1328.6" cy="498.6" r="4.55" fill="#CD5C5C" stroke="#000" stroke-width="1.35"/>
<circle cx="1333.1" cy="487" r="4.55" fill="#ADD8E6" stroke="#000" stroke-width="1.35"/>
<circle cx="1337.6" cy="487" r="4.55" fill="#CD5C5C" stroke="#000" stroke-width="1.35"/>
<circle cx="1342" cy="495" r="4.55" fill="#CD5C5C" stroke="#000" stroke-width="1.35"/>
<circle cx="1346.5" cy="504.8" r="4.55" fill="#ADD8E6" stroke="#000" stroke-width="1.35"/>
<circle cx="1351" cy="483.7" r="4.55" fill="#CD5C5C" stroke="#000" stroke-width="1.35"/>
<circle cx="1355.4" cy="480.3" r="4.55" fill="#CD5C5C" stroke="#000" stroke-width="1.35"/>
<circle cx="1359.9" cy="508.6" r="4.55" fill="#ADD8E6" stroke="#000" stroke-width="1.35"/>
<circle cx="1364.4" cy="475.7" r="4.55" fill="#CD5C5C" stroke="#000" stroke-width="1.35"/>
<circle cx="1368.8" cy="511.1" r="4.55" fill="#ADD8E6" stroke="#000" stroke-width="1.35"/>
<circle cx="1373.3" cy="474" r="4.55" fill="#CD5C5C" stroke="#000" stroke-width="1.35"/>
<circle cx="1377.8" cy="496.6" r="4.55" fill="#CD5C5C" stroke="#000" stroke-width="1.35"/>
<circle cx="1382.2" cy="550.6" r="4.55" fill="#ADD8E6" stroke="#000" stroke-width="1.35"/>
<circle cx="1386.7" cy="497.5" r="4.55" fill="#CD5C5C" stroke="#000" stroke-width="1.35"/>
<circle cx="1391.2" cy="543.3" r="4.55" fill="#ADD8E6" stroke="#000" stroke-width="1.35"/>
<circle cx="1395.6" cy="528.6" r="4.55" fill="#ADD8E6" stroke="#000" stroke-width="1.35"/>
<circle cx="1400.1" cy="522.4" r="4.55" fill="#CD5C5C" stroke="#000" stroke-width="1.35"/>
<circle cx="1404.6" cy="515.8" r="4.55" fill="#CD5C5C" stroke="#000" stroke-width="1.35"/>
<circle cx="1409" cy="531.1" r="4.55" fill="#ADD8E6" stroke="#000" stroke-width="1.35"/>
<circle cx="1413.5" cy="516.6" r="4.55" fill="#CD5C5C" stroke="#000" stroke-width="1.35"/>
<circle cx="1418" cy="487.8" r="4.55" fill="#CD5C5C" stroke="#000" stroke-width="1.35"/>
<circle cx="1422.4" cy="496.1" r="4.55" fill="#ADD8E6" stroke="#000" stroke-width="1.35"/>
<circle cx="1426.9" cy="510.6" r="4.55" fill="#CD5C5C" stroke="#000" stroke-width="1.35"/>
<circle cx="1431.4" cy="518.6" r="4.55" fill="#CD5C5C" stroke="#000" stroke-width="1.35"/>
<circle cx="1435.8" cy="528.1" r="4.55" fill="#ADD8E6" stroke="#000" stroke-width="1.35"/>
<circle cx="1440.3" cy="490.3" r="4.55" fill="#CD5C5C" stroke="#000" stroke-width="1.35"/>
<circle cx="1444.8" cy="510" r="4.55" fill="#ADD8E6" stroke="#000" stroke-width="1.35"/>
<circle cx="1449.2" cy="516.6" r="4.55" fill="#CD5C5C" stroke="#000" stroke-width="1.35"/>
<circle cx="1453.7" cy="504" r="4.55" fill="#CD5C5C" stroke="#000" stroke-width="1.35"/>
<circle cx="1458.2" cy="513.3" r="4.55" fill="#ADD8E6" stroke="#000" stroke-width="1.35"/>
<circle cx="1462.6" cy="555.2" r="4.55" fill="#ADD8E6" stroke="#000" stroke-width="1.35"/>
<circle cx="1467.1" cy="488.6" r="4.55" fill="#CD5C5C" stroke="#000" stroke-width="1.35"/>
<circle cx="1471.6" cy="511.1" r="4.55" fill="#ADD8E6" stroke="#000" stroke-width="1.35"/>
<circle cx="1476" cy="532.3" r="4.55" fill="#ADD8E6" stroke="#000" stroke-width="1.35"/>
<circle cx="1480.5" cy="523.9" r="4.55" fill="#CD5C5C" stroke="#000" stroke-width="1.35"/>
<circle cx="1485" cy="519.8" r="4.55" fill="#ADD8E6" stroke="#000" stroke-width="1.35"/>
<circle cx="1489.4" cy="573.6" r="4.55" fill="#CD5C5C" stroke="#000" stroke-width="1.35"/>
<circle cx="1493.9" cy="534.9" r="4.55" fill="#ADD8E6" stroke="#000" stroke-width="1.35"/>
<circle cx="1498.4" cy="549.8" r="4.55" fill="#ADD8E6" stroke="#000" stroke-width="1.35"/>
<circle cx="1502.8" cy="511.1" r="4.55" fill="#CD5C5C" stroke="#000" stroke-width="1.35"/>
<circle cx="1507.3" cy="517.5" r="4.55" fill="#ADD8E6" stroke="#000" stroke-width="1.35"/>
<circle cx="1511.8" cy="515.3" r="4.55" fill="#ADD8E6" stroke="#000" stroke-width="1.35"/>
<circle cx="1516.2" cy="547.8" r="4.55" fill="#CD5C5C" stroke="#000" stroke-width="1.35"/>
<circle cx="1520.7" cy="520.3" r="4.55" fill="#ADD8E6" stroke="#000" stroke-width="1.35"/>
<circle cx="1525.2" cy="506.1" r="4.55" fill="#ADD8E6" stroke="#000" stroke-width="1.35"/>
<circle cx="1529.6" cy="514" r="4.55" fill="#CD5C5C" stroke="#000" stroke-width="1.35"/>
<circle cx="1534.1" cy="535.8" r="4.55" fill="#CD5C5C" stroke="#000" stroke-width="1.35"/>
<circle cx="1538.6" cy="534.9" r="4.55" fill="#ADD8E6" stroke="#000" stroke-width="1.35"/>
<circle cx="1543" cy="496.1" r="4.55" fill="#CD5C5C" stroke="#000" stroke-width="1.35"/>
<circle cx="1547.5" cy="529.9" r="4.55" fill="#ADD8E6" stroke="#000" stroke-width="1.35"/>
<circle cx="1552" cy="492.8" r="4.55" fill="#ADD8E6" stroke="#000" stroke-width="1.35"/>
<circle cx="1556.4" cy="507.5" r="4.55" fill="#CD5C5C" stroke="#000" stroke-width="1.35"/>
<circle cx="1560.9" cy="487.3" r="4.55" fill="#ADD8E6" stroke="#000" stroke-width="1.35"/>
<circle cx="1565.4" cy="512.8" r="4.55" fill="#ADD8E6" stroke="#000" stroke-width="1.35"/>
<circle cx="1569.8" cy="545.8" r="4.55" fill="#CD5C5C" stroke="#000" stroke-width="1.35"/>
<circle cx="1574.3" cy="530.6" r="4.55" fill="#ADD8E6" stroke="#000" stroke-width="1.35"/>
<circle cx="1578.8" cy="542.8" r="4.55" fill="#CD5C5C" stroke="#000" stroke-width="1.35"/>
<circle cx="1583.2" cy="489.1" r="4.55" fill="#ADD8E6" stroke="#000" stroke-width="1.35"/>
<circle cx="1587.7" cy="533.6" r="4.55" fill="#CD5C5C" stroke="#000" stroke-width="1.35"/>
<circle cx="1592.2" cy="481.7" r="4.55" fill="#ADD8E6" stroke="#000" stroke-width="1.35"/>
<circle cx="1596.6" cy="527.8" r="4.55" fill="#ADD8E6" stroke="#000" stroke-width="1.35"/>
<circle cx="1601.1" cy="551.1" r="4.55" fill="#CD5C5C" stroke="#000" stroke-width="1.35"/>
<circle cx="1605.6" cy="516.6" r="4.55" fill="#CD5C5C" stroke="#000" stroke-width="1.35"/>
<circle cx="1610" cy="495" r="4.55" fill="#ADD8E6" stroke="#000" stroke-width="1.35"/>
<circle cx="1614.5" cy="506.1" r="4.55" fill="#ADD8E6" stroke="#000" stroke-width="1.35"/>
<circle cx="1619" cy="535.6" r="4.55" fill="#CD5C5C" stroke="#000" stroke-width="1.35"/>
<circle cx="1623.4" cy="553.6" r="4.55" fill="#ADD8E6" stroke="#000" stroke-width="1.35"/>
<circle cx="1627.9" cy="489.8" r="4.55" fill="#CD5C5C" stroke="#000" stroke-width="1.35"/>
<circle cx="1632.4" cy="533.9" r="4.55" fill="#ADD8E6" stroke="#000" stroke-width="1.35"/>
<rect x="1713.2" y="442.3" width="333.75" height="26.25" fill="#D9D9D9"/>
<rect x="1713.2" y="468.5" width="333.75" height="110.6" fill="#EBEBEB"/>
<text x="1880.1" y="464.5" font-size="24" text-anchor="middle" fill="#1A1A1A">15</text>
<line x1="1703.2" x2="1713.2" y1="474.6" y2="474.6" stroke="#333333" stroke-width="2"/>
<text x="1694.8" y="482.2" font-size="20.1" text-anchor="end" fill="#4D4D4D">4.5</text>
<line x1="1703.2" x2="1713.2" y1="500.6" y2="500.6" stroke="#333333" stroke-width="2"/>
<text x="1694.8" y="508.3" font-size="20.1" text-anchor="end" fill="#4D4D4D">4.0</text>
<line x1="1703.2" x2="1713.2" y1="526.6" y2="526.6" stroke="#333333" stroke-width="2"/>
<text x="1694.8" y="534.3" font-size="20.1" text-anchor="end" fill="#4D4D4D">3.5</text>
<line x1="1703.2" x2="1713.2" y1="552.6" y2="552.6" stroke="#333333" stroke-width="2"/>
<text x="1694.8" y="560.4" font-size="20.1" text-anchor="end" fill="#4D4D4D">3.0</text>
<line x1="1703.2" x2="1713.2" y1="578.6" y2="578.6" stroke="#333333" stroke-width="2"/>
<text x="1694.8" y="586.4" font-size="20.1" text-anchor="end" fill="#4D4D4D">2.5</text>
<line x1="1723.9" x2="1723.9" y1="579.1" y2="589.1" stroke="#333333" stroke-width="2"/>
<text x="1723.9" y="615.3" font-size="24.4" text-anchor="middle" fill="#4D4D4D">0</text>
<line x1="1813.2" x2="1813.2" y1="579.1" y2="589.1" stroke="#333333" stroke-width="2"/>
<text x="1813.2" y="615.3" font-size="24.4" text-anchor="middle" fill="#4D4D4D">20</text>
<line x1="1902.6" x2="1902.6" y1="579.1" y2="589.1" stroke="#333333" stroke-width="2"/>
<text x="1902.6" y="615.3" font-size="24.4" text-anchor="middle" fill="#4D4D4D">40</text>
<line x1="1991.9" x2="1991.9" y1="579.1" y2="589.1" stroke="#333333" stroke-width="2"/>
<text x="1991.9" y="615.3" font-size="24.4" text-anchor="middle" fill="#4D4D4D">60</text>
<polyline fill="none" stroke="#000" stroke-width="1.8" stroke-linejoin="round" points="1728.4,496.5 1732.8,508.3 1737.3,517 1741.8,476.5 1746.2,473.7 1750.7,521.6 1755.2,478.7 1759.6,500.8 1764.1,500 1768.6,515.3 1773,521.6 1777.5,525.3 1782,537.4 1786.4,498.1 1790.9,548.1 1795.4,532.4 1799.8,510.3 1804.3,533.1 1808.8,539.8 1813.2,520.6 1817.7,524.1 1822.2,543.3 1826.6,530.6 1831.1,545.3 1835.6,561.4 1840,528.6 1844.5,561.9 1849,533.1 1853.4,543.1 1857.9,564.9 1862.4,554.7 1866.8,545.8 1871.3,531.6 1875.8,561.6 1880.2,556.1 1884.7,533.6 1889.2,548.6 1893.6,558.2 1898.1,559.1 1902.6,560.2 1907,570.2 1911.5,534.1 1916,551.1 1920.4,554.1 1924.9,529.9 1929.4,557.7 1933.8,566.9 1938.3,570.7 1942.8,566.9 1947.2,546.6 1951.7,530.3 1956.2,562.4 1960.6,553.2 1965.1,566.9 1969.6,566.6 1974,566.6 1978.5,558.9 1983,522.8 1987.4,568.6 1991.9,559.4 1996.4,564.1 2000.8,570.2 2005.3,570.2 2009.8,531.1 2014.2,551.1 2018.7,574.1 2023.2,560.7 2027.6,560.2 2032.1,562.2"/>
<circle cx="1728.4" cy="496.5" r="4.55" fill="#CD5C5C" stroke="#000" stroke-width="1.35"/>
<circle cx="1732.8" cy="508.3" r="4.55" fill="#ADD8E6" stroke="#000" stroke-width="1.35"/>
<circle cx="1737.3" cy="517" r="4.55" fill="#CD5C5C" stroke="#000" stroke-width="1.35"/>
<circle cx="1741.8" cy="476.5" r="4.55" fill="#CD5C5C" stroke="#000" stroke-width="1.35"/>
<circle cx="1746.2" cy="473.7" r="4.55" fill="#ADD8E6" stroke="#000" stroke-width="1.35"/>
<circle cx="1750.7" cy="521.6" r="4.55" fill="#CD5C5C" stroke="#000" stroke-width="1.35"/>
<circle cx="1755.2" cy="478.7" r="4.55" fill="#CD5C5C" stroke="#000" stroke-width="1.35"/>
<circle cx="1759.6" cy="500.8" r="4.55" fill="#ADD8E6" stroke="#000" stroke-width="1.35"/>
<circle cx="1764.1" cy="500" r="4.55" fill="#CD5C5C" stroke="#000" stroke-width="1.35"/>
<circle cx="1768.6" cy="515.3" r="4.55" fill="#ADD8E6" stroke="#000" stroke-width="1.35"/>
<circle cx="1773" cy="521.6" r="4.55" fill="#CD5C5C" stroke="#000" stroke-width="1.35"/>
<circle cx="1777.5" cy="525.3" r="4.55" fill="#CD5C5C" stroke="#000" stroke-width="1.35"/>
<circle cx="1782" cy="537.4" r="4.55" fill="#ADD8E6" stroke="#000" stroke-width="1.35"/>
<circle cx="1786.4" cy="498.1" r="4.55" fill="#CD5C5C" stroke="#000" stroke-width="1.35"/>
<circle cx="1790.9" cy="548.1" r="4.55" fill="#ADD8E6" stroke="#000" stroke-width="1.35"/>
<circle cx="1795.4" cy="532.4" r="4.55" fill="#ADD8E6" stroke="#000" stroke-width="1.35"/>
<circle cx="1799.8" cy="510.3" r="4.55" fill="#CD5C5C" stroke="#000" stroke-width="1.35"/>
<circle cx="1804.3" cy="533.1" r="4.55" fill="#CD5C5C" stroke="#000" stroke-width="1.35"/>
<circle cx="1808.8" cy="539.8" r="4.55" fill="#ADD8E6" stroke="#000" stroke-width="1.35"/>
<circle cx="1813.2" cy="520.6" r="4.55" fill="#CD5C5C" stroke="#000" stroke-width="1.35"/>
<circle cx="1817.7" cy="524.1" r="4.55" fill="#CD5C5C" stroke="#000" stroke-width="1.35"/>
<circle cx="1822.2" cy="543.3" r="4.55" fill="#ADD8E6" stroke="#000" stroke-width="1.35"/>
<circle cx="1826.6" cy="530.6" r="4.55" fill="#CD5C5C" stroke="#000" stroke-width="1.35"/>
<circle cx="1831.1" cy="545.3" r="4.55" fill="#CD5C5C" stroke="#000" stroke-width="1.35"/>
<circle cx="1835.6" cy="561.4" r="4.55" fill="#ADD8E6" stroke="#000" stroke-width="1.35"/>
<circle cx="1840" cy="528.6" r="4.55" fill="#CD5C5C" stroke="#000" stroke-width="1.35"/>
<circle cx="1844.5" cy="561.9" r="4.55" fill="#ADD8E6" stroke="#000" stroke-width="1.35"/>
<circle cx="1849" cy="533.1" r="4.55" fill="#CD5C5C" stroke="#000" stroke-width="1.35"/>
<circle cx="1853.4" cy="543.1" r="4.55" fill="#CD5C5C" stroke="#000" stroke-width="1.35"/>
<circle cx="1857.9" cy="564.9" r="4.55" fill="#ADD8E6" stroke="#000" stroke-width="1.35"/>
<circle cx="1862.4" cy="554.7" r="4.55" fill="#ADD8E6" stroke="#000" stroke-width="1.35"/>
<circle cx="1866.8" cy="545.8" r="4.55" fill="#CD5C5C" stroke="#000" stroke-width="1.35"/>
<circle cx="1871.3" cy="531.6" r="4.55" fill="#ADD8E6" stroke="#000" stroke-width="1.35"/>
<circle cx="1875.8" cy="561.6" r="4.55" fill="#ADD8E6" stroke="#000" stroke-width="1.35"/>
<circle cx="1880.2" cy="556.1" r="4.55" fill="#CD5C5C" stroke="#000" stroke-width="1.35"/>
<circle cx="1884.7" cy="533.6" r="4.55" fill="#ADD8E6" stroke="#000" stroke-width="1.35"/>
<circle cx="1889.2" cy="548.6" r="4.55" fill="#CD5C5C" stroke="#000" stroke-width="1.35"/>
<circle cx="1893.6" cy="558.2" r="4.55" fill="#ADD8E6" stroke="#000" stroke-width="1.35"/>
<circle cx="1898.1" cy="559.1" r="4.55" fill="#ADD8E6" stroke="#000" stroke-width="1.35"/>
<circle cx="1902.6" cy="560.2" r="4.55" fill="#CD5C5C" stroke="#000" stroke-width="1.35"/>
<circle cx="1907" cy="570.2" r="4.55" fill="#ADD8E6" stroke="#000" stroke-width="1.35"/>
<circle cx="1911.5" cy="534.1" r="4.55" fill="#ADD8E6" stroke="#000" stroke-width="1.35"/>
<circle cx="1916" cy="551.1" r="4.55" fill="#CD5C5C" stroke="#000" stroke-width="1.35"/>
<circle cx="1920.4" cy="554.1" r="4.55" fill="#ADD8E6" stroke="#000" stroke-width="1.35"/>
<circle cx="1924.9" cy="529.9" r="4.55" fill="#ADD8E6" stroke="#000" stroke-width="1.35"/>
<circle cx="1929.4" cy="557.7" r="4.55" fill="#CD5C5C" stroke="#000" stroke-width="1.35"/>
<circle cx="1933.8" cy="566.9" r="4.55" fill="#CD5C5C" stroke="#000" stroke-width="1.35"/>
<circle cx="1938.3" cy="570.7" r="4.55" fill="#ADD8E6" stroke="#000" stroke-width="1.35"/>
<circle cx="1942.8" cy="566.9" r="4.55" fill="#CD5C5C" stroke="#000" stroke-width="1.35"/>
<circle cx="1947.2" cy="546.6" r="4.55" fill="#ADD8E6" stroke="#000" stroke-width="1.35"/>
<circle cx="1951.7" cy="530.3" r="4.55" fill="#ADD8E6" stroke="#000" stroke-width="1.35"/>
<circle cx="1956.2" cy="562.4" r="4.55" fill="#CD5C5C" stroke="#000" stroke-width="1.35"/>
<circle cx="1960.6" cy="553.2" r="4.55" fill="#ADD8E6" stroke="#000" stroke-width="1.35"/>
<circle cx="1965.1" cy="566.9" r="4.55" fill="#ADD8E6" stroke="#000" stroke-width="1.35"/>
<circle cx="1969.6" cy="566.6" r="4.55" fill="#CD5C5C" stroke="#000" stroke-width="1.35"/>
<circle cx="1974" cy="566.6" r="4.55" fill="#ADD8E6" stroke="#000" stroke-width="1.35"/>
<circle cx="1978.5" cy="558.9" r="4.55" fill="#CD5C5C" stroke="#000" stroke-width="1.35"/>
<circle cx="1983" cy="522.8" r="4.55" fill="#ADD8E6" stroke="#000" stroke-width="1.35"/>
<circle cx="1987.4" cy="568.6" r="4.55" fill="#CD5C5C" stroke="#000" stroke-width="1.35"/>
<circle cx="1991.9" cy="559.4" r="4.55" fill="#ADD8E6" stroke="#000" stroke-width="1.35"/>
<circle cx="1996.4" cy="564.1" r="4.55" fill="#ADD8E6" stroke="#000" stroke-width="1.35"/>
<circle cx="2000.8" cy="570.2" r="4.55" fill="#CD5C5C" stroke="#000" stroke-width="1.35"/>
<circle cx="2005.3" cy="570.2" r="4.55" fill="#CD5C5C" stroke="#000" stroke-width="1.35"/>
<circle cx="2009.8" cy="531.1" r="4.55" fill="#ADD8E6" stroke="#000" stroke-width="1.35"/>
<circle cx="2014.2" cy="551.1" r="4.55" fill="#ADD8E6" stroke="#000" stroke-width="1.35"/>
<circle cx="2018.7" cy="574.1" r="4.55" fill="#CD5C5C" stroke="#000" stroke-width="1.35"/>
<circle cx="2023.2" cy="560.7" r="4.55" fill="#ADD8E6" stroke="#000" stroke-width="1.35"/>
<circle cx="2027.6" cy="560.2" r="4.55" fill="#CD5C5C" stroke="#000" stroke-width="1.35"/>
<circle cx="2032.1" cy="562.2" r="4.55" fill="#ADD8E6" stroke="#000" stroke-width="1.35"/>
<rect x="104.2" y="635.6" width="333.75" height="26.25" fill="#D9D9D9"/>
<rect x="104.2" y="661.9" width="333.75" height="110.6" fill="#EBEBEB"/>
<text x="271.1" y="657.8" font-size="24" text-anchor="middle" fill="#1A1A1A">16</text>
<line x1="94.2" x2="104.2" y1="677.4" y2="677.4" stroke="#333333" stroke-width="2"/>
<text x="85.8" y="685.1" font-size="20.1" text-anchor="end" fill="#4D4D4D">5.0</text>
<line x1="94.2" x2="104.2" y1="703.5" y2="703.5" stroke="#333333" stroke-width="2"/>
<text x="85.8" y="711.2" font-size="20.1" text-anchor="end" fill="#4D4D4D">4.5</text>
<line x1="94.2" x2="104.2" y1="729.5" y2="729.5" stroke="#333333" stroke-width="2"/>
<text x="85.8" y="737.2" font-size="20.1" text-anchor="end" fill="#4D4D4D">4.0</text>
<line x1="94.2" x2="104.2" y1="755.5" y2="755.5" stroke="#333333" stroke-width="2"/>
<text x="85.8" y="763.2" font-size="20.1" text-anchor="end" fill="#4D4D4D">3.5</text>
<line x1="114.9" x2="114.9" y1="772.5" y2="782.5" stroke="#333333" stroke-width="2"/>
<text x="114.9" y="808.7" font-size="24.4" text-anchor="middle" fill="#4D4D4D">0</text>
<line x1="204.2" x2="204.2" y1="772.5" y2="782.5" stroke="#333333" stroke-width="2"/>
<text x="204.2" y="808.7" font-size="24.4" text-anchor="middle" fill="#4D4D4D">20</text>
<line x1="293.6" x2="293.6" y1="772.5" y2="782.5" stroke="#333333" stroke-width="2"/>
<text x="293.6" y="808.7" font-size="24.4" text-anchor="middle" fill="#4D4D4D">40</text>
<line x1="382.9" x2="382.9" y1="772.5" y2="782.5" stroke="#333333" stroke-width="2"/>
<text x="382.9" y="808.7" font-size="24.4" text-anchor="middle" fill="#4D4D4D">60</text>
<polyline fill="none" stroke="#000" stroke-width="1.8" stroke-linejoin="round" points="119.4,683.1 123.8,671.5 128.3,710.1 132.8,667.2 137.2,692.6 141.7,702.6 146.2,712.3 150.6,697.3 155.1,676.8 159.6,688.8 164,716.4 168.5,728.4 173,709.3 177.4,705.1 181.9,704 186.4,709.8 190.8,686.8 195.3,693.8 199.8,726.4 204.2,726.3 208.7,698.5 213.2,712.1 217.6,693.1 222.1,704 226.6,725.1 231,705.6 235.5,748.9 240,714.3 244.4,707.3 248.9,714.8 253.4,731.3 257.8,720.9 262.3,702.1 266.8,754.6 271.2,717.1 275.7,732.6 280.2,719.8 284.6,743.9 289.1,728.1 293.6,726.8 298,745.6 302.5,712.9 307,724.3 311.4,735.9 315.9,732.9 320.4,727.9 324.8,723.8 329.3,732.6 333.8,729.3 338.2,748.9 342.7,719.3 347.2,728.4 351.6,702.1 356.1,728.9 360.6,733.4 365,749.7 369.5,743.8 374,745.4 378.4,767.1 382.9,745.6 387.4,743.4 391.8,746.2 396.3,748.1 400.8,741.4 405.2,748.1 409.7,740.4 414.2,742.1 418.6,740.6 423.1,749.2"/>
<circle cx="119.4" cy="683.1" r="4.55" fill="#CD5C5C" stroke="#000" stroke-width="1.35"/>
<circle cx="123.8" cy="671.5" r="4.55" fill="#ADD8E6" stroke="#000" stroke-width="1.35"/>
<circle cx="128.3" cy="710.1" r="4.55" fill="#CD5C5C" stroke="#000" stroke-width="1.35"/>
<circle cx="132.8" cy="667.2" r="4.55" fill="#CD5C5C" stroke="#000" stroke-width="1.35"/>
<circle cx="137.2" cy="692.6" r="4.55" fill="#ADD8E6" stroke="#000" stroke-width="1.35"/>
<circle cx="141.7" cy="702.6" r="4.55" fill="#CD5C5C" stroke="#000" stroke-width="1.35"/>
<circle cx="146.2" cy="712.3" r="4.55" fill="#CD5C5C" stroke="#000" stroke-width="1.35"/>
<circle cx="150.6" cy="697.3" r="4.55" fill="#ADD8E6" stroke="#000" stroke-width="1.35"/>
<circle cx="155.1" cy="676.8" r="4.55" fill="#CD5C5C" stroke="#000" stroke-width="1.35"/>
<circle cx="159.6" cy="688.8" r="4.55" fill="#ADD8E6" stroke="#000" stroke-width="1.35"/>
<circle cx="164" cy="716.4" r="4.55" fill="#CD5C5C" stroke="#000" stroke-width="1.35"/>
<circle cx="168.5" cy="728.4" r="4.55" fill="#CD5C5C" stroke="#000" stroke-width="1.35"/>
<circle cx="173" cy="709.3" r="4.55" fill="#ADD8E6" stroke="#000" stroke-width="1.35"/>
<circle cx="177.4" cy="705.1" r="4.55" fill="#CD5C5C" stroke="#000" stroke-width="1.35"/>
<circle cx="181.9" cy="704" r="4.55" fill="#ADD8E6" stroke="#000" stroke-width="1.35"/>
<circle cx="186.4" cy="709.8" r="4.55" fill="#ADD8E6" stroke="#000" stroke-width="1.35"/>
<circle cx="190.8" cy="686.8" r="4.55" fill="#CD5C5C" stroke="#000" stroke-width="1.35"/>
<circle cx="195.3" cy="693.8" r="4.55" fill="#CD5C5C" stroke="#000" stroke-width="1.35"/>
<circle cx="199.8" cy="726.4" r="4.55" fill="#ADD8E6" stroke="#000" stroke-width="1.35"/>
<circle cx="204.2" cy="726.3" r="4.55" fill="#CD5C5C" stroke="#000" stroke-width="1.35"/>
<circle cx="208.7" cy="698.5" r="4.55" fill="#CD5C5C" stroke="#000" stroke-width="1.35"/>
<circle cx="213.2" cy="712.1" r="4.55" fill="#ADD8E6" stroke="#000" stroke-width="1.35"/>
<circle cx="217.6" cy="693.1" r="4.55" fill="#CD5C5C" stroke="#000" stroke-width="1.35"/>
<circle cx="222.1" cy="704" r="4.55" fill="#CD5C5C" stroke="#000" stroke-width="1.35"/>
<circle cx="226.6" cy="725.1" r="4.55" fill="#ADD8E6" stroke="#000" stroke-width="1.35"/>
<circle cx="231" cy="705.6" r="4.55" fill="#CD5C5C" stroke="#000" stroke-width="1.35"/>
<circle cx="235.5" cy="748.9" r="4.55" fill="#ADD8E6" stroke="#000" stroke-width="1.35"/>
<circle cx="240" cy="714.3" r="4.55" fill="#CD5C5C" stroke="#000" stroke-width="1.35"/>
<circle cx="244.4" cy="707.3" r="4.55" fill="#CD5C5C" stroke="#000" stroke-width="1.35"/>
<circle cx="248.9" cy="714.8" r="4.55" fill="#ADD8E6" stroke="#000" stroke-width="1.35"/>
<circle cx="253.4" cy="731.3" r="4.55" fill="#ADD8E6" stroke="#000" stroke-width="1.35"/>
<circle cx="257.8" cy="720.9" r="4.55" fill="#CD5C5C" stroke="#000" stroke-width="1.35"/>
<circle cx="262.3" cy="702.1" r="4.55" fill="#ADD8E6" stroke="#000" stroke-width="1.35"/>
<circle cx="266.8" cy="754.6" r="4.55" fill="#ADD8E6" stroke="#000" stroke-width="1.35"/>
<circle cx="271.2" cy="717.1" r="4.55" fill="#CD5C5C" stroke="#000" stroke-width="1.35"/>
<circle cx="275.7" cy="732.6" r="4.55" fill="#ADD8E6" stroke="#000" stroke-width="1.35"/>
<circle cx="280.2" cy="719.8" r="4.55" fill="#CD5C5C" stroke="#000" stroke-width="1.35"/>
<circle cx="284.6" cy="743.9" r="4.55" fill="#ADD8E6" stroke="#000" stroke-width="1.35"/>
<circle cx="289.1" cy="728.1" r="4.55" fill="#ADD8E6" stroke="#000" stroke-width="1.35"/>
<circle cx="293.6" cy="726.8" r="4.55" fill="#CD5C5C" stroke="#000" stroke-width="1.35"/>
<circle cx="298" cy="745.6" r="4.55" fill="#ADD8E6" stroke="#000" stroke-width="1.35"/>
<circle cx="302.5" cy="712.9" r="4.55" fill="#ADD8E6" stroke="#000" stroke-width="1.35"/>
<circle cx="307" cy="724.3" r="4.55" fill="#CD5C5C" stroke="#000" stroke-width="1.35"/>
<circle cx="311.4" cy="735.9" r="4.55" fill="#ADD8E6" stroke="#000" stroke-width="1.35"/>
<circle cx="315.9" cy="732.9" r="4.55" fill="#ADD8E6" stroke="#000" stroke-width="1.35"/>
<circle cx="320.4" cy="727.9" r="4.55" fill="#CD5C5C" stroke="#000" stroke-width="1.35"/>
<circle cx="324.8" cy="723.8" r="4.55" fill="#CD5C5C" stroke="#000" stroke-width="1.35"/>
<circle cx="329.3" cy="732.6" r="4.55" fill="#ADD8E6" stroke="#000" stroke-width="1.35"/>
<circle cx="333.8" cy="729.3" r="4.55" fill="#CD5C5C" stroke="#000" stroke-width="1.35"/>
<circle cx="338.2" cy="748.9" r="4.55" fill="#ADD8E6" stroke="#000" stroke-width="1.35"/>
<circle cx="342.7" cy="719.3" r="4.55" fill="#ADD8E6" stroke="#000" stroke-width="1.35"/>
<circle cx="347.2" cy="728.4" r="4.55" fill="#CD5C5C" stroke="#000" stroke-width="1.35"/>
<circle cx="351.6" cy="702.1" r="4.55" fill="#ADD8E6" stroke="#000" stroke-width="1.35"/>
<circle cx="356.1" cy="728.9" r="4.55" fill="#ADD8E6" stroke="#000" stroke-width="1.35"/>
<circle cx="360.6" cy="733.4" r="4.55" fill="#CD5C5C" stroke="#000" stroke-width="1.35"/>
<circle cx="365" cy="749.7" r="4.55" fill="#ADD8E6" stroke="#000" stroke-width="1.35"/>
<circle cx="369.5" cy="743.8" r="4.55" fill="#CD5C5C" stroke="#000" stroke-width="1.35"/>
<circle cx="374" cy="745.4" r="4.55" fill="#ADD8E6" stroke="#000" stroke-width="1.35"/>
<circle cx="378.4" cy="767.1" r="4.55" fill="#CD5C5C" stroke="#000" stroke-width="1.35"/>
<circle cx="382.9" cy="745.6" r="4.55" fill="#ADD8E6" stroke="#000" stroke-width="1.35"/>
<circle cx="387.4" cy="743.4" r="4.55" fill="#ADD8E6" stroke="#000" stroke-width="1.35"/>
<circle cx="391.8" cy="746.2" r="4.55" fill="#CD5C5C" stroke="#000" stroke-width="1.35"/>
<circle cx="396.3" cy="748.1" r="4.55" fill="#CD5C5C" stroke="#000" stroke-width="1.35"/>
<circle cx="400.8" cy="741.4" r="4.55" fill="#ADD8E6" stroke="#000" stroke-width="1.35"/>
<circle cx="405.2" cy="748.1" r="4.55" fill="#ADD8E6" stroke="#000" stroke-width="1.35"/>
<circle cx="409.7" cy="740.4" r="4.55" fill="#CD5C5C" stroke="#000" stroke-width="1.35"/>
<circle cx="414.2" cy="742.1" r="4.55" fill="#ADD8E6" stroke="#000" stroke-width="1.35"/>
<circle cx="418.6" cy="740.6" r="4.55" fill="#CD5C5C" stroke="#000" stroke-width="1.35"/>
<circle cx="423.1" cy="749.2" r="4.55" fill="#ADD8E6" stroke="#000" stroke-width="1.35"/>
<rect x="514.5" y="635.6" width="333.75" height="26.25" fill="#D9D9D9"/>
<rect x="514.5" y="661.9" width="333.75" height="110.6" fill="#EBEBEB"/>
<text x="681.4" y="657.8" font-size="24" text-anchor="middle" fill="#1A1A1A">17</text>
<line x1="504.5" x2="514.5" y1="667" y2="667" stroke="#333333" stroke-width="2"/>
<text x="496" y="674.7" font-size="20.1" text-anchor="end" fill="#4D4D4D">5.0</text>
<line x1="504.5" x2="514.5" y1="688.5" y2="688.5" stroke="#333333" stroke-width="2"/>
<text x="496" y="696.2" font-size="20.1" text-anchor="end" fill="#4D4D4D">4.5</text>
<line x1="504.5" x2="514.5" y1="710" y2="710" stroke="#333333" stroke-width="2"/>
<text x="496" y="717.7" font-size="20.1" text-anchor="end" fill="#4D4D4D">4.0</text>
<line x1="504.5" x2="514.5" y1="731.5" y2="731.5" stroke="#333333" stroke-width="2"/>
<text x="496" y="739.2" font-size="20.1" text-anchor="end" fill="#4D4D4D">3.5</text>
<line x1="504.5" x2="514.5" y1="753" y2="753" stroke="#333333" stroke-width="2"/>
<text x="496" y="760.7" font-size="20.1" text-anchor="end" fill="#4D4D4D">3.0</text>
<line x1="525.1" x2="525.1" y1="772.5" y2="782.5" stroke="#333333" stroke-width="2"/>
<text x="525.1" y="808.7" font-size="24.4" text-anchor="middle" fill="#4D4D4D">0</text>
<line x1="614.5" x2="614.5" y1="772.5" y2="782.5" stroke="#333333" stroke-width="2"/>
<text x="614.5" y="808.7" font-size="24.4" text-anchor="middle" fill="#4D4D4D">20</text>
<line x1="703.8" x2="703.8" y1="772.5" y2="782.5" stroke="#333333" stroke-width="2"/>
<text x="703.8" y="808.7" font-size="24.4" text-anchor="middle" fill="#4D4D4D">40</text>
<line x1="793.2" x2="793.2" y1="772.5" y2="782.5" stroke="#333333" stroke-width="2"/>
<text x="793.2" y="808.7" font-size="24.4" text-anchor="middle" fill="#4D4D4D">60</text>
<polyline fill="none" stroke="#000" stroke-width="1.8" stroke-linejoin="round" points="529.6,677.2 534.1,667.3 538.6,706 543,689.3 547.5,704.3 552,723.9 556.4,693.8 560.9,717.6 565.4,698.5 569.8,730.1 574.3,705.6 578.8,707.3 583.2,727.1 587.7,706.8 592.2,732.6 596.6,741.4 601.1,708.5 605.6,720.1 610,745.9 614.5,711.5 619,701.3 623.4,747.9 627.9,718.1 632.4,718.4 636.8,746.4 641.3,717.9 645.8,751.4 650.2,731.8 654.7,731.3 659.2,755.1 663.6,750.4 668.1,746.2 672.6,728.8 677,749.2 681.5,737.1 686,717.1 690.4,742.3 694.9,743.4 699.4,747.6 703.8,740.1 708.3,755.9 712.8,716.8 717.2,752.2 721.7,741.4 726.2,723.9 730.6,748.1 735.1,750.9 739.6,737.1 744,750.4 748.5,743.9 753,722.6 757.4,747.6 761.9,740.6 766.4,747.6 770.8,766.4 775.3,751.7 779.8,765.9 784.2,717.1 788.7,767.1 793.2,747.2 797.6,747.6 802.1,755.9 806.6,755.9 811,725.6 815.5,748.9 820,758.9 824.4,757.1 828.9,750.1 833.4,742.6"/>
<circle cx="529.6" cy="677.2" r="4.55" fill="#CD5C5C" stroke="#000" stroke-width="1.35"/>
<circle cx="534.1" cy="667.3" r="4.55" fill="#ADD8E6" stroke="#000" stroke-width="1.35"/>
<circle cx="538.6" cy="706" r="4.55" fill="#CD5C5C" stroke="#000" stroke-width="1.35"/>
<circle cx="543" cy="689.3" r="4.55" fill="#CD5C5C" stroke="#000" stroke-width="1.35"/>
<circle cx="547.5" cy="704.3" r="4.55" fill="#ADD8E6" stroke="#000" stroke-width="1.35"/>
<circle cx="552" cy="723.9" r="4.55" fill="#CD5C5C" stroke="#000" stroke-width="1.35"/>
<circle cx="556.4" cy="693.8" r="4.55" fill="#CD5C5C" stroke="#000" stroke-width="1.35"/>
<circle cx="560.9" cy="717.6" r="4.55" fill="#ADD8E6" stroke="#000" stroke-width="1.35"/>
<circle cx="565.4" cy="698.5" r="4.55" fill="#CD5C5C" stroke="#000" stroke-width="1.35"/>
<circle cx="569.8" cy="730.1" r="4.55" fill="#ADD8E6" stroke="#000" stroke-width="1.35"/>
<circle cx="574.3" cy="705.6" r="4.55" fill="#CD5C5C" stroke="#000" stroke-width="1.35"/>
<circle cx="578.8" cy="707.3" r="4.55" fill="#CD5C5C" stroke="#000" stroke-width="1.35"/>
<circle cx="583.2" cy="727.1" r="4.55" fill="#ADD8E6" stroke="#000" stroke-width="1.35"/>
<circle cx="587.7" cy="706.8" r="4.55" fill="#CD5C5C" stroke="#000" stroke-width="1.35"/>
<circle cx="592.2" cy="732.6" r="4.55" fill="#ADD8E6" stroke="#000" stroke-width="1.35"/>
<circle cx="596.6" cy="741.4" r="4.55" fill="#ADD8E6" stroke="#000" stroke-width="1.35"/>
<circle cx="601.1" cy="708.5" r="4.55" fill="#CD5C5C" stroke="#000" stroke-width="1.35"/>
<circle cx="605.6" cy="720.1" r="4.55" fill="#CD5C5C" stroke="#000" stroke-width="1.35"/>
<circle cx="610" cy="745.9" r="4.55" fill="#ADD8E6" stroke="#000" stroke-width="1.35"/>
<circle cx="614.5" cy="711.5" r="4.55" fill="#CD5C5C" stroke="#000" stroke-width="1.35"/>
<circle cx="619" cy="701.3" r="4.55" fill="#CD5C5C" stroke="#000" stroke-width="1.35"/>
<circle cx="623.4" cy="747.9" r="4.55" fill="#ADD8E6" stroke="#000" stroke-width="1.35"/>
<circle cx="627.9" cy="718.1" r="4.55" fill="#CD5C5C" stroke="#000" stroke-width="1.35"/>
<circle cx="632.4" cy="718.4" r="4.55" fill="#CD5C5C" stroke="#000" stroke-width="1.35"/>
<circle cx="636.8" cy="746.4" r="4.55" fill="#ADD8E6" stroke="#000" stroke-width="1.35"/>
<circle cx="641.3" cy="717.9" r="4.55" fill="#CD5C5C" stroke="#000" stroke-width="1.35"/>
<circle cx="645.8" cy="751.4" r="4.55" fill="#ADD8E6" stroke="#000" stroke-width="1.35"/>
<circle cx="650.2" cy="731.8" r="4.55" fill="#CD5C5C" stroke="#000" stroke-width="1.35"/>
<circle cx="654.7" cy="731.3" r="4.55" fill="#CD5C5C" stroke="#000" stroke-width="1.35"/>
<circle cx="659.2" cy="755.1" r="4.55" fill="#ADD8E6" stroke="#000" stroke-width="1.35"/>
<circle cx="663.6" cy="750.4" r="4.55" fill="#ADD8E6" stroke="#000" stroke-width="1.35"/>
<circle cx="668.1" cy="746.2" r="4.55" fill="#CD5C5C" stroke="#000" stroke-width="1.35"/>
<circle cx="672.6" cy="728.8" r="4.55" fill="#ADD8E6" stroke="#000" stroke-width="1.35"/>
<circle cx="677" cy="749.2" r="4.55" fill="#ADD8E6" stroke="#000" stroke-width="1.35"/>
<circle cx="681.5" cy="737.1" r="4.55" fill="#CD5C5C" stroke="#000" stroke-width="1.35"/>
<circle cx="686" cy="717.1" r="4.55" fill="#ADD8E6" stroke="#000" stroke-width="1.35"/>
<circle cx="690.4" cy="742.3" r="4.55" fill="#CD5C5C" stroke="#000" stroke-width="1.35"/>
<circle cx="694.9" cy="743.4" r="4.55" fill="#ADD8E6" stroke="#000" stroke-width="1.35"/>
<circle cx="699.4" cy="747.6" r="4.55" fill="#ADD8E6" stroke="#000" stroke-width="1.35"/>
<circle cx="703.8" cy="740.1" r="4.55" fill="#CD5C5C" stroke="#000" stroke-width="1.35"/>
<circle cx="708.3" cy="755.9" r="4.55" fill="#ADD8E6" stroke="#000" stroke-width="1.35"/>
<circle cx="712.8" cy="716.8" r="4.55" fill="#ADD8E6" stroke="#000" stroke-width="1.35"/>
<circle cx="717.2" cy="752.2" r="4.55" fill="#CD5C5C" stroke="#000" stroke-width="1.35"/>
<circle cx="721.7" cy="741.4" r="4.55" fill="#ADD8E6" stroke="#000" stroke-width="1.35"/>
<circle cx="726.2" cy="723.9" r="4.55" fill="#ADD8E6" stroke="#000" stroke-width="1.35"/>
<circle cx="730.6" cy="748.1" r="4.55" fill="#CD5C5C" stroke="#000" stroke-width="1.35"/>
<circle cx="735.1" cy="750.9" r="4.55" fill="#CD5C5C" stroke="#000" stroke-width="1.35"/>
<circle cx="739.6" cy="737.1" r="4.55" fill="#ADD8E6" stroke="#000" stroke-width="1.35"/>
<circle cx="744" cy="750.4" r="4.55" fill="#CD5C5C" stroke="#000" stroke-width="1.35"/>
<circle cx="748.5" cy="743.9" r="4.55" fill="#ADD8E6" stroke="#000" stroke-width="1.35"/>
<circle cx="753" cy="722.6" r="4.55" fill="#ADD8E6" stroke="#000" stroke-width="1.35"/>
<circle cx="757.4" cy="747.6" r="4.55" fill="#CD5C5C" stroke="#000" stroke-width="1.35"/>
<circle cx="761.9" cy="740.6" r="4.55" fill="#ADD8E6" stroke="#000" stroke-width="1.35"/>
<circle cx="766.4" cy="747.6" r="4.55" fill="#ADD8E6" stroke="#000" stroke-width="1.35"/>
<circle cx="770.8" cy="766.4" r="4.55" fill="#CD5C5C" stroke="#000" stroke-width="1.35"/>
<circle cx="775.3" cy="751.7" r="4.55" fill="#ADD8E6" stroke="#000" stroke-width="1.35"/>
<circle cx="779.8" cy="765.9" r="4.55" fill="#CD5C5C" stroke="#000" stroke-width="1.35"/>
<circle cx="784.2" cy="717.1" r="4.55" fill="#ADD8E6" stroke="#000" stroke-width="1.35"/>
<circle cx="788.7" cy="767.1" r="4.55" fill="#CD5C5C" stroke="#000" stroke-width="1.35"/>
<circle cx="793.2" cy="747.2" r="4.55" fill="#ADD8E6" stroke="#000" stroke-width="1.35"/>
<circle cx="797.6" cy="747.6" r="4.55" fill="#ADD8E6" stroke="#000" stroke-width="1.35"/>
<circle cx="802.1" cy="755.9" r="4.55" fill="#CD5C5C" stroke="#000" stroke-width="1.35"/>
<circle cx="806.6" cy="755.9" r="4.55" fill="#CD5C5C" stroke="#000" stroke-width="1.35"/>
<circle cx="811" cy="725.6" r="4.55" fill="#ADD8E6" stroke="#000" stroke-width="1.35"/>
<circle cx="815.5" cy="748.9" r="4.55" fill="#ADD8E6" stroke="#000" stroke-width="1.35"/>
<circle cx="820" cy="758.9" r="4.55" fill="#CD5C5C" stroke="#000" stroke-width="1.35"/>
<circle cx="824.4" cy="757.1" r="4.55" fill="#ADD8E6" stroke="#000" stroke-width="1.35"/>
<circle cx="828.9" cy="750.1" r="4.55" fill="#CD5C5C" stroke="#000" stroke-width="1.35"/>
<circle cx="833.4" cy="742.6" r="4.55" fill="#ADD8E6" stroke="#000" stroke-width="1.35"/>
<rect x="914.2" y="635.6" width="333.75" height="26.25" fill="#D9D9D9"/>
<rect x="914.2" y="661.9" width="333.75" height="110.6" fill="#EBEBEB"/>
<text x="1081.1" y="657.8" font-size="24" text-anchor="middle" fill="#1A1A1A">18</text>
<line x1="904.2" x2="914.2" y1="679.5" y2="679.5" stroke="#333333" stroke-width="2"/>
<text x="895.8" y="687.2" font-size="20.1" text-anchor="end" fill="#4D4D4D">4.0</text>
<line x1="904.2" x2="914.2" y1="713.6" y2="713.6" stroke="#333333" stroke-width="2"/>
<text x="895.8" y="721.4" font-size="20.1" text-anchor="end" fill="#4D4D4D">3.5</text>
<line x1="904.2" x2="914.2" y1="747.8" y2="747.8" stroke="#333333" stroke-width="2"/>
<text x="895.8" y="755.5" font-size="20.1" text-anchor="end" fill="#4D4D4D">3.0</text>
<line x1="924.9" x2="924.9" y1="772.5" y2="782.5" stroke="#333333" stroke-width="2"/>
<text x="924.9" y="808.7" font-size="24.4" text-anchor="middle" fill="#4D4D4D">0</text>
<line x1="1014.2" x2="1014.2" y1="772.5" y2="782.5" stroke="#333333" stroke-width="2"/>
<text x="1014.2" y="808.7" font-size="24.4" text-anchor="middle" fill="#4D4D4D">20</text>
<line x1="1103.6" x2="1103.6" y1="772.5" y2="782.5" stroke="#333333" stroke-width="2"/>
<text x="1103.6" y="808.7" font-size="24.4" text-anchor="middle" fill="#4D4D4D">40</text>
<line x1="1192.9" x2="1192.9" y1="772.5" y2="782.5" stroke="#333333" stroke-width="2"/>
<text x="1192.9" y="808.7" font-size="24.4" text-anchor="middle" fill="#4D4D4D">60</text>
<polyline fill="none" stroke="#000" stroke-width="1.8" stroke-linejoin="round" points="929.4,673.8 933.8,667.3 938.3,717.9 942.8,687.6 947.2,691.5 951.7,724.6 956.2,701.3 960.6,686.8 965.1,677.7 969.6,703.1 974,714.3 978.5,722.9 983,702.1 987.4,686.5 991.9,719.6 996.4,718.8 1000.8,686.8 1005.3,689 1009.8,727.6 1014.2,702.6 1018.7,704.3 1023.2,723.8 1027.6,719.3 1032.1,722.3 1036.6,730.1 1041,712.3 1045.5,733.4 1050,710.5 1054.4,726.3 1058.9,733.1 1063.4,745.1 1067.8,714.6 1072.3,703.5 1076.8,738.8 1081.2,721.8 1085.7,704.8 1090.2,716.8 1094.6,741.4 1099.1,747.1 1103.6,732.6 1108,748.7 1112.5,699.3 1117,732.9 1121.4,752.1 1125.9,689.8 1130.4,742.9 1134.8,736.4 1139.3,745.9 1143.8,749.2 1148.2,751.7 1152.7,702.3 1157.2,735.9 1161.6,736.8 1166.1,754.7 1170.6,739.3 1175,760.1 1179.5,760.1 1184,713.8 1188.4,750.6 1192.9,744.8 1197.4,753.7 1201.8,760.9 1206.3,756.4 1210.8,692.6 1215.2,767.1 1219.7,760.1 1224.2,761.2 1228.6,750.9 1233.1,764.6"/>
<circle cx="929.4" cy="673.8" r="4.55" fill="#CD5C5C" stroke="#000" stroke-width="1.35"/>
<circle cx="933.8" cy="667.3" r="4.55" fill="#ADD8E6" stroke="#000" stroke-width="1.35"/>
<circle cx="938.3" cy="717.9" r="4.55" fill="#CD5C5C" stroke="#000" stroke-width="1.35"/>
<circle cx="942.8" cy="687.6" r="4.55" fill="#CD5C5C" stroke="#000" stroke-width="1.35"/>
<circle cx="947.2" cy="691.5" r="4.55" fill="#ADD8E6" stroke="#000" stroke-width="1.35"/>
<circle cx="951.7" cy="724.6" r="4.55" fill="#CD5C5C" stroke="#000" stroke-width="1.35"/>
<circle cx="956.2" cy="701.3" r="4.55" fill="#CD5C5C" stroke="#000" stroke-width="1.35"/>
<circle cx="960.6" cy="686.8" r="4.55" fill="#ADD8E6" stroke="#000" stroke-width="1.35"/>
<circle cx="965.1" cy="677.7" r="4.55" fill="#CD5C5C" stroke="#000" stroke-width="1.35"/>
<circle cx="969.6" cy="703.1" r="4.55" fill="#ADD8E6" stroke="#000" stroke-width="1.35"/>
<circle cx="974" cy="714.3" r="4.55" fill="#CD5C5C" stroke="#000" stroke-width="1.35"/>
<circle cx="978.5" cy="722.9" r="4.55" fill="#CD5C5C" stroke="#000" stroke-width="1.35"/>
<circle cx="983" cy="702.1" r="4.55" fill="#ADD8E6" stroke="#000" stroke-width="1.35"/>
<circle cx="987.4" cy="686.5" r="4.55" fill="#CD5C5C" stroke="#000" stroke-width="1.35"/>
<circle cx="991.9" cy="719.6" r="4.55" fill="#ADD8E6" stroke="#000" stroke-width="1.35"/>
<circle cx="996.4" cy="718.8" r="4.55" fill="#ADD8E6" stroke="#000" stroke-width="1.35"/>
<circle cx="1000.8" cy="686.8" r="4.55" fill="#CD5C5C" stroke="#000" stroke-width="1.35"/>
<circle cx="1005.3" cy="689" r="4.55" fill="#CD5C5C" stroke="#000" stroke-width="1.35"/>
<circle cx="1009.8" cy="727.6" r="4.55" fill="#ADD8E6" stroke="#000" stroke-width="1.35"/>
<circle cx="1014.2" cy="702.6" r="4.55" fill="#CD5C5C" stroke="#000" stroke-width="1.35"/>
<circle cx="1018.7" cy="704.3" r="4.55" fill="#CD5C5C" stroke="#000" stroke-width="1.35"/>
<circle cx="1023.2" cy="723.8" r="4.55" fill="#ADD8E6" stroke="#000" stroke-width="1.35"/>
<circle cx="1027.6" cy="719.3" r="4.55" fill="#CD5C5C" stroke="#000" stroke-width="1.35"/>
<circle cx="1032.1" cy="722.3" r="4.55" fill="#CD5C5C" stroke="#000" stroke-width="1.35"/>
<circle cx="1036.6" cy="730.1" r="4.55" fill="#ADD8E6" stroke="#000" stroke-width="1.35"/>
<circle cx="1041" cy="712.3" r="4.55" fill="#CD5C5C" stroke="#000" stroke-width="1.35"/>
<circle cx="1045.5" cy="733.4" r="4.55" fill="#ADD8E6" stroke="#000" stroke-width="1.35"/>
<circle cx="1050" cy="710.5" r="4.55" fill="#CD5C5C" stroke="#000" stroke-width="1.35"/>
<circle cx="1054.4" cy="726.3" r="4.55" fill="#CD5C5C" stroke="#000" stroke-width="1.35"/>
<circle cx="1058.9" cy="733.1" r="4.55" fill="#ADD8E6" stroke="#000" stroke-width="1.35"/>
<circle cx="1063.4" cy="745.1" r="4.55" fill="#ADD8E6" stroke="#000" stroke-width="1.35"/>
<circle cx="1067.8" cy="714.6" r="4.55" fill="#CD5C5C" stroke="#000" stroke-width="1.35"/>
<circle cx="1072.3" cy="703.5" r="4.55" fill="#ADD8E6" stroke="#000" stroke-width="1.35"/>
<circle cx="1076.8" cy="738.8" r="4.55" fill="#ADD8E6" stroke="#000" stroke-width="1.35"/>
<circle cx="1081.2" cy="721.8" r="4.55" fill="#CD5C5C" stroke="#000" stroke-width="1.35"/>
<circle cx="1085.7" cy="704.8" r="4.55" fill="#ADD8E6" stroke="#000" stroke-width="1.35"/>
<circle cx="1090.2" cy="716.8" r="4.55" fill="#CD5C5C" stroke="#000" stroke-width="1.35"/>
<circle cx="1094.6" cy="741.4" r="4.55" fill="#ADD8E6" stroke="#000" stroke-width="1.35"/>
<circle cx="1099.1" cy="747.1" r="4.55" fill="#ADD8E6" stroke="#000" stroke-width="1.35"/>
<circle cx="1103.6" cy="732.6" r="4.55" fill="#CD5C5C" stroke="#000" stroke-width="1.35"/>
<circle cx="1108" cy="748.7" r="4.55" fill="#ADD8E6" stroke="#000" stroke-width="1.35"/>
<circle cx="1112.5" cy="699.3" r="4.55" fill="#ADD8E6" stroke="#000" stroke-width="1.35"/>
<circle cx="1117" cy="732.9" r="4.55" fill="#CD5C5C" stroke="#000" stroke-width="1.35"/>
<circle cx="1121.4" cy="752.1" r="4.55" fill="#ADD8E6" stroke="#000" stroke-width="1.35"/>
<circle cx="1125.9" cy="689.8" r="4.55" fill="#ADD8E6" stroke="#000" stroke-width="1.35"/>
<circle cx="1130.4" cy="742.9" r="4.55" fill="#CD5C5C" stroke="#000" stroke-width="1.35"/>
<circle cx="1134.8" cy="736.4" r="4.55" fill="#CD5C5C" stroke="#000" stroke-width="1.35"/>
<circle cx="1139.3" cy="745.9" r="4.55" fill="#ADD8E6" stroke="#000" stroke-width="1.35"/>
<circle cx="1143.8" cy="749.2" r="4.55" fill="#CD5C5C" stroke="#000" stroke-width="1.35"/>
<circle cx="1148.2" cy="751.7" r="4.55" fill="#ADD8E6" stroke="#000" stroke-width="1.35"/>
<circle cx="1152.7" cy="702.3" r="4.55" fill="#ADD8E6" stroke="#000" stroke-width="1.35"/>
<circle cx="1157.2" cy="735.9" r="4.55" fill="#CD5C5C" stroke="#000" stroke-width="1.35"/>
<circle cx="1161.6" cy="736.8" r="4.55" fill="#ADD8E6" stroke="#000" stroke-width="1.35"/>
<circle cx="1166.1" cy="754.7" r="4.55" fill="#ADD8E6" stroke="#000" stroke-width="1.35"/>
<circle cx="1170.6" cy="739.3" r="4.55" fill="#CD5C5C" stroke="#000" stroke-width="1.35"/>
<circle cx="1175" cy="760.1" r="4.55" fill="#ADD8E6" stroke="#000" stroke-width="1.35"/>
<circle cx="1179.5" cy="760.1" r="4.55" fill="#CD5C5C" stroke="#000" stroke-width="1.35"/>
<circle cx="1184" cy="713.8" r="4.55" fill="#ADD8E6" stroke="#000" stroke-width="1.35"/>
<circle cx="1188.4" cy="750.6" r="4.55" fill="#CD5C5C" stroke="#000" stroke-width="1.35"/>
<circle cx="1192.9" cy="744.8" r="4.55" fill="#ADD8E6" stroke="#000" stroke-width="1.35"/>
<circle cx="1197.4" cy="753.7" r="4.55" fill="#ADD8E6" stroke="#000" stroke-width="1.35"/>
<circle cx="1201.8" cy="760.9" r="4.55" fill="#CD5C5C" stroke="#000" stroke-width="1.35"/>
<circle cx="1206.3" cy="756.4" r="4.55" fill="#CD5C5C" stroke="#000" stroke-width="1.35"/>
<circle cx="1210.8" cy="692.6" r="4.55" fill="#ADD8E6" stroke="#000" stroke-width="1.35"/>
<circle cx="1215.2" cy="767.1" r="4.55" fill="#ADD8E6" stroke="#000" stroke-width="1.35"/>
<circle cx="1219.7" cy="760.1" r="4.55" fill="#CD5C5C" stroke="#000" stroke-width="1.35"/>
<circle cx="1224.2" cy="761.2" r="4.55" fill="#ADD8E6" stroke="#000" stroke-width="1.35"/>
<circle cx="1228.6" cy="750.9" r="4.55" fill="#CD5C5C" stroke="#000" stroke-width="1.35"/>
<circle cx="1233.1" cy="764.6" r="4.55" fill="#ADD8E6" stroke="#000" stroke-width="1.35"/>
<rect x="1313.5" y="635.6" width="333.75" height="26.25" fill="#D9D9D9"/>
<rect x="1313.5" y="661.9" width="333.75" height="110.6" fill="#EBEBEB"/>
<text x="1480.4" y="657.8" font-size="24" text-anchor="middle" fill="#1A1A1A">19</text>
<line x1="1303.5" x2="1313.5" y1="686.4" y2="686.4" stroke="#333333" stroke-width="2"/>
<text x="1295" y="694.1" font-size="20.1" text-anchor="end" fill="#4D4D4D">4.0</text>
<line x1="1303.5" x2="1313.5" y1="718.2" y2="718.2" stroke="#333333" stroke-width="2"/>
<text x="1295" y="726" font-size="20.1" text-anchor="end" fill="#4D4D4D">3.5</text>
<line x1="1303.5" x2="1313.5" y1="750.1" y2="750.1" stroke="#333333" stroke-width="2"/>
<text x="1295" y="757.9" font-size="20.1" text-anchor="end" fill="#4D4D4D">3.0</text>
<line x1="1324.2" x2="1324.2" y1="772.5" y2="782.5" stroke="#333333" stroke-width="2"/>
<text x="1324.2" y="808.7" font-size="24.4" text-anchor="middle" fill="#4D4D4D">0</text>
<line x1="1413.5" x2="1413.5" y1="772.5" y2="782.5" stroke="#333333" stroke-width="2"/>
<text x="1413.5" y="808.7" font-size="24.4" text-anchor="middle" fill="#4D4D4D">20</text>
<line x1="1502.8" x2="1502.8" y1="772.5" y2="782.5" stroke="#333333" stroke-width="2"/>
<text x="1502.8" y="808.7" font-size="24.4" text-anchor="middle" fill="#4D4D4D">40</text>
<line x1="1592.2" x2="1592.2" y1="772.5" y2="782.5" stroke="#333333" stroke-width="2"/>
<text x="1592.2" y="808.7" font-size="24.4" text-anchor="middle" fill="#4D4D4D">60</text>
<polyline fill="none" stroke="#000" stroke-width="1.8" stroke-linejoin="round" points="1328.6,700.5 1333.1,711.5 1337.6,681 1342,670.7 1346.5,667.7 1351,676 1355.4,688.1 1359.9,681.5 1364.4,673 1368.8,703 1373.3,704.8 1377.8,669.3 1382.2,697.6 1386.7,699 1391.2,694.8 1395.6,717.6 1400.1,676.3 1404.6,710.5 1409,720.9 1413.5,703.5 1418,680.5 1422.4,729.3 1426.9,709.8 1431.4,693.5 1435.8,727.1 1440.3,689.8 1444.8,709.6 1449.2,700.6 1453.7,730.4 1458.2,709.3 1462.6,726.4 1467.1,716.4 1471.6,693.5 1476,735.1 1480.5,734.8 1485,699.6 1489.4,728.1 1493.9,724.8 1498.4,725.4 1502.8,736.8 1507.3,730.9 1511.8,719.3 1516.2,738.1 1520.7,725.6 1525.2,720.1 1529.6,730.9 1534.1,739.3 1538.6,727.1 1543,730.1 1547.5,727.1 1552,701.5 1556.4,767.1 1560.9,717.6 1565.4,728.4 1569.8,732.1 1574.3,747.6 1578.8,735.4 1583.2,713.1 1587.7,747.1 1592.2,714.8 1596.6,731.8 1601.1,738.8 1605.6,738.8 1610,701 1614.5,727.3 1619,743.1 1623.4,763.7 1627.9,758.9 1632.4,735.1"/>
<circle cx="1328.6" cy="700.5" r="4.55" fill="#CD5C5C" stroke="#000" stroke-width="1.35"/>
<circle cx="1333.1" cy="711.5" r="4.55" fill="#ADD8E6" stroke="#000" stroke-width="1.35"/>
<circle cx="1337.6" cy="681" r="4.55" fill="#CD5C5C" stroke="#000" stroke-width="1.35"/>
<circle cx="1342" cy="670.7" r="4.55" fill="#CD5C5C" stroke="#000" stroke-width="1.35"/>
<circle cx="1346.5" cy="667.7" r="4.55" fill="#ADD8E6" stroke="#000" stroke-width="1.35"/>
<circle cx="1351" cy="676" r="4.55" fill="#CD5C5C" stroke="#000" stroke-width="1.35"/>
<circle cx="1355.4" cy="688.1" r="4.55" fill="#CD5C5C" stroke="#000" stroke-width="1.35"/>
<circle cx="1359.9" cy="681.5" r="4.55" fill="#ADD8E6" stroke="#000" stroke-width="1.35"/>
<circle cx="1364.4" cy="673" r="4.55" fill="#CD5C5C" stroke="#000" stroke-width="1.35"/>
<circle cx="1368.8" cy="703" r="4.55" fill="#ADD8E6" stroke="#000" stroke-width="1.35"/>
<circle cx="1373.3" cy="704.8" r="4.55" fill="#CD5C5C" stroke="#000" stroke-width="1.35"/>
<circle cx="1377.8" cy="669.3" r="4.55" fill="#CD5C5C" stroke="#000" stroke-width="1.35"/>
<circle cx="1382.2" cy="697.6" r="4.55" fill="#ADD8E6" stroke="#000" stroke-width="1.35"/>
<circle cx="1386.7" cy="699" r="4.55" fill="#CD5C5C" stroke="#000" stroke-width="1.35"/>
<circle cx="1391.2" cy="694.8" r="4.55" fill="#ADD8E6" stroke="#000" stroke-width="1.35"/>
<circle cx="1395.6" cy="717.6" r="4.55" fill="#ADD8E6" stroke="#000" stroke-width="1.35"/>
<circle cx="1400.1" cy="676.3" r="4.55" fill="#CD5C5C" stroke="#000" stroke-width="1.35"/>
<circle cx="1404.6" cy="710.5" r="4.55" fill="#CD5C5C" stroke="#000" stroke-width="1.35"/>
<circle cx="1409" cy="720.9" r="4.55" fill="#ADD8E6" stroke="#000" stroke-width="1.35"/>
<circle cx="1413.5" cy="703.5" r="4.55" fill="#CD5C5C" stroke="#000" stroke-width="1.35"/>
<circle cx="1418" cy="680.5" r="4.55" fill="#CD5C5C" stroke="#000" stroke-width="1.35"/>
<circle cx="1422.4" cy="729.3" r="4.55" fill="#ADD8E6" stroke="#000" stroke-width="1.35"/>
<circle cx="1426.9" cy="709.8" r="4.55" fill="#CD5C5C" stroke="#000" stroke-width="1.35"/>
<circle cx="1431.4" cy="693.5" r="4.55" fill="#CD5C5C" stroke="#000" stroke-width="1.35"/>
<circle cx="1435.8" cy="727.1" r="4.55" fill="#ADD8E6" stroke="#000" stroke-width="1.35"/>
<circle cx="1440.3" cy="689.8" r="4.55" fill="#CD5C5C" stroke="#000" stroke-width="1.35"/>
<circle cx="1444.8" cy="709.6" r="4.55" fill="#ADD8E6" stroke="#000" stroke-width="1.35"/>
<circle cx="1449.2" cy="700.6" r="4.55" fill="#CD5C5C" stroke="#000" stroke-width="1.35"/>
<circle cx="1453.7" cy="730.4" r="4.55" fill="#CD5C5C" stroke="#000" stroke-width="1.35"/>
<circle cx="1458.2" cy="709.3" r="4.55" fill="#ADD8E6" stroke="#000" stroke-width="1.35"/>
<circle cx="1462.6" cy="726.4" r="4.55" fill="#ADD8E6" stroke="#000" stroke-width="1.35"/>
<circle cx="1467.1" cy="716.4" r="4.55" fill="#CD5C5C" stroke="#000" stroke-width="1.35"/>
<circle cx="1471.6" cy="693.5" r="4.55" fill="#ADD8E6" stroke="#000" stroke-width="1.35"/>
<circle cx="1476" cy="735.1" r="4.55" fill="#ADD8E6" stroke="#000" stroke-width="1.35"/>
<circle cx="1480.5" cy="734.8" r="4.55" fill="#CD5C5C" stroke="#000" stroke-width="1.35"/>
<circle cx="1485" cy="699.6" r="4.55" fill="#ADD8E6" stroke="#000" stroke-width="1.35"/>
<circle cx="1489.4" cy="728.1" r="4.55" fill="#CD5C5C" stroke="#000" stroke-width="1.35"/>
<circle cx="1493.9" cy="724.8" r="4.55" fill="#ADD8E6" stroke="#000" stroke-width="1.35"/>
<circle cx="1498.4" cy="725.4" r="4.55" fill="#ADD8E6" stroke="#000" stroke-width="1.35"/>
<circle cx="1502.8" cy="736.8" r="4.55" fill="#CD5C5C" stroke="#000" stroke-width="1.35"/>
<circle cx="1507.3" cy="730.9" r="4.55" fill="#ADD8E6" stroke="#000" stroke-width="1.35"/>
<circle cx="1511.8" cy="719.3" r="4.55" fill="#ADD8E6" stroke="#000" stroke-width="1.35"/>
<circle cx="1516.2" cy="738.1" r="4.55" fill="#CD5C5C" stroke="#000" stroke-width="1.35"/>
<circle cx="1520.7" cy="725.6" r="4.55" fill="#ADD8E6" stroke="#000" stroke-width="1.35"/>
<circle cx="1525.2" cy="720.1" r="4.55" fill="#ADD8E6" stroke="#000" stroke-width="1.35"/>
<circle cx="1529.6" cy="730.9" r="4.55" fill="#CD5C5C" stroke="#000" stroke-width="1.35"/>
<circle cx="1534.1" cy="739.3" r="4.55" fill="#CD5C5C" stroke="#000" stroke-width="1.35"/>
<circle cx="1538.6" cy="727.1" r="4.55" fill="#ADD8E6" stroke="#000" stroke-width="1.35"/>
<circle cx="1543" cy="730.1" r="4.55" fill="#CD5C5C" stroke="#000" stroke-width="1.35"/>
<circle cx="1547.5" cy="727.1" r="4.55" fill="#ADD8E6" stroke="#000" stroke-width="1.35"/>
<circle cx="1552" cy="701.5" r="4.55" fill="#ADD8E6" stroke="#000" stroke-width="1.35"/>
<circle cx="1556.4" cy="767.1" r="4.55" fill="#CD5C5C" stroke="#000" stroke-width="1.35"/>
<circle cx="1560.9" cy="717.6" r="4.55" fill="#ADD8E6" stroke="#000" stroke-width="1.35"/>
<circle cx="1565.4" cy="728.4" r="4.55" fill="#ADD8E6" stroke="#000" stroke-width="1.35"/>
<circle cx="1569.8" cy="732.1" r="4.55" fill="#CD5C5C" stroke="#000" stroke-width="1.35"/>
<circle cx="1574.3" cy="747.6" r="4.55" fill="#ADD8E6" stroke="#000" stroke-width="1.35"/>
<circle cx="1578.8" cy="735.4" r="4.55" fill="#CD5C5C" stroke="#000" stroke-width="1.35"/>
<circle cx="1583.2" cy="713.1" r="4.55" fill="#ADD8E6" stroke="#000" stroke-width="1.35"/>
<circle cx="1587.7" cy="747.1" r="4.55" fill="#CD5C5C" stroke="#000" stroke-width="1.35"/>
<circle cx="1592.2" cy="714.8" r="4.55" fill="#ADD8E6" stroke="#000" stroke-width="1.35"/>
<circle cx="1596.6" cy="731.8" r="4.55" fill="#ADD8E6" stroke="#000" stroke-width="1.35"/>
<circle cx="1601.1" cy="738.8" r="4.55" fill="#CD5C5C" stroke="#000" stroke-width="1.35"/>
<circle cx="1605.6" cy="738.8" r="4.55" fill="#CD5C5C" stroke="#000" stroke-width="1.35"/>
<circle cx="1610" cy="701" r="4.55" fill="#ADD8E6" stroke="#000" stroke-width="1.35"/>
<circle cx="1614.5" cy="727.3" r="4.55" fill="#ADD8E6" stroke="#000" stroke-width="1.35"/>
<circle cx="1619" cy="743.1" r="4.55" fill="#CD5C5C" stroke="#000" stroke-width="1.35"/>
<circle cx="1623.4" cy="763.7" r="4.55" fill="#ADD8E6" stroke="#000" stroke-width="1.35"/>
<circle cx="1627.9" cy="758.9" r="4.55" fill="#CD5C5C" stroke="#000" stroke-width="1.35"/>
<circle cx="1632.4" cy="735.1" r="4.55" fill="#ADD8E6" stroke="#000" stroke-width="1.35"/>
<rect x="1713.2" y="635.6" width="333.75" height="26.25" fill="#D9D9D9"/>
<rect x="1713.2" y="661.9" width="333.75" height="110.6" fill="#EBEBEB"/>
<text x="1880.1" y="657.8" font-size="24" text-anchor="middle" fill="#1A1A1A">20</text>
<line x1="1703.2" x2="1713.2" y1="677.8" y2="677.8" stroke="#333333" stroke-width="2"/>
<text x="1694.8" y="685.5" font-size="20.1" text-anchor="end" fill="#4D4D4D">4.5</text>
<line x1="1703.2" x2="1713.2" y1="704.1" y2="704.1" stroke="#333333" stroke-width="2"/>
<text x="1694.8" y="711.8" font-size="20.1" text-anchor="end" fill="#4D4D4D">4.0</text>
<line x1="1703.2" x2="1713.2" y1="730.4" y2="730.4" stroke="#333333" stroke-width="2"/>
<text x="1694.8" y="738.1" font-size="20.1" text-anchor="end" fill="#4D4D4D">3.5</text>
<line x1="1703.2" x2="1713.2" y1="756.7" y2="756.7" stroke="#333333" stroke-width="2"/>
<text x="1694.8" y="764.4" font-size="20.1" text-anchor="end" fill="#4D4D4D">3.0</text>
<line x1="1723.9" x2="1723.9" y1="772.5" y2="782.5" stroke="#333333" stroke-width="2"/>
<text x="1723.9" y="808.7" font-size="24.4" text-anchor="middle" fill="#4D4D4D">0</text>
<line x1="1813.2" x2="1813.2" y1="772.5" y2="782.5" stroke="#333333" stroke-width="2"/>
<text x="1813.2" y="808.7" font-size="24.4" text-anchor="middle" fill="#4D4D4D">20</text>
<line x1="1902.6" x2="1902.6" y1="772.5" y2="782.5" stroke="#333333" stroke-width="2"/>
<text x="1902.6" y="808.7" font-size="24.4" text-anchor="middle" fill="#4D4D4D">40</text>
<line x1="1991.9" x2="1991.9" y1="772.5" y2="782.5" stroke="#333333" stroke-width="2"/>
<text x="1991.9" y="808.7" font-size="24.4" text-anchor="middle" fill="#4D4D4D">60</text>
<polyline fill="none" stroke="#000" stroke-width="1.8" stroke-linejoin="round" points="1728.4,667.3 1732.8,691 1737.3,674.7 1741.8,687.3 1746.2,687.1 1750.7,709.3 1755.2,698 1759.6,680.5 1764.1,698 1768.6,704.8 1773,675.5 1777.5,696 1782,724.3 1786.4,696 1790.9,723.9 1795.4,726.4 1799.8,701.8 1804.3,713.9 1808.8,741.4 1813.2,685.5 1817.7,704.6 1822.2,747.1 1826.6,726.4 1831.1,721.8 1835.6,748.4 1840,718.1 1844.5,742.1 1849,710.6 1853.4,727.6 1857.9,749.2 1862.4,750.1 1866.8,732.1 1871.3,725.6 1875.8,735.4 1880.2,719.3 1884.7,719.3 1889.2,728.4 1893.6,732.1 1898.1,732.9 1902.6,743.4 1907,742.1 1911.5,706.5 1916,735.9 1920.4,710.1 1924.9,691.5 1929.4,740.9 1933.8,752.6 1938.3,710.5 1942.8,742.6 1947.2,734.3 1951.7,704.3 1956.2,742.6 1960.6,723.1 1965.1,730.9 1969.6,749.2 1974,741.8 1978.5,728.8 1983,719.3 1987.4,754.6 1991.9,734.3 1996.4,738.8 2000.8,767.1 2005.3,763.1 2009.8,720.4 2014.2,731.4 2018.7,767.1 2023.2,751.4 2027.6,755.4 2032.1,746.4"/>
<circle cx="1728.4" cy="667.3" r="4.55" fill="#CD5C5C" stroke="#000" stroke-width="1.35"/>
<circle cx="1732.8" cy="691" r="4.55" fill="#ADD8E6" stroke="#000" stroke-width="1.35"/>
<circle cx="1737.3" cy="674.7" r="4.55" fill="#CD5C5C" stroke="#000" stroke-width="1.35"/>
<circle cx="1741.8" cy="687.3" r="4.55" fill="#CD5C5C" stroke="#000" stroke-width="1.35"/>
<circle cx="1746.2" cy="687.1" r="4.55" fill="#ADD8E6" stroke="#000" stroke-width="1.35"/>
<circle cx="1750.7" cy="709.3" r="4.55" fill="#CD5C5C" stroke="#000" stroke-width="1.35"/>
<circle cx="1755.2" cy="698" r="4.55" fill="#CD5C5C" stroke="#000" stroke-width="1.35"/>
<circle cx="1759.6" cy="680.5" r="4.55" fill="#ADD8E6" stroke="#000" stroke-width="1.35"/>
<circle cx="1764.1" cy="698" r="4.55" fill="#CD5C5C" stroke="#000" stroke-width="1.35"/>
<circle cx="1768.6" cy="704.8" r="4.55" fill="#ADD8E6" stroke="#000" stroke-width="1.35"/>
<circle cx="1773" cy="675.5" r="4.55" fill="#CD5C5C" stroke="#000" stroke-width="1.35"/>
<circle cx="1777.5" cy="696" r="4.55" fill="#CD5C5C" stroke="#000" stroke-width="1.35"/>
<circle cx="1782" cy="724.3" r="4.55" fill="#ADD8E6" stroke="#000" stroke-width="1.35"/>
<circle cx="1786.4" cy="696" r="4.55" fill="#CD5C5C" stroke="#000" stroke-width="1.35"/>
<circle cx="1790.9" cy="723.9" r="4.55" fill="#ADD8E6" stroke="#000" stroke-width="1.35"/>
<circle cx="1795.4" cy="726.4" r="4.55" fill="#ADD8E6" stroke="#000" stroke-width="1.35"/>
<circle cx="1799.8" cy="701.8" r="4.55" fill="#CD5C5C" stroke="#000" stroke-width="1.35"/>
<circle cx="1804.3" cy="713.9" r="4.55" fill="#CD5C5C" stroke="#000" stroke-width="1.35"/>
<circle cx="1808.8" cy="741.4" r="4.55" fill="#ADD8E6" stroke="#000" stroke-width="1.35"/>
<circle cx="1813.2" cy="685.5" r="4.55" fill="#CD5C5C" stroke="#000" stroke-width="1.35"/>
<circle cx="1817.7" cy="704.6" r="4.55" fill="#CD5C5C" stroke="#000" stroke-width="1.35"/>
<circle cx="1822.2" cy="747.1" r="4.55" fill="#ADD8E6" stroke="#000" stroke-width="1.35"/>
<circle cx="1826.6" cy="726.4" r="4.55" fill="#CD5C5C" stroke="#000" stroke-width="1.35"/>
<circle cx="1831.1" cy="721.8" r="4.55" fill="#CD5C5C" stroke="#000" stroke-width="1.35"/>
<circle cx="1835.6" cy="748.4" r="4.55" fill="#ADD8E6" stroke="#000" stroke-width="1.35"/>
<circle cx="1840" cy="718.1" r="4.55" fill="#CD5C5C" stroke="#000" stroke-width="1.35"/>
<circle cx="1844.5" cy="742.1" r="4.55" fill="#ADD8E6" stroke="#000" stroke-width="1.35"/>
<circle cx="1849" cy="710.6" r="4.55" fill="#CD5C5C" stroke="#000" stroke-width="1.35"/>
<circle cx="1853.4" cy="727.6" r="4.55" fill="#CD5C5C" stroke="#000" stroke-width="1.35"/>
<circle cx="1857.9" cy="749.2" r="4.55" fill="#ADD8E6" stroke="#000" stroke-width="1.35"/>
<circle cx="1862.4" cy="750.1" r="4.55" fill="#ADD8E6" stroke="#000" stroke-width="1.35"/>
<circle cx="1866.8" cy="732.1" r="4.55" fill="#CD5C5C" stroke="#000" stroke-width="1.35"/>
<circle cx="1871.3" cy="725.6" r="4.55" fill="#ADD8E6" stroke="#000" stroke-width="1.35"/>
<circle cx="1875.8" cy="735.4" r="4.55" fill="#ADD8E6" stroke="#000" stroke-width="1.35"/>
<circle cx="1880.2" cy="719.3" r="4.55" fill="#CD5C5C" stroke="#000" stroke-width="1.35"/>
<circle cx="1884.7" cy="719.3" r="4.55" fill="#ADD8E6" stroke="#000" stroke-width="1.35"/>
<circle cx="1889.2" cy="728.4" r="4.55" fill="#CD5C5C" stroke="#000" stroke-width="1.35"/>
<circle cx="1893.6" cy="732.1" r="4.55" fill="#ADD8E6" stroke="#000" stroke-width="1.35"/>
<circle cx="1898.1" cy="732.9" r="4.55" fill="#ADD8E6" stroke="#000" stroke-width="1.35"/>
<circle cx="1902.6" cy="743.4" r="4.55" fill="#CD5C5C" stroke="#000" stroke-width="1.35"/>
<circle cx="1907" cy="742.1" r="4.55" fill="#ADD8E6" stroke="#000" stroke-width="1.35"/>
<circle cx="1911.5" cy="706.5" r="4.55" fill="#ADD8E6" stroke="#000" stroke-width="1.35"/>
<circle cx="1916" cy="735.9" r="4.55" fill="#CD5C5C" stroke="#000" stroke-width="1.35"/>
<circle cx="1920.4" cy="710.1" r="4.55" fill="#ADD8E6" stroke="#000" stroke-width="1.35"/>
<circle cx="1924.9" cy="691.5" r="4.55" fill="#ADD8E6" stroke="#000" stroke-width="1.35"/>
<circle cx="1929.4" cy="740.9" r="4.55" fill="#CD5C5C" stroke="#000" stroke-width="1.35"/>
<circle cx="1933.8" cy="752.6" r="4.55" fill="#CD5C5C" stroke="#000" stroke-width="1.35"/>
<circle cx="1938.3" cy="710.5" r="4.55" fill="#ADD8E6" stroke="#000" stroke-width="1.35"/>
<circle cx="1942.8" cy="742.6" r="4.55" fill="#CD5C5C" stroke="#000" stroke-width="1.35"/>
<circle cx="1947.2" cy="734.3" r="4.55" fill="#ADD8E6" stroke="#000" stroke-width="1.35"/>
<circle cx="1951.7" cy="704.3" r="4.55" fill="#ADD8E6" stroke="#000" stroke-width="1.35"/>
<circle cx="1956.2" cy="742.6" r="4.55" fill="#CD5C5C" stroke="#000" stroke-width="1.35"/>
<circle cx="1960.6" cy="723.1" r="4.55" fill="#ADD8E6" stroke="#000" stroke-width="1.35"/>
<circle cx="1965.1" cy="730.9" r="4.55" fill="#ADD8E6" stroke="#000" stroke-width="1.35"/>
<circle cx="1969.6" cy="749.2" r="4.55" fill="#CD5C5C" stroke="#000" stroke-width="1.35"/>
<circle cx="1974" cy="741.8" r="4.55" fill="#ADD8E6" stroke="#000" stroke-width="1.35"/>
<circle cx="1978.5" cy="728.8" r="4.55" fill="#CD5C5C" stroke="#000" stroke-width="1.35"/>
<circle cx="1983" cy="719.3" r="4.55" fill="#ADD8E6" stroke="#000" stroke-width="1.35"/>
<circle cx="1987.4" cy="754.6" r="4.55" fill="#CD5C5C" stroke="#000" stroke-width="1.35"/>
<circle cx="1991.9" cy="734.3" r="4.55" fill="#ADD8E6" stroke="#000" stroke-width="1.35"/>
<circle cx="1996.4" cy="738.8" r="4.55" fill="#ADD8E6" stroke="#000" stroke-width="1.35"/>
<circle cx="2000.8" cy="767.1" r="4.55" fill="#CD5C5C" stroke="#000" stroke-width="1.35"/>
<circle cx="2005.3" cy="763.1" r="4.55" fill="#CD5C5C" stroke="#000" stroke-width="1.35"/>
<circle cx="2009.8" cy="720.4" r="4.55" fill="#ADD8E6" stroke="#000" stroke-width="1.35"/>
<circle cx="2014.2" cy="731.4" r="4.55" fill="#ADD8E6" stroke="#000" stroke-width="1.35"/>
<circle cx="2018.7" cy="767.1" r="4.55" fill="#CD5C5C" stroke="#000" stroke-width="1.35"/>
<circle cx="2023.2" cy="751.4" r="4.55" fill="#ADD8E6" stroke="#000" stroke-width="1.35"/>
<circle cx="2027.6" cy="755.4" r="4.55" fill="#CD5C5C" stroke="#000" stroke-width="1.35"/>
<circle cx="2032.1" cy="746.4" r="4.55" fill="#ADD8E6" stroke="#000" stroke-width="1.35"/>
</g>
<text x="1075.3" y="858" font-size="40.6" text-anchor="middle" fill="#000">Trial</text>
<text transform="translate(38,427.2) rotate(-90)" font-size="40.8" text-anchor="middle" fill="#000">Simulated SCR</text>
<rect x="945" y="0" width="26" height="26" fill="#F2F2F2"/>
<rect x="1081.5" y="0" width="26" height="26" fill="#F2F2F2"/>
<circle cx="958.2" cy="13.3" r="5" fill="#CD5C5C" stroke="#000" stroke-width="1.4"/>
<circle cx="1094.5" cy="13.3" r="5" fill="#ADD8E6" stroke="#000" stroke-width="1.4"/>
<text x="976" y="25.3" font-size="32.7" fill="#000">Face A</text>
<text x="1111.3" y="25.3" font-size="32.7" fill="#000">Face B</text>
<text transform="translate(-1.5,44.3) scale(0.95,1)" font-size="74.5" font-weight="bold" fill="#000">a</text>
<text x="0" y="961" font-size="71" font-weight="bold" fill="#000">b</text>
<text x="698.5" y="962" font-size="72" font-weight="bold" fill="#000">c</text>
<rect x="117.4" y="906.8" width="232.5" height="41.7" fill="#D9D9D9"/>
<rect x="117.4" y="948.5" width="232.5" height="168.7" fill="#EBEBEB"/>
<text transform="translate(226.3,932.5) scale(1.17,1)" font-size="31.2" text-anchor="middle" fill="#1A1A1A" font-family='"Liberation Serif", "DejaVu Serif", serif'>α</text><text x="236.8" y="938" font-size="21.5" fill="#1A1A1A">0</text>
<line x1="132.4" x2="132.4" y1="948.5" y2="1117.2" stroke="#F4F4F4" stroke-width="1"/>
<line x1="200.2" x2="200.2" y1="948.5" y2="1117.2" stroke="#F4F4F4" stroke-width="1"/>
<line x1="267.9" x2="267.9" y1="948.5" y2="1117.2" stroke="#F4F4F4" stroke-width="1"/>
<line x1="335.7" x2="335.7" y1="948.5" y2="1117.2" stroke="#F4F4F4" stroke-width="1"/>
<line x1="117.4" x2="349.9" y1="975.7" y2="975.7" stroke="#F4F4F4" stroke-width="1"/>
<line x1="117.4" x2="349.9" y1="1022.5" y2="1022.5" stroke="#F4F4F4" stroke-width="1"/>
<line x1="117.4" x2="349.9" y1="1069.3" y2="1069.3" stroke="#F4F4F4" stroke-width="1"/>
<line x1="117.4" x2="349.9" y1="1116" y2="1116" stroke="#F4F4F4" stroke-width="1"/>
<line x1="166.3" x2="166.3" y1="948.5" y2="1117.2" stroke="#FFF" stroke-width="1.4"/>
<line x1="234" x2="234" y1="948.5" y2="1117.2" stroke="#FFF" stroke-width="1.4"/>
<line x1="301.8" x2="301.8" y1="948.5" y2="1117.2" stroke="#FFF" stroke-width="1.4"/>
<line x1="117.4" x2="349.9" y1="952.4" y2="952.4" stroke="#FFF" stroke-width="1.4"/>
<line x1="117.4" x2="349.9" y1="999.1" y2="999.1" stroke="#FFF" stroke-width="1.4"/>
<line x1="117.4" x2="349.9" y1="1045.9" y2="1045.9" stroke="#FFF" stroke-width="1.4"/>
<line x1="117.4" x2="349.9" y1="1092.7" y2="1092.7" stroke="#FFF" stroke-width="1.4"/>
<line x1="166.3" x2="166.3" y1="1117.2" y2="1127.2" stroke="#333333" stroke-width="2"/>
<text x="166.3" y="1153.7" font-size="24" text-anchor="middle" fill="#4D4D4D">0.4</text>
<line x1="234" x2="234" y1="1117.2" y2="1127.2" stroke="#333333" stroke-width="2"/>
<text x="234" y="1153.7" font-size="24" text-anchor="middle" fill="#4D4D4D">0.6</text>
<line x1="301.8" x2="301.8" y1="1117.2" y2="1127.2" stroke="#333333" stroke-width="2"/>
<text x="301.8" y="1153.7" font-size="24" text-anchor="middle" fill="#4D4D4D">0.8</text>
<line x1="107.4" x2="117.4" y1="952.4" y2="952.4" stroke="#333333" stroke-width="2"/>
<text x="98.4" y="961" font-size="24" text-anchor="end" fill="#4D4D4D">1.00</text>
<line x1="107.4" x2="117.4" y1="999.1" y2="999.1" stroke="#333333" stroke-width="2"/>
<text x="98.4" y="1007.7" font-size="24" text-anchor="end" fill="#4D4D4D">0.75</text>
<line x1="107.4" x2="117.4" y1="1045.9" y2="1045.9" stroke="#333333" stroke-width="2"/>
<text x="98.4" y="1054.5" font-size="24" text-anchor="end" fill="#4D4D4D">0.50</text>
<line x1="107.4" x2="117.4" y1="1092.7" y2="1092.7" stroke="#333333" stroke-width="2"/>
<text x="98.4" y="1101.3" font-size="24" text-anchor="end" fill="#4D4D4D">0.25</text>
<circle cx="128.2" cy="1081" r="6.2" fill="#000"/>
<circle cx="142.9" cy="1097.2" r="6.2" fill="#000"/>
<circle cx="174.8" cy="1049.3" r="6.2" fill="#000"/>
<circle cx="179.6" cy="1029.7" r="6.2" fill="#000"/>
<circle cx="188.3" cy="1055.5" r="6.2" fill="#000"/>
<circle cx="188.5" cy="1083.5" r="6.2" fill="#000"/>
<circle cx="195.3" cy="1043" r="6.2" fill="#000"/>
<circle cx="231.9" cy="1001.7" r="6.2" fill="#000"/>
<circle cx="238.4" cy="1003.3" r="6.2" fill="#000"/>
<circle cx="238.7" cy="1080.2" r="6.2" fill="#000"/>
<circle cx="245.6" cy="1042.4" r="6.2" fill="#000"/>
<circle cx="251.5" cy="1019.9" r="6.2" fill="#000"/>
<circle cx="276.3" cy="1043.4" r="6.2" fill="#000"/>
<circle cx="276.9" cy="1015" r="6.2" fill="#000"/>
<circle cx="278.9" cy="1020.9" r="6.2" fill="#000"/>
<circle cx="288.1" cy="1042" r="6.2" fill="#000"/>
<circle cx="289" cy="1006.8" r="6.2" fill="#000"/>
<circle cx="294.5" cy="985.3" r="6.2" fill="#000"/>
<circle cx="299.4" cy="994.5" r="6.2" fill="#000"/>
<circle cx="339.1" cy="956.3" r="6.2" fill="#000"/>
<polygon fill="#999999" fill-opacity="0.4" points="128.2,1063 137,1060.3 145.8,1057.7 154.5,1054.9 163.3,1052.2 172.1,1049.4 180.9,1046.5 189.7,1043.5 198.5,1040.4 207.3,1037.1 216.1,1033.6 224.9,1029.7 233.7,1025.6 242.4,1021.1 251.2,1016.3 260,1011.1 268.8,1005.8 277.6,1000.3 286.4,994.6 295.2,988.9 304,983 312.8,977.1 321.6,971.2 330.3,965.3 339.1,959.3 339.1,1007 330.3,1009.6 321.6,1012.3 312.8,1015 304,1017.8 295.2,1020.6 286.4,1023.5 277.6,1026.5 268.8,1029.6 260,1032.9 251.2,1036.4 242.4,1040.2 233.7,1044.4 224.9,1048.9 216.1,1053.7 207.3,1058.8 198.5,1064.2 189.7,1069.7 180.9,1075.4 172.1,1081.1 163.3,1086.9 154.5,1092.8 145.8,1098.8 137,1104.7 128.2,1110.7"/>
<line x1="128.2" y1="1086.8" x2="339.1" y2="983.1" stroke="#3366FF" stroke-width="2.8"/>
<text x="117.9" y="967.2" font-size="27.3" fill="#000">r=0.77***</text>
<rect x="422" y="906.8" width="232" height="41.7" fill="#D9D9D9"/>
<rect x="422" y="948.5" width="232" height="168.7" fill="#EBEBEB"/>
<text transform="translate(537,932.8) scale(1.06,1)" font-size="30.5" text-anchor="middle" fill="#1A1A1A" font-family='"Liberation Serif", "DejaVu Serif", serif'>η</text>
<line x1="445.7" x2="445.7" y1="948.5" y2="1117.2" stroke="#F4F4F4" stroke-width="1"/>
<line x1="507.9" x2="507.9" y1="948.5" y2="1117.2" stroke="#F4F4F4" stroke-width="1"/>
<line x1="570" x2="570" y1="948.5" y2="1117.2" stroke="#F4F4F4" stroke-width="1"/>
<line x1="632.1" x2="632.1" y1="948.5" y2="1117.2" stroke="#F4F4F4" stroke-width="1"/>
<line x1="422" x2="654" y1="973.5" y2="973.5" stroke="#F4F4F4" stroke-width="1"/>
<line x1="422" x2="654" y1="1013.8" y2="1013.8" stroke="#F4F4F4" stroke-width="1"/>
<line x1="422" x2="654" y1="1054" y2="1054" stroke="#F4F4F4" stroke-width="1"/>
<line x1="422" x2="654" y1="1094.3" y2="1094.3" stroke="#F4F4F4" stroke-width="1"/>
<line x1="476.8" x2="476.8" y1="948.5" y2="1117.2" stroke="#FFF" stroke-width="1.4"/>
<line x1="539" x2="539" y1="948.5" y2="1117.2" stroke="#FFF" stroke-width="1.4"/>
<line x1="601" x2="601" y1="948.5" y2="1117.2" stroke="#FFF" stroke-width="1.4"/>
<line x1="422" x2="654" y1="953.4" y2="953.4" stroke="#FFF" stroke-width="1.4"/>
<line x1="422" x2="654" y1="993.7" y2="993.7" stroke="#FFF" stroke-width="1.4"/>
<line x1="422" x2="654" y1="1033.9" y2="1033.9" stroke="#FFF" stroke-width="1.4"/>
<line x1="422" x2="654" y1="1074.2" y2="1074.2" stroke="#FFF" stroke-width="1.4"/>
<line x1="422" x2="654" y1="1114.4" y2="1114.4" stroke="#FFF" stroke-width="1.4"/>
<line x1="476.8" x2="476.8" y1="1117.2" y2="1127.2" stroke="#333333" stroke-width="2"/>
<text x="476.8" y="1153.7" font-size="24" text-anchor="middle" fill="#4D4D4D">0.4</text>
<line x1="539" x2="539" y1="1117.2" y2="1127.2" stroke="#333333" stroke-width="2"/>
<text x="539" y="1153.7" font-size="24" text-anchor="middle" fill="#4D4D4D">0.6</text>
<line x1="601" x2="601" y1="1117.2" y2="1127.2" stroke="#333333" stroke-width="2"/>
<text x="601" y="1153.7" font-size="24" text-anchor="middle" fill="#4D4D4D">0.8</text>
<line x1="412" x2="422" y1="953.4" y2="953.4" stroke="#333333" stroke-width="2"/>
<text x="403" y="962" font-size="24" text-anchor="end" fill="#4D4D4D">1.0</text>
<line x1="412" x2="422" y1="993.7" y2="993.7" stroke="#333333" stroke-width="2"/>
<text x="403" y="1002.3" font-size="24" text-anchor="end" fill="#4D4D4D">0.8</text>
<line x1="412" x2="422" y1="1033.9" y2="1033.9" stroke="#333333" stroke-width="2"/>
<text x="403" y="1042.5" font-size="24" text-anchor="end" fill="#4D4D4D">0.6</text>
<line x1="412" x2="422" y1="1074.2" y2="1074.2" stroke="#333333" stroke-width="2"/>
<text x="403" y="1082.8" font-size="24" text-anchor="end" fill="#4D4D4D">0.4</text>
<line x1="412" x2="422" y1="1114.4" y2="1114.4" stroke="#333333" stroke-width="2"/>
<text x="403" y="1123" font-size="24" text-anchor="end" fill="#4D4D4D">0.2</text>
<circle cx="432.5" cy="1087" r="6.2" fill="#000"/>
<circle cx="445.5" cy="1033.6" r="6.2" fill="#000"/>
<circle cx="499.7" cy="1059.5" r="6.2" fill="#000"/>
<circle cx="521" cy="1047.3" r="6.2" fill="#000"/>
<circle cx="531.6" cy="1057.1" r="6.2" fill="#000"/>
<circle cx="531" cy="1079.2" r="6.2" fill="#000"/>
<circle cx="534.9" cy="1010.1" r="6.2" fill="#000"/>
<circle cx="546.8" cy="1039.5" r="6.2" fill="#000"/>
<circle cx="558" cy="1039.5" r="6.2" fill="#000"/>
<circle cx="566.2" cy="1019.5" r="6.2" fill="#000"/>
<circle cx="572.7" cy="1021.3" r="6.2" fill="#000"/>
<circle cx="577" cy="1021.3" r="6.2" fill="#000"/>
<circle cx="578.1" cy="1028.7" r="6.2" fill="#000"/>
<circle cx="591.3" cy="980.8" r="6.2" fill="#000"/>
<circle cx="600.1" cy="980.8" r="6.2" fill="#000"/>
<circle cx="605.3" cy="998" r="6.2" fill="#000"/>
<circle cx="608.7" cy="1022.9" r="6.2" fill="#000"/>
<circle cx="631.6" cy="990.6" r="6.2" fill="#000"/>
<circle cx="638.6" cy="970.4" r="6.2" fill="#000"/>
<circle cx="643.3" cy="956.3" r="6.2" fill="#000"/>
<polygon fill="#999999" fill-opacity="0.4" points="432.5,1060.6 441.3,1057.8 450.1,1054.9 458.9,1052.1 467.7,1049.2 476.5,1046.2 485.2,1043.3 494,1040.3 502.8,1037.2 511.6,1034 520.4,1030.8 529.1,1027.4 537.9,1023.8 546.7,1020 555.5,1015.9 564.3,1011.6 573.1,1006.9 581.8,1002 590.6,996.8 599.4,991.5 608.2,986.1 617,980.5 625.7,974.9 634.5,969.2 643.3,963.5 643.3,999.2 634.5,1002.2 625.7,1005.2 617,1008.2 608.2,1011.4 599.4,1014.6 590.6,1018 581.8,1021.5 573.1,1025.3 564.3,1029.3 555.5,1033.6 546.7,1038.2 537.9,1043 529.1,1048.1 520.4,1053.4 511.6,1058.8 502.8,1064.4 494,1070 485.2,1075.6 476.5,1081.3 467.7,1087.1 458.9,1092.9 450.1,1098.7 441.3,1104.5 432.5,1110.4"/>
<line x1="432.5" y1="1085.5" x2="643.3" y2="981.4" stroke="#3366FF" stroke-width="2.8"/>
<text x="422.5" y="967.2" font-size="27.3" fill="#000">r=0.81***</text>
<rect x="117.4" y="1175" width="232.5" height="41.1" fill="#D9D9D9"/>
<rect x="117.4" y="1216.1" width="232.5" height="169.7" fill="#EBEBEB"/>
<text transform="translate(235.7,1203.2) scale(1.07,1)" font-size="31.6" text-anchor="middle" fill="#1A1A1A" font-family='"Liberation Serif", "DejaVu Serif", serif'>κ</text>
<line x1="177.4" x2="177.4" y1="1216.1" y2="1385.8" stroke="#F4F4F4" stroke-width="1"/>
<line x1="242.7" x2="242.7" y1="1216.1" y2="1385.8" stroke="#F4F4F4" stroke-width="1"/>
<line x1="308" x2="308" y1="1216.1" y2="1385.8" stroke="#F4F4F4" stroke-width="1"/>
<line x1="117.4" x2="349.9" y1="1258.8" y2="1258.8" stroke="#F4F4F4" stroke-width="1"/>
<line x1="117.4" x2="349.9" y1="1293.7" y2="1293.7" stroke="#F4F4F4" stroke-width="1"/>
<line x1="117.4" x2="349.9" y1="1328.6" y2="1328.6" stroke="#F4F4F4" stroke-width="1"/>
<line x1="117.4" x2="349.9" y1="1363.5" y2="1363.5" stroke="#F4F4F4" stroke-width="1"/>
<line x1="144.8" x2="144.8" y1="1216.1" y2="1385.8" stroke="#FFF" stroke-width="1.4"/>
<line x1="210" x2="210" y1="1216.1" y2="1385.8" stroke="#FFF" stroke-width="1.4"/>
<line x1="275.3" x2="275.3" y1="1216.1" y2="1385.8" stroke="#FFF" stroke-width="1.4"/>
<line x1="340.6" x2="340.6" y1="1216.1" y2="1385.8" stroke="#FFF" stroke-width="1.4"/>
<line x1="117.4" x2="349.9" y1="1241.4" y2="1241.4" stroke="#FFF" stroke-width="1.4"/>
<line x1="117.4" x2="349.9" y1="1276.3" y2="1276.3" stroke="#FFF" stroke-width="1.4"/>
<line x1="117.4" x2="349.9" y1="1311.2" y2="1311.2" stroke="#FFF" stroke-width="1.4"/>
<line x1="117.4" x2="349.9" y1="1346" y2="1346" stroke="#FFF" stroke-width="1.4"/>
<line x1="117.4" x2="349.9" y1="1380.9" y2="1380.9" stroke="#FFF" stroke-width="1.4"/>
<line x1="144.8" x2="144.8" y1="1385.8" y2="1395.8" stroke="#333333" stroke-width="2"/>
<text x="144.8" y="1422.3" font-size="24" text-anchor="middle" fill="#4D4D4D">0.10</text>
<line x1="210" x2="210" y1="1385.8" y2="1395.8" stroke="#333333" stroke-width="2"/>
<text x="210" y="1422.3" font-size="24" text-anchor="middle" fill="#4D4D4D">0.15</text>
<line x1="275.3" x2="275.3" y1="1385.8" y2="1395.8" stroke="#333333" stroke-width="2"/>
<text x="275.3" y="1422.3" font-size="24" text-anchor="middle" fill="#4D4D4D">0.20</text>
<line x1="340.6" x2="340.6" y1="1385.8" y2="1395.8" stroke="#333333" stroke-width="2"/>
<text x="340.6" y="1422.3" font-size="24" text-anchor="middle" fill="#4D4D4D">0.25</text>
<line x1="107.4" x2="117.4" y1="1241.4" y2="1241.4" stroke="#333333" stroke-width="2"/>
<text x="98.4" y="1250" font-size="24" text-anchor="end" fill="#4D4D4D">0.4</text>
<line x1="107.4" x2="117.4" y1="1276.3" y2="1276.3" stroke="#333333" stroke-width="2"/>
<text x="98.4" y="1284.9" font-size="24" text-anchor="end" fill="#4D4D4D">0.3</text>
<line x1="107.4" x2="117.4" y1="1311.2" y2="1311.2" stroke="#333333" stroke-width="2"/>
<text x="98.4" y="1319.8" font-size="24" text-anchor="end" fill="#4D4D4D">0.2</text>
<line x1="107.4" x2="117.4" y1="1346" y2="1346" stroke="#333333" stroke-width="2"/>
<text x="98.4" y="1354.6" font-size="24" text-anchor="end" fill="#4D4D4D">0.1</text>
<line x1="107.4" x2="117.4" y1="1380.9" y2="1380.9" stroke="#333333" stroke-width="2"/>
<text x="98.4" y="1389.5" font-size="24" text-anchor="end" fill="#4D4D4D">0.0</text>
<circle cx="128.2" cy="1349.6" r="6.2" fill="#000"/>
<circle cx="158.5" cy="1334.5" r="6.2" fill="#000"/>
<circle cx="158.9" cy="1354.5" r="6.2" fill="#000"/>
<circle cx="170.8" cy="1342.8" r="6.2" fill="#000"/>
<circle cx="183" cy="1348.6" r="6.2" fill="#000"/>
<circle cx="190.8" cy="1351" r="6.2" fill="#000"/>
<circle cx="187.3" cy="1320.6" r="6.2" fill="#000"/>
<circle cx="198.6" cy="1303.6" r="6.2" fill="#000"/>
<circle cx="200" cy="1308.1" r="6.2" fill="#000"/>
<circle cx="211" cy="1306" r="6.2" fill="#000"/>
<circle cx="208.4" cy="1324.2" r="6.2" fill="#000"/>
<circle cx="203.1" cy="1334.9" r="6.2" fill="#000"/>
<circle cx="202.5" cy="1340.2" r="6.2" fill="#000"/>
<circle cx="228" cy="1338.5" r="6.2" fill="#000"/>
<circle cx="240.3" cy="1274.9" r="6.2" fill="#000"/>
<circle cx="254.4" cy="1262.5" r="6.2" fill="#000"/>
<circle cx="255" cy="1287" r="6.2" fill="#000"/>
<circle cx="263.2" cy="1288" r="6.2" fill="#000"/>
<circle cx="277.5" cy="1280.7" r="6.2" fill="#000"/>
<circle cx="339.1" cy="1259" r="6.2" fill="#000"/>
<polygon fill="#999999" fill-opacity="0.4" points="128.2,1345.7 137,1342.3 145.8,1338.9 154.5,1335.5 163.3,1332 172.1,1328.4 180.9,1324.7 189.7,1320.9 198.5,1316.9 207.3,1312.6 216.1,1308 224.9,1303 233.7,1297.6 242.4,1292 251.2,1286.2 260,1280.3 268.8,1274.3 277.6,1268.2 286.4,1262.1 295.2,1255.9 304,1249.7 312.8,1243.6 321.6,1237.3 330.3,1231.1 339.1,1224.9 339.1,1268.8 330.3,1272.2 321.6,1275.5 312.8,1278.9 304,1282.3 295.2,1285.7 286.4,1289.1 277.6,1292.5 268.8,1296 260,1299.6 251.2,1303.2 242.4,1307 233.7,1311 224.9,1315.2 216.1,1319.8 207.3,1324.7 198.5,1330 189.7,1335.6 180.9,1341.3 172.1,1347.2 163.3,1353.2 154.5,1359.3 145.8,1365.4 137,1371.6 128.2,1377.7"/>
<line x1="128.2" y1="1361.7" x2="339.1" y2="1246.9" stroke="#3366FF" stroke-width="2.8"/>
<text x="117.9" y="1234.8" font-size="27.3" fill="#000">r=0.84***</text>
<text x="386.5" y="1470.5" font-size="40.7" text-anchor="middle" fill="#000">Estimated</text>
<text transform="translate(31.5,1167.3) rotate(-90)" font-size="40.8" text-anchor="middle" fill="#000">Simulated</text>
<rect x="804.5" y="906.8" width="298" height="63.2" fill="#D9D9D9"/>
<rect x="804.5" y="970" width="298" height="415.8" fill="#EBEBEB"/>
<text transform="translate(947.5,943.6) scale(1.17,1)" font-size="34.6" text-anchor="middle" fill="#1A1A1A" font-family='"Liberation Serif", "DejaVu Serif", serif'>α</text><text x="957.9" y="949.5" font-size="24" fill="#1A1A1A">0</text>
<line x1="844.3" x2="844.3" y1="970" y2="1385.8" stroke="#F4F4F4" stroke-width="1"/>
<line x1="918.9" x2="918.9" y1="970" y2="1385.8" stroke="#F4F4F4" stroke-width="1"/>
<line x1="993.5" x2="993.5" y1="970" y2="1385.8" stroke="#F4F4F4" stroke-width="1"/>
<line x1="1068.1" x2="1068.1" y1="970" y2="1385.8" stroke="#F4F4F4" stroke-width="1"/>
<line x1="804.5" x2="1102.5" y1="1337.6" y2="1337.6" stroke="#F4F4F4" stroke-width="1"/>
<line x1="804.5" x2="1102.5" y1="1238.2" y2="1238.2" stroke="#F4F4F4" stroke-width="1"/>
<line x1="804.5" x2="1102.5" y1="1138.8" y2="1138.8" stroke="#F4F4F4" stroke-width="1"/>
<line x1="804.5" x2="1102.5" y1="1039.4" y2="1039.4" stroke="#F4F4F4" stroke-width="1"/>
<line x1="807" x2="807" y1="970" y2="1385.8" stroke="#FFF" stroke-width="1.4"/>
<line x1="881.6" x2="881.6" y1="970" y2="1385.8" stroke="#FFF" stroke-width="1.4"/>
<line x1="956.2" x2="956.2" y1="970" y2="1385.8" stroke="#FFF" stroke-width="1.4"/>
<line x1="1030.8" x2="1030.8" y1="970" y2="1385.8" stroke="#FFF" stroke-width="1.4"/>
<line x1="804.5" x2="1102.5" y1="1287.9" y2="1287.9" stroke="#FFF" stroke-width="1.4"/>
<line x1="804.5" x2="1102.5" y1="1188.5" y2="1188.5" stroke="#FFF" stroke-width="1.4"/>
<line x1="804.5" x2="1102.5" y1="1089.1" y2="1089.1" stroke="#FFF" stroke-width="1.4"/>
<line x1="804.5" x2="1102.5" y1="989.7" y2="989.7" stroke="#FFF" stroke-width="1.4"/>
<line x1="807" x2="807" y1="1385.8" y2="1395.8" stroke="#333333" stroke-width="2"/>
<text x="807" y="1422.1" font-size="24" text-anchor="middle" fill="#4D4D4D">0.0</text>
<line x1="881.6" x2="881.6" y1="1385.8" y2="1395.8" stroke="#333333" stroke-width="2"/>
<text x="881.6" y="1422.1" font-size="24" text-anchor="middle" fill="#4D4D4D">0.5</text>
<line x1="956.2" x2="956.2" y1="1385.8" y2="1395.8" stroke="#333333" stroke-width="2"/>
<text x="956.2" y="1422.1" font-size="24" text-anchor="middle" fill="#4D4D4D">1.0</text>
<line x1="1030.8" x2="1030.8" y1="1385.8" y2="1395.8" stroke="#333333" stroke-width="2"/>
<text x="1030.8" y="1422.1" font-size="24" text-anchor="middle" fill="#4D4D4D">1.5</text>
<line x1="794.5" x2="804.5" y1="1287.9" y2="1287.9" stroke="#333333" stroke-width="2"/>
<text x="785.5" y="1296.5" font-size="24" text-anchor="end" fill="#4D4D4D">5</text>
<line x1="794.5" x2="804.5" y1="1188.5" y2="1188.5" stroke="#333333" stroke-width="2"/>
<text x="785.5" y="1197.1" font-size="24" text-anchor="end" fill="#4D4D4D">10</text>
<line x1="794.5" x2="804.5" y1="1089.1" y2="1089.1" stroke="#333333" stroke-width="2"/>
<text x="785.5" y="1097.7" font-size="24" text-anchor="end" fill="#4D4D4D">15</text>
<line x1="794.5" x2="804.5" y1="989.7" y2="989.7" stroke="#333333" stroke-width="2"/>
<text x="785.5" y="998.3" font-size="24" text-anchor="end" fill="#4D4D4D">20</text>
<line x1="820.8" x2="1039.2" y1="989.7" y2="989.7" stroke="#BEBEBE" stroke-width="4.2"/>
<line x1="832.8" x2="914.2" y1="1009.6" y2="1009.6" stroke="#BEBEBE" stroke-width="4.2"/>
<line x1="823.2" x2="1049.5" y1="1029.5" y2="1029.5" stroke="#BEBEBE" stroke-width="4.2"/>
<line x1="818" x2="1088.8" y1="1049.4" y2="1049.4" stroke="#BEBEBE" stroke-width="4.2"/>
<line x1="824.5" x2="1058.5" y1="1069.2" y2="1069.2" stroke="#BEBEBE" stroke-width="4.2"/>
<line x1="831.2" x2="1013.5" y1="1089.1" y2="1089.1" stroke="#BEBEBE" stroke-width="4.2"/>
<line x1="835" x2="1025" y1="1109" y2="1109" stroke="#BEBEBE" stroke-width="4.2"/>
<line x1="825.8" x2="1043.5" y1="1128.9" y2="1128.9" stroke="#BEBEBE" stroke-width="4.2"/>
<line x1="830" x2="967.8" y1="1148.8" y2="1148.8" stroke="#BEBEBE" stroke-width="4.2"/>
<line x1="828.8" x2="955" y1="1168.6" y2="1168.6" stroke="#BEBEBE" stroke-width="4.2"/>
<line x1="828.2" x2="1009.8" y1="1188.5" y2="1188.5" stroke="#BEBEBE" stroke-width="4.2"/>
<line x1="832.2" x2="1028.8" y1="1208.4" y2="1208.4" stroke="#BEBEBE" stroke-width="4.2"/>
<line x1="823" x2="1048.8" y1="1228.3" y2="1228.3" stroke="#BEBEBE" stroke-width="4.2"/>
<line x1="834.5" x2="971" y1="1248.1" y2="1248.1" stroke="#BEBEBE" stroke-width="4.2"/>
<line x1="831.8" x2="958.5" y1="1268" y2="1268" stroke="#BEBEBE" stroke-width="4.2"/>
<line x1="834" x2="980" y1="1287.9" y2="1287.9" stroke="#BEBEBE" stroke-width="4.2"/>
<line x1="828" x2="925.5" y1="1307.8" y2="1307.8" stroke="#BEBEBE" stroke-width="4.2"/>
<line x1="827" x2="1063.5" y1="1327.6" y2="1327.6" stroke="#BEBEBE" stroke-width="4.2"/>
<line x1="825.2" x2="1001" y1="1347.5" y2="1347.5" stroke="#BEBEBE" stroke-width="4.2"/>
<line x1="822" x2="1040.8" y1="1367.4" y2="1367.4" stroke="#BEBEBE" stroke-width="4.2"/>
<rect x="898.9" y="983.1" width="13.2" height="13.2" fill="#FFF" stroke="#000" stroke-width="1.3"/>
<rect x="848.4" y="1003" width="13.2" height="13.2" fill="#FFF" stroke="#000" stroke-width="1.3"/>
<rect x="905.1" y="1022.9" width="13.2" height="13.2" fill="#FFF" stroke="#000" stroke-width="1.3"/>
<rect x="946.4" y="1042.8" width="13.2" height="13.2" fill="#FFF" stroke="#000" stroke-width="1.3"/>
<rect x="923.4" y="1062.6" width="13.2" height="13.2" fill="#FFF" stroke="#000" stroke-width="1.3"/>
<rect x="847.6" y="1082.5" width="13.2" height="13.2" fill="#FFF" stroke="#000" stroke-width="1.3"/>
<rect x="877.9" y="1102.4" width="13.2" height="13.2" fill="#FFF" stroke="#000" stroke-width="1.3"/>
<rect x="877.1" y="1122.3" width="13.2" height="13.2" fill="#FFF" stroke="#000" stroke-width="1.3"/>
<rect x="845.1" y="1142.2" width="13.2" height="13.2" fill="#FFF" stroke="#000" stroke-width="1.3"/>
<rect x="872.6" y="1162" width="13.2" height="13.2" fill="#FFF" stroke="#000" stroke-width="1.3"/>
<rect x="908.9" y="1181.9" width="13.2" height="13.2" fill="#FFF" stroke="#000" stroke-width="1.3"/>
<rect x="894.6" y="1201.8" width="13.2" height="13.2" fill="#FFF" stroke="#000" stroke-width="1.3"/>
<rect x="878.1" y="1221.7" width="13.2" height="13.2" fill="#FFF" stroke="#000" stroke-width="1.3"/>
<rect x="867.1" y="1241.5" width="13.2" height="13.2" fill="#FFF" stroke="#000" stroke-width="1.3"/>
<rect x="887.9" y="1261.4" width="13.2" height="13.2" fill="#FFF" stroke="#000" stroke-width="1.3"/>
<rect x="877.1" y="1281.3" width="13.2" height="13.2" fill="#FFF" stroke="#000" stroke-width="1.3"/>
<rect x="834.1" y="1301.2" width="13.2" height="13.2" fill="#FFF" stroke="#000" stroke-width="1.3"/>
<rect x="915.1" y="1321" width="13.2" height="13.2" fill="#FFF" stroke="#000" stroke-width="1.3"/>
<rect x="910.1" y="1340.9" width="13.2" height="13.2" fill="#FFF" stroke="#000" stroke-width="1.3"/>
<rect x="895.1" y="1360.8" width="13.2" height="13.2" fill="#FFF" stroke="#000" stroke-width="1.3"/>
<circle cx="915.8" cy="989.7" r="8.2" fill="#000"/>
<circle cx="849.5" cy="1009.6" r="8.2" fill="#000"/>
<circle cx="920.5" cy="1029.5" r="8.2" fill="#000"/>
<circle cx="943" cy="1049.4" r="8.2" fill="#000"/>
<circle cx="923.2" cy="1069.2" r="8.2" fill="#000"/>
<circle cx="898.5" cy="1089.1" r="8.2" fill="#000"/>
<circle cx="901.8" cy="1109" r="8.2" fill="#000"/>
<circle cx="915.5" cy="1128.9" r="8.2" fill="#000"/>
<circle cx="876.2" cy="1148.8" r="8.2" fill="#000"/>
<circle cx="870" cy="1168.6" r="8.2" fill="#000"/>
<circle cx="898.2" cy="1188.5" r="8.2" fill="#000"/>
<circle cx="904.2" cy="1208.4" r="8.2" fill="#000"/>
<circle cx="920.2" cy="1228.3" r="8.2" fill="#000"/>
<circle cx="876.2" cy="1248.1" r="8.2" fill="#000"/>
<circle cx="872.5" cy="1268" r="8.2" fill="#000"/>
<circle cx="879.2" cy="1287.9" r="8.2" fill="#000"/>
<circle cx="856.2" cy="1307.8" r="8.2" fill="#000"/>
<circle cx="925.5" cy="1327.6" r="8.2" fill="#000"/>
<circle cx="895.5" cy="1347.5" r="8.2" fill="#000"/>
<circle cx="916.2" cy="1367.4" r="8.2" fill="#000"/>
<rect x="1168.2" y="906.8" width="298" height="63.2" fill="#D9D9D9"/>
<rect x="1168.2" y="970" width="298" height="415.8" fill="#EBEBEB"/>
<text transform="translate(1316,943.2) scale(1.06,1)" font-size="33.8" text-anchor="middle" fill="#1A1A1A" font-family='"Liberation Serif", "DejaVu Serif", serif'>η</text>
<line x1="1209.4" x2="1209.4" y1="970" y2="1385.8" stroke="#F4F4F4" stroke-width="1"/>
<line x1="1282.4" x2="1282.4" y1="970" y2="1385.8" stroke="#F4F4F4" stroke-width="1"/>
<line x1="1355.4" x2="1355.4" y1="970" y2="1385.8" stroke="#F4F4F4" stroke-width="1"/>
<line x1="1428.4" x2="1428.4" y1="970" y2="1385.8" stroke="#F4F4F4" stroke-width="1"/>
<line x1="1168.2" x2="1466.2" y1="1337.6" y2="1337.6" stroke="#F4F4F4" stroke-width="1"/>
<line x1="1168.2" x2="1466.2" y1="1238.2" y2="1238.2" stroke="#F4F4F4" stroke-width="1"/>
<line x1="1168.2" x2="1466.2" y1="1138.8" y2="1138.8" stroke="#F4F4F4" stroke-width="1"/>
<line x1="1168.2" x2="1466.2" y1="1039.4" y2="1039.4" stroke="#F4F4F4" stroke-width="1"/>
<line x1="1172.9" x2="1172.9" y1="970" y2="1385.8" stroke="#FFF" stroke-width="1.4"/>
<line x1="1245.9" x2="1245.9" y1="970" y2="1385.8" stroke="#FFF" stroke-width="1.4"/>
<line x1="1318.9" x2="1318.9" y1="970" y2="1385.8" stroke="#FFF" stroke-width="1.4"/>
<line x1="1391.9" x2="1391.9" y1="970" y2="1385.8" stroke="#FFF" stroke-width="1.4"/>
<line x1="1464.9" x2="1464.9" y1="970" y2="1385.8" stroke="#FFF" stroke-width="1.4"/>
<line x1="1168.2" x2="1466.2" y1="1287.9" y2="1287.9" stroke="#FFF" stroke-width="1.4"/>
<line x1="1168.2" x2="1466.2" y1="1188.5" y2="1188.5" stroke="#FFF" stroke-width="1.4"/>
<line x1="1168.2" x2="1466.2" y1="1089.1" y2="1089.1" stroke="#FFF" stroke-width="1.4"/>
<line x1="1168.2" x2="1466.2" y1="989.7" y2="989.7" stroke="#FFF" stroke-width="1.4"/>
<line x1="1172.9" x2="1172.9" y1="1385.8" y2="1395.8" stroke="#333333" stroke-width="2"/>
<text x="1172.9" y="1422.1" font-size="24" text-anchor="middle" fill="#4D4D4D">0.0</text>
<line x1="1245.9" x2="1245.9" y1="1385.8" y2="1395.8" stroke="#333333" stroke-width="2"/>
<text x="1245.9" y="1422.1" font-size="24" text-anchor="middle" fill="#4D4D4D">0.5</text>
<line x1="1318.9" x2="1318.9" y1="1385.8" y2="1395.8" stroke="#333333" stroke-width="2"/>
<text x="1318.9" y="1422.1" font-size="24" text-anchor="middle" fill="#4D4D4D">1.0</text>
<line x1="1391.9" x2="1391.9" y1="1385.8" y2="1395.8" stroke="#333333" stroke-width="2"/>
<text x="1391.9" y="1422.1" font-size="24" text-anchor="middle" fill="#4D4D4D">1.5</text>
<line x1="1464.9" x2="1464.9" y1="1385.8" y2="1395.8" stroke="#333333" stroke-width="2"/>
<text x="1464.9" y="1422.1" font-size="24" text-anchor="middle" fill="#4D4D4D">2.0</text>
<line x1="1158.2" x2="1168.2" y1="1287.9" y2="1287.9" stroke="#333333" stroke-width="2"/>
<text x="1149.2" y="1296.5" font-size="24" text-anchor="end" fill="#4D4D4D">5</text>
<line x1="1158.2" x2="1168.2" y1="1188.5" y2="1188.5" stroke="#333333" stroke-width="2"/>
<text x="1149.2" y="1197.1" font-size="24" text-anchor="end" fill="#4D4D4D">10</text>
<line x1="1158.2" x2="1168.2" y1="1089.1" y2="1089.1" stroke="#333333" stroke-width="2"/>
<text x="1149.2" y="1097.7" font-size="24" text-anchor="end" fill="#4D4D4D">15</text>
<line x1="1158.2" x2="1168.2" y1="989.7" y2="989.7" stroke="#333333" stroke-width="2"/>
<text x="1149.2" y="998.3" font-size="24" text-anchor="end" fill="#4D4D4D">20</text>
<line x1="1184.5" x2="1324.5" y1="989.7" y2="989.7" stroke="#BEBEBE" stroke-width="4.2"/>
<line x1="1189.5" x2="1401.5" y1="1009.6" y2="1009.6" stroke="#BEBEBE" stroke-width="4.2"/>
<line x1="1182" x2="1452.8" y1="1029.5" y2="1029.5" stroke="#BEBEBE" stroke-width="4.2"/>
<line x1="1185.5" x2="1387" y1="1049.4" y2="1049.4" stroke="#BEBEBE" stroke-width="4.2"/>
<line x1="1206.2" x2="1313.8" y1="1069.2" y2="1069.2" stroke="#BEBEBE" stroke-width="4.2"/>
<line x1="1193.2" x2="1423.5" y1="1089.1" y2="1089.1" stroke="#BEBEBE" stroke-width="4.2"/>
<line x1="1202.5" x2="1393.5" y1="1109" y2="1109" stroke="#BEBEBE" stroke-width="4.2"/>
<line x1="1192" x2="1358.5" y1="1128.9" y2="1128.9" stroke="#BEBEBE" stroke-width="4.2"/>
<line x1="1195.8" x2="1349.5" y1="1148.8" y2="1148.8" stroke="#BEBEBE" stroke-width="4.2"/>
<line x1="1187.8" x2="1423.2" y1="1168.6" y2="1168.6" stroke="#BEBEBE" stroke-width="4.2"/>
<line x1="1193" x2="1430" y1="1188.5" y2="1188.5" stroke="#BEBEBE" stroke-width="4.2"/>
<line x1="1199.5" x2="1379.2" y1="1208.4" y2="1208.4" stroke="#BEBEBE" stroke-width="4.2"/>
<line x1="1188.2" x2="1265.2" y1="1228.3" y2="1228.3" stroke="#BEBEBE" stroke-width="4.2"/>
<line x1="1210" x2="1375.5" y1="1248.1" y2="1248.1" stroke="#BEBEBE" stroke-width="4.2"/>
<line x1="1193.8" x2="1365" y1="1268" y2="1268" stroke="#BEBEBE" stroke-width="4.2"/>
<line x1="1187.5" x2="1446.2" y1="1287.9" y2="1287.9" stroke="#BEBEBE" stroke-width="4.2"/>
<line x1="1184.5" x2="1450.2" y1="1307.8" y2="1307.8" stroke="#BEBEBE" stroke-width="4.2"/>
<line x1="1193" x2="1401" y1="1327.6" y2="1327.6" stroke="#BEBEBE" stroke-width="4.2"/>
<line x1="1190.8" x2="1416" y1="1347.5" y2="1347.5" stroke="#BEBEBE" stroke-width="4.2"/>
<line x1="1187.5" x2="1386" y1="1367.4" y2="1367.4" stroke="#BEBEBE" stroke-width="4.2"/>
<rect x="1235.2" y="983.1" width="13.2" height="13.2" fill="#FFF" stroke="#000" stroke-width="1.3"/>
<rect x="1257.4" y="1003" width="13.2" height="13.2" fill="#FFF" stroke="#000" stroke-width="1.3"/>
<rect x="1310.2" y="1022.9" width="13.2" height="13.2" fill="#FFF" stroke="#000" stroke-width="1.3"/>
<rect x="1263.4" y="1042.8" width="13.2" height="13.2" fill="#FFF" stroke="#000" stroke-width="1.3"/>
<rect x="1254.2" y="1062.6" width="13.2" height="13.2" fill="#FFF" stroke="#000" stroke-width="1.3"/>
<rect x="1292.2" y="1082.5" width="13.2" height="13.2" fill="#FFF" stroke="#000" stroke-width="1.3"/>
<rect x="1249.9" y="1102.4" width="13.2" height="13.2" fill="#FFF" stroke="#000" stroke-width="1.3"/>
<rect x="1220.9" y="1122.3" width="13.2" height="13.2" fill="#FFF" stroke="#000" stroke-width="1.3"/>
<rect x="1244.7" y="1142.2" width="13.2" height="13.2" fill="#FFF" stroke="#000" stroke-width="1.3"/>
<rect x="1279.7" y="1162" width="13.2" height="13.2" fill="#FFF" stroke="#000" stroke-width="1.3"/>
<rect x="1261.7" y="1181.9" width="13.2" height="13.2" fill="#FFF" stroke="#000" stroke-width="1.3"/>
<rect x="1249.7" y="1201.8" width="13.2" height="13.2" fill="#FFF" stroke="#000" stroke-width="1.3"/>
<rect x="1215.2" y="1221.7" width="13.2" height="13.2" fill="#FFF" stroke="#000" stroke-width="1.3"/>
<rect x="1236.7" y="1241.5" width="13.2" height="13.2" fill="#FFF" stroke="#000" stroke-width="1.3"/>
<rect x="1270.7" y="1261.4" width="13.2" height="13.2" fill="#FFF" stroke="#000" stroke-width="1.3"/>
<rect x="1284.9" y="1281.3" width="13.2" height="13.2" fill="#FFF" stroke="#000" stroke-width="1.3"/>
<rect x="1300.2" y="1301.2" width="13.2" height="13.2" fill="#FFF" stroke="#000" stroke-width="1.3"/>
<rect x="1262.2" y="1321" width="13.2" height="13.2" fill="#FFF" stroke="#000" stroke-width="1.3"/>
<rect x="1292.2" y="1340.9" width="13.2" height="13.2" fill="#FFF" stroke="#000" stroke-width="1.3"/>
<rect x="1264.7" y="1360.8" width="13.2" height="13.2" fill="#FFF" stroke="#000" stroke-width="1.3"/>
<circle cx="1241.8" cy="989.7" r="8.2" fill="#000"/>
<circle cx="1278.8" cy="1009.6" r="8.2" fill="#000"/>
<circle cx="1309" cy="1029.5" r="8.2" fill="#000"/>
<circle cx="1273.8" cy="1049.4" r="8.2" fill="#000"/>
<circle cx="1216.5" cy="1069.2" r="8.2" fill="#000"/>
<circle cx="1288.8" cy="1089.1" r="8.2" fill="#000"/>
<circle cx="1269.2" cy="1109" r="8.2" fill="#000"/>
<circle cx="1256.5" cy="1128.9" r="8.2" fill="#000"/>
<circle cx="1251.8" cy="1148.8" r="8.2" fill="#000"/>
<circle cx="1291.2" cy="1168.6" r="8.2" fill="#000"/>
<circle cx="1292.8" cy="1188.5" r="8.2" fill="#000"/>
<circle cx="1263.8" cy="1208.4" r="8.2" fill="#000"/>
<circle cx="1210.2" cy="1228.3" r="8.2" fill="#000"/>
<circle cx="1256.8" cy="1248.1" r="8.2" fill="#000"/>
<circle cx="1258.2" cy="1268" r="8.2" fill="#000"/>
<circle cx="1303.5" cy="1287.9" r="8.2" fill="#000"/>
<circle cx="1306.8" cy="1307.8" r="8.2" fill="#000"/>
<circle cx="1277.8" cy="1327.6" r="8.2" fill="#000"/>
<circle cx="1284.5" cy="1347.5" r="8.2" fill="#000"/>
<circle cx="1273" cy="1367.4" r="8.2" fill="#000"/>
<rect x="1532" y="906.8" width="298" height="63.2" fill="#D9D9D9"/>
<rect x="1532" y="970" width="298" height="415.8" fill="#EBEBEB"/>
<text transform="translate(1682.3,946.9) scale(1.07,1)" font-size="35" text-anchor="middle" fill="#1A1A1A" font-family='"Liberation Serif", "DejaVu Serif", serif'>κ</text>
<line x1="1559.5" x2="1559.5" y1="970" y2="1385.8" stroke="#F4F4F4" stroke-width="1"/>
<line x1="1609.4" x2="1609.4" y1="970" y2="1385.8" stroke="#F4F4F4" stroke-width="1"/>
<line x1="1659.4" x2="1659.4" y1="970" y2="1385.8" stroke="#F4F4F4" stroke-width="1"/>
<line x1="1709.3" x2="1709.3" y1="970" y2="1385.8" stroke="#F4F4F4" stroke-width="1"/>
<line x1="1759.3" x2="1759.3" y1="970" y2="1385.8" stroke="#F4F4F4" stroke-width="1"/>
<line x1="1809.2" x2="1809.2" y1="970" y2="1385.8" stroke="#F4F4F4" stroke-width="1"/>
<line x1="1532" x2="1830" y1="1337.6" y2="1337.6" stroke="#F4F4F4" stroke-width="1"/>
<line x1="1532" x2="1830" y1="1238.2" y2="1238.2" stroke="#F4F4F4" stroke-width="1"/>
<line x1="1532" x2="1830" y1="1138.8" y2="1138.8" stroke="#F4F4F4" stroke-width="1"/>
<line x1="1532" x2="1830" y1="1039.4" y2="1039.4" stroke="#F4F4F4" stroke-width="1"/>
<line x1="1534.5" x2="1534.5" y1="970" y2="1385.8" stroke="#FFF" stroke-width="1.4"/>
<line x1="1584.5" x2="1584.5" y1="970" y2="1385.8" stroke="#FFF" stroke-width="1.4"/>
<line x1="1634.4" x2="1634.4" y1="970" y2="1385.8" stroke="#FFF" stroke-width="1.4"/>
<line x1="1684.3" x2="1684.3" y1="970" y2="1385.8" stroke="#FFF" stroke-width="1.4"/>
<line x1="1734.3" x2="1734.3" y1="970" y2="1385.8" stroke="#FFF" stroke-width="1.4"/>
<line x1="1784.2" x2="1784.2" y1="970" y2="1385.8" stroke="#FFF" stroke-width="1.4"/>
<line x1="1532" x2="1830" y1="1287.9" y2="1287.9" stroke="#FFF" stroke-width="1.4"/>
<line x1="1532" x2="1830" y1="1188.5" y2="1188.5" stroke="#FFF" stroke-width="1.4"/>
<line x1="1532" x2="1830" y1="1089.1" y2="1089.1" stroke="#FFF" stroke-width="1.4"/>
<line x1="1532" x2="1830" y1="989.7" y2="989.7" stroke="#FFF" stroke-width="1.4"/>
<line x1="1534.5" x2="1534.5" y1="1385.8" y2="1395.8" stroke="#333333" stroke-width="2"/>
<text x="1534.5" y="1422.1" font-size="24" text-anchor="middle" fill="#4D4D4D">0.0</text>
<line x1="1584.5" x2="1584.5" y1="1385.8" y2="1395.8" stroke="#333333" stroke-width="2"/>
<text x="1584.5" y="1422.1" font-size="24" text-anchor="middle" fill="#4D4D4D">0.1</text>
<line x1="1634.4" x2="1634.4" y1="1385.8" y2="1395.8" stroke="#333333" stroke-width="2"/>
<text x="1634.4" y="1422.1" font-size="24" text-anchor="middle" fill="#4D4D4D">0.2</text>
<line x1="1684.3" x2="1684.3" y1="1385.8" y2="1395.8" stroke="#333333" stroke-width="2"/>
<text x="1684.3" y="1422.1" font-size="24" text-anchor="middle" fill="#4D4D4D">0.3</text>
<line x1="1734.3" x2="1734.3" y1="1385.8" y2="1395.8" stroke="#333333" stroke-width="2"/>
<text x="1734.3" y="1422.1" font-size="24" text-anchor="middle" fill="#4D4D4D">0.4</text>
<line x1="1784.2" x2="1784.2" y1="1385.8" y2="1395.8" stroke="#333333" stroke-width="2"/>
<text x="1784.2" y="1422.1" font-size="24" text-anchor="middle" fill="#4D4D4D">0.5</text>
<line x1="1522" x2="1532" y1="1287.9" y2="1287.9" stroke="#333333" stroke-width="2"/>
<text x="1513" y="1296.5" font-size="24" text-anchor="end" fill="#4D4D4D">5</text>
<line x1="1522" x2="1532" y1="1188.5" y2="1188.5" stroke="#333333" stroke-width="2"/>
<text x="1513" y="1197.1" font-size="24" text-anchor="end" fill="#4D4D4D">10</text>
<line x1="1522" x2="1532" y1="1089.1" y2="1089.1" stroke="#333333" stroke-width="2"/>
<text x="1513" y="1097.7" font-size="24" text-anchor="end" fill="#4D4D4D">15</text>
<line x1="1522" x2="1532" y1="989.7" y2="989.7" stroke="#333333" stroke-width="2"/>
<text x="1513" y="998.3" font-size="24" text-anchor="end" fill="#4D4D4D">20</text>
<line x1="1552" x2="1739.5" y1="989.7" y2="989.7" stroke="#BEBEBE" stroke-width="4.2"/>
<line x1="1550.8" x2="1701" y1="1009.6" y2="1009.6" stroke="#BEBEBE" stroke-width="4.2"/>
<line x1="1545.8" x2="1658" y1="1029.5" y2="1029.5" stroke="#BEBEBE" stroke-width="4.2"/>
<line x1="1548.2" x2="1721.8" y1="1049.4" y2="1049.4" stroke="#BEBEBE" stroke-width="4.2"/>
<line x1="1546.2" x2="1635.8" y1="1069.2" y2="1069.2" stroke="#BEBEBE" stroke-width="4.2"/>
<line x1="1555.5" x2="1748.5" y1="1089.1" y2="1089.1" stroke="#BEBEBE" stroke-width="4.2"/>
<line x1="1568.2" x2="1755.5" y1="1109" y2="1109" stroke="#BEBEBE" stroke-width="4.2"/>
<line x1="1563.2" x2="1728" y1="1128.9" y2="1128.9" stroke="#BEBEBE" stroke-width="4.2"/>
<line x1="1554.5" x2="1695.8" y1="1148.8" y2="1148.8" stroke="#BEBEBE" stroke-width="4.2"/>
<line x1="1557" x2="1762.5" y1="1168.6" y2="1168.6" stroke="#BEBEBE" stroke-width="4.2"/>
<line x1="1551.2" x2="1663.2" y1="1188.5" y2="1188.5" stroke="#BEBEBE" stroke-width="4.2"/>
<line x1="1559" x2="1694.8" y1="1208.4" y2="1208.4" stroke="#BEBEBE" stroke-width="4.2"/>
<line x1="1554.2" x2="1696.2" y1="1228.3" y2="1228.3" stroke="#BEBEBE" stroke-width="4.2"/>
<line x1="1559" x2="1713.2" y1="1248.1" y2="1248.1" stroke="#BEBEBE" stroke-width="4.2"/>
<line x1="1551" x2="1671.8" y1="1268" y2="1268" stroke="#BEBEBE" stroke-width="4.2"/>
<line x1="1554.2" x2="1683.8" y1="1287.9" y2="1287.9" stroke="#BEBEBE" stroke-width="4.2"/>
<line x1="1558" x2="1705" y1="1307.8" y2="1307.8" stroke="#BEBEBE" stroke-width="4.2"/>
<line x1="1560.2" x2="1707.2" y1="1327.6" y2="1327.6" stroke="#BEBEBE" stroke-width="4.2"/>
<line x1="1549.2" x2="1681" y1="1347.5" y2="1347.5" stroke="#BEBEBE" stroke-width="4.2"/>
<line x1="1565.2" x2="1816.5" y1="1367.4" y2="1367.4" stroke="#BEBEBE" stroke-width="4.2"/>
<rect x="1662.4" y="983.1" width="13.2" height="13.2" fill="#FFF" stroke="#000" stroke-width="1.3"/>
<rect x="1635.2" y="1003" width="13.2" height="13.2" fill="#FFF" stroke="#000" stroke-width="1.3"/>
<rect x="1594.2" y="1022.9" width="13.2" height="13.2" fill="#FFF" stroke="#000" stroke-width="1.3"/>
<rect x="1680.4" y="1042.8" width="13.2" height="13.2" fill="#FFF" stroke="#000" stroke-width="1.3"/>
<rect x="1573.4" y="1062.6" width="13.2" height="13.2" fill="#FFF" stroke="#000" stroke-width="1.3"/>
<rect x="1661.9" y="1082.5" width="13.2" height="13.2" fill="#FFF" stroke="#000" stroke-width="1.3"/>
<rect x="1698.4" y="1102.4" width="13.2" height="13.2" fill="#FFF" stroke="#000" stroke-width="1.3"/>
<rect x="1588.7" y="1122.3" width="13.2" height="13.2" fill="#FFF" stroke="#000" stroke-width="1.3"/>
<rect x="1638.4" y="1142.2" width="13.2" height="13.2" fill="#FFF" stroke="#000" stroke-width="1.3"/>
<rect x="1671.4" y="1162" width="13.2" height="13.2" fill="#FFF" stroke="#000" stroke-width="1.3"/>
<rect x="1565.4" y="1181.9" width="13.2" height="13.2" fill="#FFF" stroke="#000" stroke-width="1.3"/>
<rect x="1571.4" y="1201.8" width="13.2" height="13.2" fill="#FFF" stroke="#000" stroke-width="1.3"/>
<rect x="1633.7" y="1221.7" width="13.2" height="13.2" fill="#FFF" stroke="#000" stroke-width="1.3"/>
<rect x="1609.7" y="1241.5" width="13.2" height="13.2" fill="#FFF" stroke="#000" stroke-width="1.3"/>
<rect x="1582.7" y="1261.4" width="13.2" height="13.2" fill="#FFF" stroke="#000" stroke-width="1.3"/>
<rect x="1573.9" y="1281.3" width="13.2" height="13.2" fill="#FFF" stroke="#000" stroke-width="1.3"/>
<rect x="1593.4" y="1301.2" width="13.2" height="13.2" fill="#FFF" stroke="#000" stroke-width="1.3"/>
<rect x="1586.7" y="1321" width="13.2" height="13.2" fill="#FFF" stroke="#000" stroke-width="1.3"/>
<rect x="1614.4" y="1340.9" width="13.2" height="13.2" fill="#FFF" stroke="#000" stroke-width="1.3"/>
<rect x="1703.2" y="1360.8" width="13.2" height="13.2" fill="#FFF" stroke="#000" stroke-width="1.3"/>
<circle cx="1627" cy="989.7" r="8.2" fill="#000"/>
<circle cx="1609.8" cy="1009.6" r="8.2" fill="#000"/>
<circle cx="1589.5" cy="1029.5" r="8.2" fill="#000"/>
<circle cx="1621.2" cy="1049.4" r="8.2" fill="#000"/>
<circle cx="1578" cy="1069.2" r="8.2" fill="#000"/>
<circle cx="1629.8" cy="1089.1" r="8.2" fill="#000"/>
<circle cx="1626.8" cy="1109" r="8.2" fill="#000"/>
<circle cx="1616.5" cy="1128.9" r="8.2" fill="#000"/>
<circle cx="1605.2" cy="1148.8" r="8.2" fill="#000"/>
<circle cx="1635.2" cy="1168.6" r="8.2" fill="#000"/>
<circle cx="1589.8" cy="1188.5" r="8.2" fill="#000"/>
<circle cx="1602" cy="1208.4" r="8.2" fill="#000"/>
<circle cx="1605.5" cy="1228.3" r="8.2" fill="#000"/>
<circle cx="1608.8" cy="1248.1" r="8.2" fill="#000"/>
<circle cx="1594.5" cy="1268" r="8.2" fill="#000"/>
<circle cx="1599.5" cy="1287.9" r="8.2" fill="#000"/>
<circle cx="1607" cy="1307.8" r="8.2" fill="#000"/>
<circle cx="1607" cy="1327.6" r="8.2" fill="#000"/>
<circle cx="1600.8" cy="1347.5" r="8.2" fill="#000"/>
<circle cx="1659" cy="1367.4" r="8.2" fill="#000"/>
<text x="1318.5" y="1470.5" font-size="40.6" text-anchor="middle" fill="#000">Parameter estimate</text>
<text transform="translate(735,1178) rotate(-90)" font-size="40.8" text-anchor="middle" fill="#000">Subject</text>
<rect x="1859" y="1147.9" width="32.9" height="32.9" fill="#F2F2F2"/>
<rect x="1859" y="1183" width="32.9" height="32.9" fill="#F2F2F2"/>
<circle cx="1875.6" cy="1164.2" r="8.25" fill="#000"/>
<rect x="1868.85" y="1192.85" width="13.2" height="13.2" fill="#FFF" stroke="#000" stroke-width="1.3"/>
<text x="1895.8" y="1175.2" font-size="32.3" fill="#000">Bayes</text>
<text x="1895.8" y="1210.9" font-size="32.6" fill="#000">Simulated</text>
</svg>
</body></html>
